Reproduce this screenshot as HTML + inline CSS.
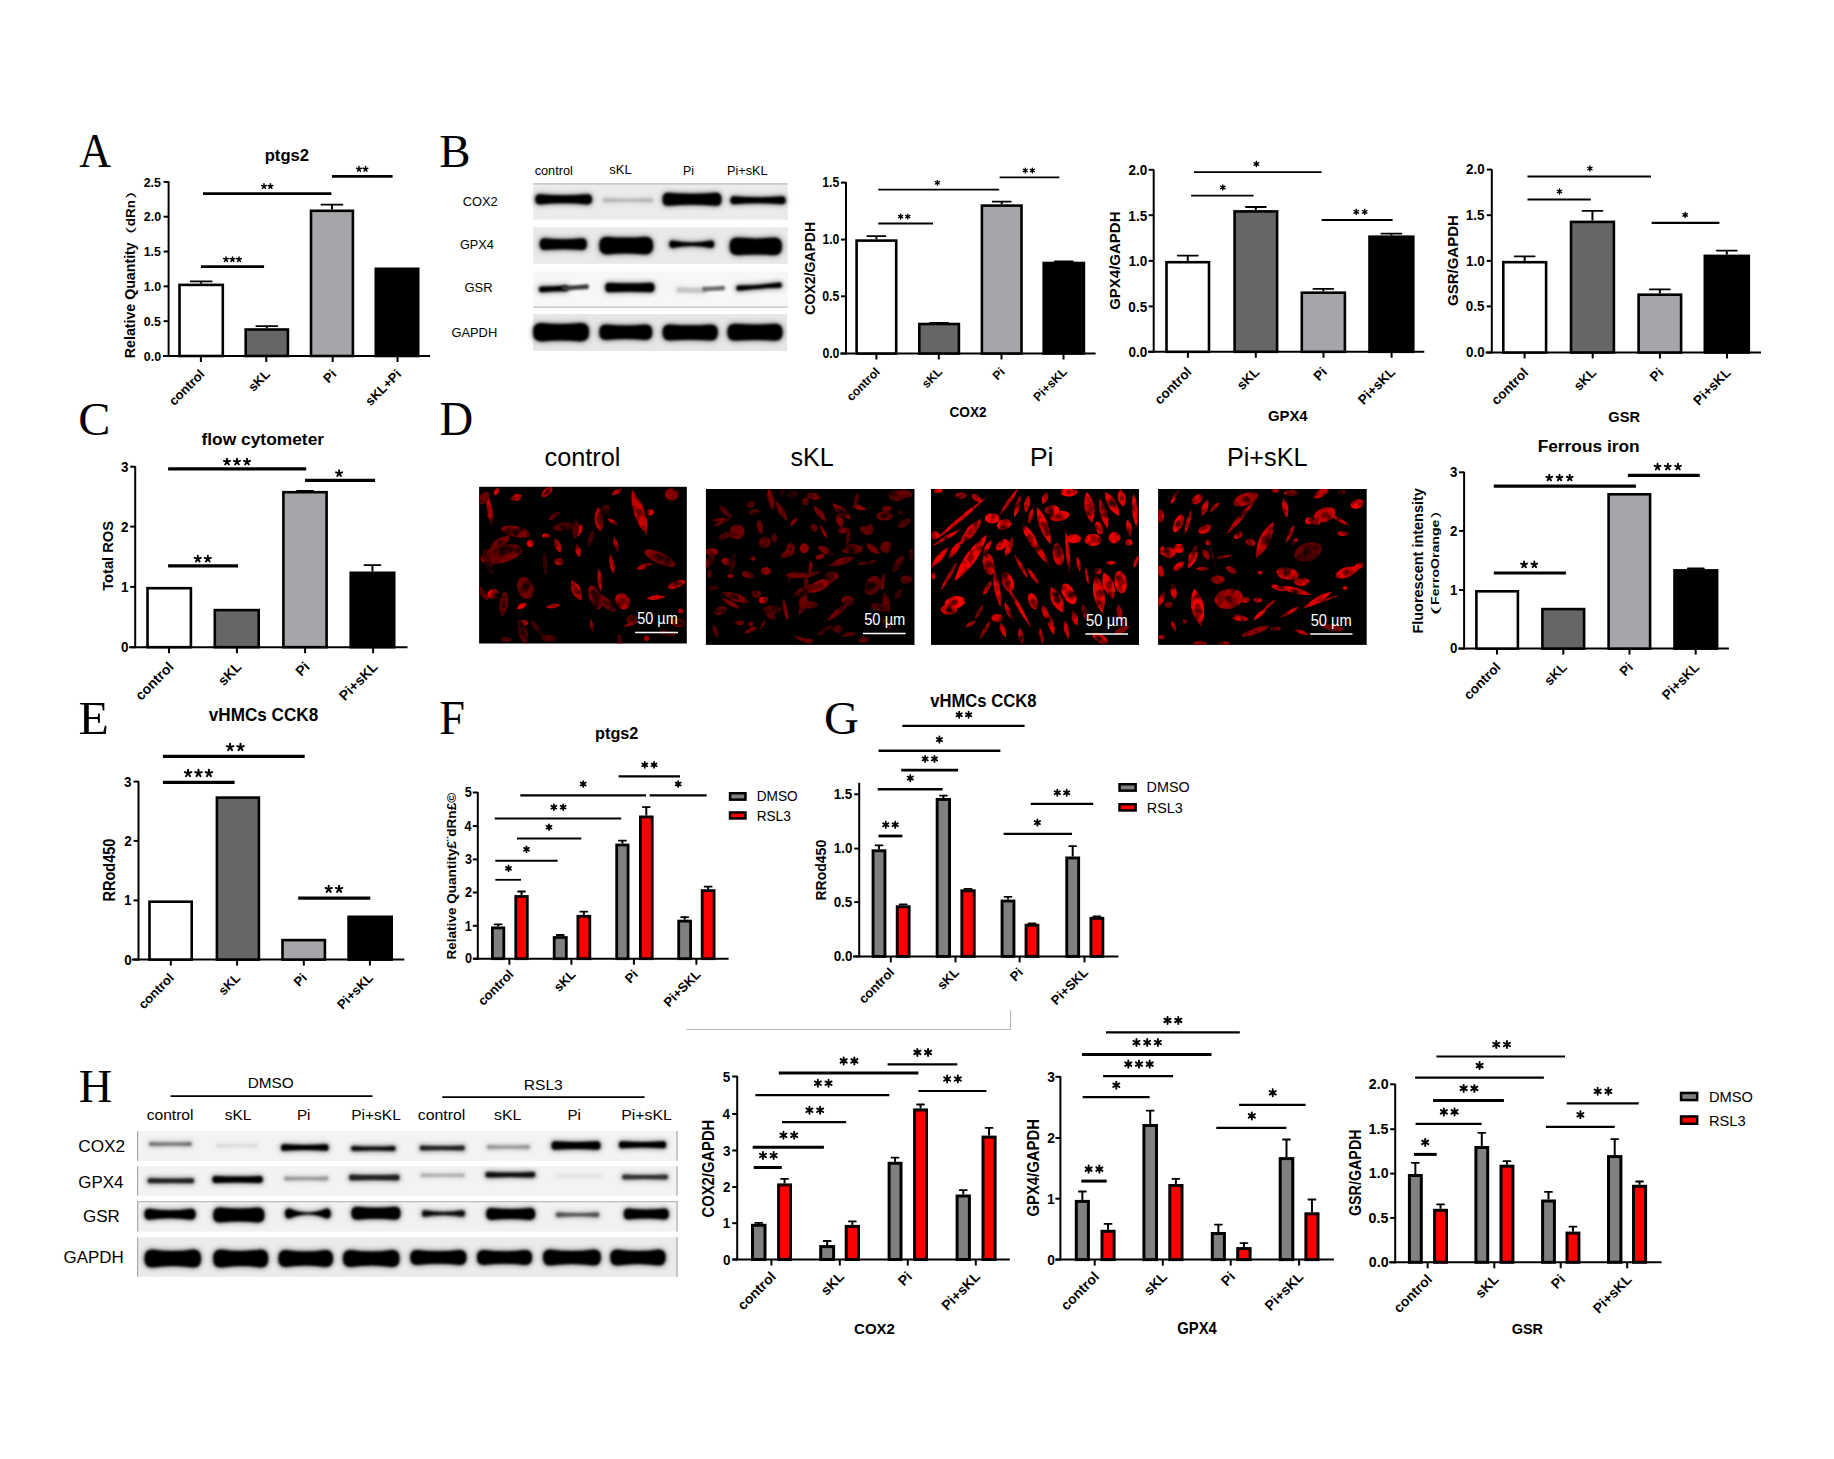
<!DOCTYPE html>
<html><head><meta charset="utf-8"><title>Figure</title>
<style>html,body{margin:0;padding:0;background:#fff;width:1834px;height:1459px;overflow:hidden}svg{display:block}</style>
</head><body>
<svg width="1834" height="1459" viewBox="0 0 1834 1459" font-family="'Liberation Sans', sans-serif">
<defs>
<filter id="b1" x="-20%" y="-100%" width="140%" height="300%"><feGaussianBlur stdDeviation="1.3"/></filter>
<filter id="b2" x="-20%" y="-100%" width="140%" height="300%"><feGaussianBlur stdDeviation="0.8"/></filter>
<filter id="bh" x="-30%" y="-150%" width="160%" height="400%"><feGaussianBlur stdDeviation="2.5"/></filter>
<filter id="cb" x="0" y="0" width="100%" height="100%" color-interpolation-filters="sRGB"><feTurbulence type="fractalNoise" baseFrequency="0.11" numOctaves="2" seed="7" result="n"/><feColorMatrix in="n" type="matrix" values="0 0 0 0 0  0 0 0 0 0  0 0 0 0 0  0 0 0 2.0 -0.2" result="na"/><feComposite in="SourceGraphic" in2="na" operator="in" result="t"/><feGaussianBlur in="t" stdDeviation="0.7"/></filter>
</defs>
<rect width="1834" height="1459" fill="#fff"/>
<text x="79.26" y="167.20" font-size="48.03" fill="#000" font-family="'Liberation Serif', serif" textLength="31.86" lengthAdjust="spacingAndGlyphs">A</text>
<text x="439.21" y="166.79" font-size="45.48" fill="#000" font-family="'Liberation Serif', serif" textLength="31.31" lengthAdjust="spacingAndGlyphs">B</text>
<text x="78.27" y="434.74" font-size="45.65" fill="#000" font-family="'Liberation Serif', serif" textLength="32.16" lengthAdjust="spacingAndGlyphs">C</text>
<text x="439.62" y="434.88" font-size="47.76" fill="#000" font-family="'Liberation Serif', serif" textLength="33.63" lengthAdjust="spacingAndGlyphs">D</text>
<text x="78.53" y="734.10" font-size="47.33" fill="#000" font-family="'Liberation Serif', serif" textLength="30.40" lengthAdjust="spacingAndGlyphs">E</text>
<text x="439.23" y="734.00" font-size="47.94" fill="#000" font-family="'Liberation Serif', serif" textLength="25.75" lengthAdjust="spacingAndGlyphs">F</text>
<text x="823.97" y="733.54" font-size="46.10" fill="#000" font-family="'Liberation Serif', serif" textLength="34.89" lengthAdjust="spacingAndGlyphs">G</text>
<text x="78.82" y="1102.40" font-size="46.41" fill="#000" font-family="'Liberation Serif', serif" textLength="33.56" lengthAdjust="spacingAndGlyphs">H</text>
<line x1="168.60" y1="181.20" x2="168.60" y2="357.00" stroke="#000" stroke-width="2" stroke-linecap="butt"/>
<line x1="163.00" y1="356.00" x2="430.00" y2="356.00" stroke="#000" stroke-width="2" stroke-linecap="butt"/>
<line x1="163.60" y1="356.00" x2="168.60" y2="356.00" stroke="#000" stroke-width="2" stroke-linecap="butt"/>
<text x="143.82" y="360.70" font-size="13.48" fill="#000" font-weight="bold" textLength="17.28" lengthAdjust="spacingAndGlyphs">0.0</text>
<line x1="163.60" y1="321.18" x2="168.60" y2="321.18" stroke="#000" stroke-width="2" stroke-linecap="butt"/>
<text x="143.66" y="325.88" font-size="13.48" fill="#000" font-weight="bold" textLength="17.28" lengthAdjust="spacingAndGlyphs">0.5</text>
<line x1="163.60" y1="286.36" x2="168.60" y2="286.36" stroke="#000" stroke-width="2" stroke-linecap="butt"/>
<text x="143.82" y="291.06" font-size="13.48" fill="#000" font-weight="bold" textLength="17.28" lengthAdjust="spacingAndGlyphs">1.0</text>
<line x1="163.60" y1="251.54" x2="168.60" y2="251.54" stroke="#000" stroke-width="2" stroke-linecap="butt"/>
<text x="143.66" y="256.24" font-size="13.48" fill="#000" font-weight="bold" textLength="17.28" lengthAdjust="spacingAndGlyphs">1.5</text>
<line x1="163.60" y1="216.72" x2="168.60" y2="216.72" stroke="#000" stroke-width="2" stroke-linecap="butt"/>
<text x="143.82" y="221.42" font-size="13.48" fill="#000" font-weight="bold" textLength="17.28" lengthAdjust="spacingAndGlyphs">2.0</text>
<line x1="163.60" y1="181.90" x2="168.60" y2="181.90" stroke="#000" stroke-width="2" stroke-linecap="butt"/>
<text x="143.66" y="186.60" font-size="13.48" fill="#000" font-weight="bold" textLength="17.28" lengthAdjust="spacingAndGlyphs">2.5</text>
<line x1="200.90" y1="356.00" x2="200.90" y2="362.00" stroke="#000" stroke-width="2" stroke-linecap="butt"/>
<line x1="266.30" y1="356.00" x2="266.30" y2="362.00" stroke="#000" stroke-width="2" stroke-linecap="butt"/>
<line x1="332.70" y1="356.00" x2="332.70" y2="362.00" stroke="#000" stroke-width="2" stroke-linecap="butt"/>
<line x1="397.50" y1="356.00" x2="397.50" y2="362.00" stroke="#000" stroke-width="2" stroke-linecap="butt"/>
<line x1="201.15" y1="283.60" x2="201.15" y2="281.10" stroke="#000" stroke-width="2" stroke-linecap="butt"/>
<line x1="190.65" y1="281.40" x2="211.65" y2="281.40" stroke="#000" stroke-width="1.8" stroke-linecap="round"/>
<rect x="179.50" y="284.90" width="43.30" height="71.10" fill="#ffffff" stroke="#000" stroke-width="2.6"/>
<line x1="266.80" y1="328.20" x2="266.80" y2="325.80" stroke="#000" stroke-width="2" stroke-linecap="butt"/>
<line x1="256.30" y1="326.10" x2="277.30" y2="326.10" stroke="#000" stroke-width="1.8" stroke-linecap="round"/>
<rect x="245.70" y="329.50" width="42.20" height="26.50" fill="#666666" stroke="#000" stroke-width="2.6"/>
<line x1="331.95" y1="209.50" x2="331.95" y2="204.40" stroke="#000" stroke-width="2" stroke-linecap="butt"/>
<line x1="321.45" y1="204.70" x2="342.45" y2="204.70" stroke="#000" stroke-width="1.8" stroke-linecap="round"/>
<rect x="311.00" y="210.80" width="41.90" height="145.20" fill="#a6a6aa" stroke="#000" stroke-width="2.6"/>
<rect x="375.80" y="268.80" width="42.40" height="87.20" fill="#000000" stroke="#000" stroke-width="2.6"/>
<line x1="200.90" y1="266.70" x2="264.10" y2="266.70" stroke="#000" stroke-width="2.8" stroke-linecap="butt"/>
<path d="M226.00 259.40L226.00 256.90M226.00 259.40L228.35 258.54M226.00 259.40L223.65 258.54M226.00 259.40L227.43 261.45M226.00 259.40L224.57 261.45" stroke="#000" stroke-width="1.50" stroke-linecap="round" fill="none"/>
<path d="M232.50 259.40L232.50 256.90M232.50 259.40L234.85 258.54M232.50 259.40L230.15 258.54M232.50 259.40L233.93 261.45M232.50 259.40L231.07 261.45" stroke="#000" stroke-width="1.50" stroke-linecap="round" fill="none"/>
<path d="M239.00 259.40L239.00 256.90M239.00 259.40L241.35 258.54M239.00 259.40L236.65 258.54M239.00 259.40L240.43 261.45M239.00 259.40L237.57 261.45" stroke="#000" stroke-width="1.50" stroke-linecap="round" fill="none"/>
<line x1="203.00" y1="193.60" x2="331.40" y2="193.60" stroke="#000" stroke-width="2.8" stroke-linecap="butt"/>
<path d="M263.95 186.30L263.95 183.80M263.95 186.30L266.30 185.44M263.95 186.30L261.60 185.44M263.95 186.30L265.38 188.35M263.95 186.30L262.52 188.35" stroke="#000" stroke-width="1.50" stroke-linecap="round" fill="none"/>
<path d="M270.45 186.30L270.45 183.80M270.45 186.30L272.80 185.44M270.45 186.30L268.10 185.44M270.45 186.30L271.88 188.35M270.45 186.30L269.02 188.35" stroke="#000" stroke-width="1.50" stroke-linecap="round" fill="none"/>
<line x1="331.90" y1="176.40" x2="392.60" y2="176.40" stroke="#000" stroke-width="2.8" stroke-linecap="butt"/>
<path d="M359.00 169.10L359.00 166.60M359.00 169.10L361.35 168.24M359.00 169.10L356.65 168.24M359.00 169.10L360.43 171.15M359.00 169.10L357.57 171.15" stroke="#000" stroke-width="1.50" stroke-linecap="round" fill="none"/>
<path d="M365.50 169.10L365.50 166.60M365.50 169.10L367.85 168.24M365.50 169.10L363.15 168.24M365.50 169.10L366.93 171.15M365.50 169.10L364.07 171.15" stroke="#000" stroke-width="1.50" stroke-linecap="round" fill="none"/>
<text x="205.40" y="375.00" font-size="13" fill="#000" font-weight="bold" text-anchor="end" transform="rotate(-45 205.40 375.00)">control</text>
<text x="270.80" y="375.00" font-size="13" fill="#000" font-weight="bold" text-anchor="end" transform="rotate(-45 270.80 375.00)">sKL</text>
<text x="337.20" y="375.00" font-size="13" fill="#000" font-weight="bold" text-anchor="end" transform="rotate(-45 337.20 375.00)">Pi</text>
<text x="402.00" y="375.00" font-size="13" fill="#000" font-weight="bold" text-anchor="end" transform="rotate(-45 402.00 375.00)">sKL+Pi</text>
<text x="264.72" y="160.88" font-size="17.03" fill="#000" font-weight="bold" textLength="44.34" lengthAdjust="spacingAndGlyphs">ptgs2</text>
<text x="134.93" y="358.16" font-size="13.83" fill="#000" font-weight="bold" textLength="115.85" lengthAdjust="spacingAndGlyphs" transform="rotate(-90 134.93 358.16)">Relative Quantity</text>
<text x="133.66" y="233.80" font-size="11.26" fill="#000" textLength="6.91" lengthAdjust="spacingAndGlyphs" transform="rotate(-90 133.66 233.80)">(</text>
<text x="134.80" y="226.24" font-size="13.66" fill="#000" font-weight="bold" textLength="26.06" lengthAdjust="spacingAndGlyphs" transform="rotate(-90 134.80 226.24)">dRn</text>
<text x="133.66" y="198.14" font-size="11.26" fill="#000" textLength="6.28" lengthAdjust="spacingAndGlyphs" transform="rotate(-90 133.66 198.14)">)</text>
<line x1="846.00" y1="182.20" x2="846.00" y2="354.50" stroke="#000" stroke-width="2" stroke-linecap="butt"/>
<line x1="840.30" y1="353.50" x2="1095.60" y2="353.50" stroke="#000" stroke-width="2" stroke-linecap="butt"/>
<line x1="841.00" y1="353.50" x2="846.00" y2="353.50" stroke="#000" stroke-width="2" stroke-linecap="butt"/>
<text x="822.39" y="358.35" font-size="14.11" fill="#000" font-weight="bold" textLength="17.00" lengthAdjust="spacingAndGlyphs">0.0</text>
<line x1="841.00" y1="296.30" x2="846.00" y2="296.30" stroke="#000" stroke-width="2" stroke-linecap="butt"/>
<text x="822.24" y="301.15" font-size="14.11" fill="#000" font-weight="bold" textLength="17.00" lengthAdjust="spacingAndGlyphs">0.5</text>
<line x1="841.00" y1="239.60" x2="846.00" y2="239.60" stroke="#000" stroke-width="2" stroke-linecap="butt"/>
<text x="822.39" y="244.45" font-size="14.11" fill="#000" font-weight="bold" textLength="17.00" lengthAdjust="spacingAndGlyphs">1.0</text>
<line x1="841.00" y1="182.60" x2="846.00" y2="182.60" stroke="#000" stroke-width="2" stroke-linecap="butt"/>
<text x="822.24" y="187.45" font-size="14.11" fill="#000" font-weight="bold" textLength="17.00" lengthAdjust="spacingAndGlyphs">1.5</text>
<line x1="876.40" y1="353.50" x2="876.40" y2="359.50" stroke="#000" stroke-width="2" stroke-linecap="butt"/>
<line x1="938.80" y1="353.50" x2="938.80" y2="359.50" stroke="#000" stroke-width="2" stroke-linecap="butt"/>
<line x1="1001.50" y1="353.50" x2="1001.50" y2="359.50" stroke="#000" stroke-width="2" stroke-linecap="butt"/>
<line x1="1063.50" y1="353.50" x2="1063.50" y2="359.50" stroke="#000" stroke-width="2" stroke-linecap="butt"/>
<line x1="876.40" y1="239.30" x2="876.40" y2="235.90" stroke="#000" stroke-width="2" stroke-linecap="butt"/>
<line x1="867.40" y1="236.20" x2="885.40" y2="236.20" stroke="#000" stroke-width="1.8" stroke-linecap="round"/>
<rect x="856.60" y="240.60" width="39.60" height="112.90" fill="#ffffff" stroke="#000" stroke-width="2.6"/>
<line x1="939.10" y1="322.70" x2="939.10" y2="322.50" stroke="#000" stroke-width="2" stroke-linecap="butt"/>
<line x1="930.10" y1="322.80" x2="948.10" y2="322.80" stroke="#000" stroke-width="1.8" stroke-linecap="round"/>
<rect x="919.30" y="324.00" width="39.60" height="29.50" fill="#666666" stroke="#000" stroke-width="2.6"/>
<line x1="1001.70" y1="204.30" x2="1001.70" y2="201.40" stroke="#000" stroke-width="2" stroke-linecap="butt"/>
<line x1="992.70" y1="201.70" x2="1010.70" y2="201.70" stroke="#000" stroke-width="1.8" stroke-linecap="round"/>
<rect x="981.90" y="205.60" width="39.60" height="147.90" fill="#a6a6aa" stroke="#000" stroke-width="2.6"/>
<line x1="1063.80" y1="261.70" x2="1063.80" y2="261.00" stroke="#000" stroke-width="2" stroke-linecap="butt"/>
<line x1="1054.80" y1="261.30" x2="1072.80" y2="261.30" stroke="#000" stroke-width="1.8" stroke-linecap="round"/>
<rect x="1043.70" y="263.00" width="40.20" height="90.50" fill="#000000" stroke="#000" stroke-width="2.6"/>
<line x1="878.30" y1="223.50" x2="933.00" y2="223.50" stroke="#000" stroke-width="1.8" stroke-linecap="butt"/>
<path d="M900.65 216.60L900.65 214.20M900.65 216.60L900.65 219.00M900.65 216.60L902.73 215.40M900.65 216.60L902.73 217.80M900.65 216.60L898.57 217.80M900.65 216.60L898.57 215.40" stroke="#000" stroke-width="1.30" stroke-linecap="round" fill="none"/>
<path d="M907.75 216.60L907.75 214.20M907.75 216.60L907.75 219.00M907.75 216.60L909.83 215.40M907.75 216.60L909.83 217.80M907.75 216.60L905.67 217.80M907.75 216.60L905.67 215.40" stroke="#000" stroke-width="1.30" stroke-linecap="round" fill="none"/>
<line x1="878.30" y1="189.70" x2="999.20" y2="189.70" stroke="#000" stroke-width="1.8" stroke-linecap="butt"/>
<path d="M937.40 182.80L937.40 180.40M937.40 182.80L937.40 185.20M937.40 182.80L939.48 181.60M937.40 182.80L939.48 184.00M937.40 182.80L935.32 184.00M937.40 182.80L935.32 181.60" stroke="#000" stroke-width="1.30" stroke-linecap="round" fill="none"/>
<line x1="999.60" y1="177.40" x2="1059.30" y2="177.40" stroke="#000" stroke-width="1.8" stroke-linecap="butt"/>
<path d="M1025.25 170.50L1025.25 168.10M1025.25 170.50L1025.25 172.90M1025.25 170.50L1027.33 169.30M1025.25 170.50L1027.33 171.70M1025.25 170.50L1023.17 171.70M1025.25 170.50L1023.17 169.30" stroke="#000" stroke-width="1.30" stroke-linecap="round" fill="none"/>
<path d="M1032.35 170.50L1032.35 168.10M1032.35 170.50L1032.35 172.90M1032.35 170.50L1034.43 169.30M1032.35 170.50L1034.43 171.70M1032.35 170.50L1030.27 171.70M1032.35 170.50L1030.27 169.30" stroke="#000" stroke-width="1.30" stroke-linecap="round" fill="none"/>
<text x="880.60" y="372.50" font-size="12.2" fill="#000" font-weight="bold" text-anchor="end" transform="rotate(-45 880.60 372.50)">control</text>
<text x="943.00" y="372.50" font-size="12.2" fill="#000" font-weight="bold" text-anchor="end" transform="rotate(-45 943.00 372.50)">sKL</text>
<text x="1005.70" y="372.50" font-size="12.2" fill="#000" font-weight="bold" text-anchor="end" transform="rotate(-45 1005.70 372.50)">Pi</text>
<text x="1067.70" y="372.50" font-size="12.2" fill="#000" font-weight="bold" text-anchor="end" transform="rotate(-45 1067.70 372.50)">Pi+sKL</text>
<text x="949.56" y="417.00" font-size="15.05" fill="#000" font-weight="bold" textLength="37.06" lengthAdjust="spacingAndGlyphs">COX2</text>
<text x="814.90" y="314.66" font-size="14.90" fill="#000" font-weight="bold" textLength="92.71" lengthAdjust="spacingAndGlyphs" transform="rotate(-90 814.90 314.66)">COX2/GAPDH</text>
<line x1="1153.70" y1="169.40" x2="1153.70" y2="352.80" stroke="#000" stroke-width="2" stroke-linecap="butt"/>
<line x1="1148.00" y1="351.80" x2="1424.30" y2="351.80" stroke="#000" stroke-width="2" stroke-linecap="butt"/>
<line x1="1148.70" y1="351.80" x2="1153.70" y2="351.80" stroke="#000" stroke-width="2" stroke-linecap="butt"/>
<text x="1128.53" y="357.10" font-size="15.20" fill="#000" font-weight="bold" textLength="18.82" lengthAdjust="spacingAndGlyphs">0.0</text>
<line x1="1148.70" y1="306.40" x2="1153.70" y2="306.40" stroke="#000" stroke-width="2" stroke-linecap="butt"/>
<text x="1128.36" y="311.70" font-size="15.20" fill="#000" font-weight="bold" textLength="18.82" lengthAdjust="spacingAndGlyphs">0.5</text>
<line x1="1148.70" y1="260.90" x2="1153.70" y2="260.90" stroke="#000" stroke-width="2" stroke-linecap="butt"/>
<text x="1128.53" y="266.20" font-size="15.20" fill="#000" font-weight="bold" textLength="18.82" lengthAdjust="spacingAndGlyphs">1.0</text>
<line x1="1148.70" y1="215.20" x2="1153.70" y2="215.20" stroke="#000" stroke-width="2" stroke-linecap="butt"/>
<text x="1128.36" y="220.50" font-size="15.20" fill="#000" font-weight="bold" textLength="18.82" lengthAdjust="spacingAndGlyphs">1.5</text>
<line x1="1148.70" y1="169.80" x2="1153.70" y2="169.80" stroke="#000" stroke-width="2" stroke-linecap="butt"/>
<text x="1128.53" y="175.10" font-size="15.20" fill="#000" font-weight="bold" textLength="18.82" lengthAdjust="spacingAndGlyphs">2.0</text>
<line x1="1187.90" y1="351.80" x2="1187.90" y2="357.80" stroke="#000" stroke-width="2" stroke-linecap="butt"/>
<line x1="1255.80" y1="351.80" x2="1255.80" y2="357.80" stroke="#000" stroke-width="2" stroke-linecap="butt"/>
<line x1="1323.50" y1="351.80" x2="1323.50" y2="357.80" stroke="#000" stroke-width="2" stroke-linecap="butt"/>
<line x1="1391.60" y1="351.80" x2="1391.60" y2="357.80" stroke="#000" stroke-width="2" stroke-linecap="butt"/>
<line x1="1187.75" y1="260.90" x2="1187.75" y2="255.30" stroke="#000" stroke-width="2" stroke-linecap="butt"/>
<line x1="1177.75" y1="255.60" x2="1197.75" y2="255.60" stroke="#000" stroke-width="1.8" stroke-linecap="round"/>
<rect x="1166.50" y="262.20" width="42.50" height="89.60" fill="#ffffff" stroke="#000" stroke-width="2.6"/>
<line x1="1255.85" y1="210.10" x2="1255.85" y2="206.70" stroke="#000" stroke-width="2" stroke-linecap="butt"/>
<line x1="1245.85" y1="207.00" x2="1265.85" y2="207.00" stroke="#000" stroke-width="1.8" stroke-linecap="round"/>
<rect x="1234.60" y="211.40" width="42.50" height="140.40" fill="#666666" stroke="#000" stroke-width="2.6"/>
<line x1="1323.35" y1="291.40" x2="1323.35" y2="288.50" stroke="#000" stroke-width="2" stroke-linecap="butt"/>
<line x1="1313.35" y1="288.80" x2="1333.35" y2="288.80" stroke="#000" stroke-width="1.8" stroke-linecap="round"/>
<rect x="1301.80" y="292.70" width="43.10" height="59.10" fill="#a6a6aa" stroke="#000" stroke-width="2.6"/>
<line x1="1391.40" y1="235.40" x2="1391.40" y2="233.40" stroke="#000" stroke-width="2" stroke-linecap="butt"/>
<line x1="1381.40" y1="233.70" x2="1401.40" y2="233.70" stroke="#000" stroke-width="1.8" stroke-linecap="round"/>
<rect x="1369.50" y="236.70" width="43.80" height="115.10" fill="#000000" stroke="#000" stroke-width="2.6"/>
<line x1="1194.00" y1="172.10" x2="1321.60" y2="172.10" stroke="#000" stroke-width="1.8" stroke-linecap="butt"/>
<path d="M1256.40 163.90L1256.40 161.30M1256.40 163.90L1256.40 166.50M1256.40 163.90L1258.65 162.60M1256.40 163.90L1258.65 165.20M1256.40 163.90L1254.15 165.20M1256.40 163.90L1254.15 162.60" stroke="#000" stroke-width="1.40" stroke-linecap="round" fill="none"/>
<line x1="1191.10" y1="195.70" x2="1253.50" y2="195.70" stroke="#000" stroke-width="1.8" stroke-linecap="butt"/>
<path d="M1222.80 187.50L1222.80 184.90M1222.80 187.50L1222.80 190.10M1222.80 187.50L1225.05 186.20M1222.80 187.50L1225.05 188.80M1222.80 187.50L1220.55 188.80M1222.80 187.50L1220.55 186.20" stroke="#000" stroke-width="1.40" stroke-linecap="round" fill="none"/>
<line x1="1321.60" y1="220.00" x2="1392.60" y2="220.00" stroke="#000" stroke-width="1.8" stroke-linecap="butt"/>
<path d="M1356.30 211.80L1356.30 209.20M1356.30 211.80L1356.30 214.40M1356.30 211.80L1358.55 210.50M1356.30 211.80L1358.55 213.10M1356.30 211.80L1354.05 213.10M1356.30 211.80L1354.05 210.50" stroke="#000" stroke-width="1.40" stroke-linecap="round" fill="none"/>
<path d="M1364.70 211.80L1364.70 209.20M1364.70 211.80L1364.70 214.40M1364.70 211.80L1366.95 210.50M1364.70 211.80L1366.95 213.10M1364.70 211.80L1362.45 213.10M1364.70 211.80L1362.45 210.50" stroke="#000" stroke-width="1.40" stroke-linecap="round" fill="none"/>
<text x="1192.40" y="372.80" font-size="13.5" fill="#000" font-weight="bold" text-anchor="end" transform="rotate(-45 1192.40 372.80)">control</text>
<text x="1260.30" y="372.80" font-size="13.5" fill="#000" font-weight="bold" text-anchor="end" transform="rotate(-45 1260.30 372.80)">sKL</text>
<text x="1328.00" y="372.80" font-size="13.5" fill="#000" font-weight="bold" text-anchor="end" transform="rotate(-45 1328.00 372.80)">Pi</text>
<text x="1396.10" y="372.80" font-size="13.5" fill="#000" font-weight="bold" text-anchor="end" transform="rotate(-45 1396.10 372.80)">Pi+sKL</text>
<text x="1267.91" y="420.80" font-size="15.05" fill="#000" font-weight="bold" textLength="39.68" lengthAdjust="spacingAndGlyphs">GPX4</text>
<text x="1120.00" y="309.80" font-size="15.31" fill="#000" font-weight="bold" textLength="98.31" lengthAdjust="spacingAndGlyphs" transform="rotate(-90 1120.00 309.80)">GPX4/GAPDH</text>
<line x1="1491.80" y1="169.20" x2="1491.80" y2="353.50" stroke="#000" stroke-width="2" stroke-linecap="butt"/>
<line x1="1485.60" y1="352.50" x2="1761.00" y2="352.50" stroke="#000" stroke-width="2" stroke-linecap="butt"/>
<line x1="1486.80" y1="352.50" x2="1491.80" y2="352.50" stroke="#000" stroke-width="2" stroke-linecap="butt"/>
<text x="1466.03" y="357.30" font-size="13.76" fill="#000" font-weight="bold" textLength="18.61" lengthAdjust="spacingAndGlyphs">0.0</text>
<line x1="1486.80" y1="306.40" x2="1491.80" y2="306.40" stroke="#000" stroke-width="2" stroke-linecap="butt"/>
<text x="1465.86" y="311.20" font-size="13.76" fill="#000" font-weight="bold" textLength="18.61" lengthAdjust="spacingAndGlyphs">0.5</text>
<line x1="1486.80" y1="260.90" x2="1491.80" y2="260.90" stroke="#000" stroke-width="2" stroke-linecap="butt"/>
<text x="1466.03" y="265.70" font-size="13.76" fill="#000" font-weight="bold" textLength="18.61" lengthAdjust="spacingAndGlyphs">1.0</text>
<line x1="1486.80" y1="215.20" x2="1491.80" y2="215.20" stroke="#000" stroke-width="2" stroke-linecap="butt"/>
<text x="1465.86" y="220.00" font-size="13.76" fill="#000" font-weight="bold" textLength="18.61" lengthAdjust="spacingAndGlyphs">1.5</text>
<line x1="1486.80" y1="169.60" x2="1491.80" y2="169.60" stroke="#000" stroke-width="2" stroke-linecap="butt"/>
<text x="1466.03" y="174.40" font-size="13.76" fill="#000" font-weight="bold" textLength="18.61" lengthAdjust="spacingAndGlyphs">2.0</text>
<line x1="1524.60" y1="352.50" x2="1524.60" y2="358.50" stroke="#000" stroke-width="2" stroke-linecap="butt"/>
<line x1="1592.70" y1="352.50" x2="1592.70" y2="358.50" stroke="#000" stroke-width="2" stroke-linecap="butt"/>
<line x1="1659.90" y1="352.50" x2="1659.90" y2="358.50" stroke="#000" stroke-width="2" stroke-linecap="butt"/>
<line x1="1727.00" y1="352.50" x2="1727.00" y2="358.50" stroke="#000" stroke-width="2" stroke-linecap="butt"/>
<line x1="1524.70" y1="260.90" x2="1524.70" y2="256.00" stroke="#000" stroke-width="2" stroke-linecap="butt"/>
<line x1="1514.70" y1="256.30" x2="1534.70" y2="256.30" stroke="#000" stroke-width="1.8" stroke-linecap="round"/>
<rect x="1503.30" y="262.20" width="42.80" height="90.30" fill="#ffffff" stroke="#000" stroke-width="2.6"/>
<line x1="1592.45" y1="220.60" x2="1592.45" y2="210.50" stroke="#000" stroke-width="2" stroke-linecap="butt"/>
<line x1="1582.45" y1="210.80" x2="1602.45" y2="210.80" stroke="#000" stroke-width="1.8" stroke-linecap="round"/>
<rect x="1571.00" y="221.90" width="42.90" height="130.60" fill="#666666" stroke="#000" stroke-width="2.6"/>
<line x1="1659.85" y1="293.40" x2="1659.85" y2="289.10" stroke="#000" stroke-width="2" stroke-linecap="butt"/>
<line x1="1649.85" y1="289.40" x2="1669.85" y2="289.40" stroke="#000" stroke-width="1.8" stroke-linecap="round"/>
<rect x="1638.60" y="294.70" width="42.50" height="57.80" fill="#a6a6aa" stroke="#000" stroke-width="2.6"/>
<line x1="1726.80" y1="254.60" x2="1726.80" y2="250.30" stroke="#000" stroke-width="2" stroke-linecap="butt"/>
<line x1="1716.80" y1="250.60" x2="1736.80" y2="250.60" stroke="#000" stroke-width="1.8" stroke-linecap="round"/>
<rect x="1704.80" y="255.90" width="44.00" height="96.60" fill="#000000" stroke="#000" stroke-width="2.6"/>
<line x1="1527.50" y1="176.50" x2="1651.00" y2="176.50" stroke="#000" stroke-width="2.2" stroke-linecap="butt"/>
<path d="M1589.90 168.50L1589.90 166.00M1589.90 168.50L1589.90 171.00M1589.90 168.50L1592.07 167.25M1589.90 168.50L1592.07 169.75M1589.90 168.50L1587.73 169.75M1589.90 168.50L1587.73 167.25" stroke="#000" stroke-width="1.40" stroke-linecap="round" fill="none"/>
<line x1="1527.50" y1="199.50" x2="1590.80" y2="199.50" stroke="#000" stroke-width="2.2" stroke-linecap="butt"/>
<path d="M1559.50 191.50L1559.50 189.00M1559.50 191.50L1559.50 194.00M1559.50 191.50L1561.67 190.25M1559.50 191.50L1561.67 192.75M1559.50 191.50L1557.33 192.75M1559.50 191.50L1557.33 190.25" stroke="#000" stroke-width="1.40" stroke-linecap="round" fill="none"/>
<line x1="1651.60" y1="222.90" x2="1719.40" y2="222.90" stroke="#000" stroke-width="2.2" stroke-linecap="butt"/>
<path d="M1685.20 214.90L1685.20 212.40M1685.20 214.90L1685.20 217.40M1685.20 214.90L1687.37 213.65M1685.20 214.90L1687.37 216.15M1685.20 214.90L1683.03 216.15M1685.20 214.90L1683.03 213.65" stroke="#000" stroke-width="1.40" stroke-linecap="round" fill="none"/>
<text x="1529.10" y="373.50" font-size="13.5" fill="#000" font-weight="bold" text-anchor="end" transform="rotate(-45 1529.10 373.50)">control</text>
<text x="1597.20" y="373.50" font-size="13.5" fill="#000" font-weight="bold" text-anchor="end" transform="rotate(-45 1597.20 373.50)">sKL</text>
<text x="1664.40" y="373.50" font-size="13.5" fill="#000" font-weight="bold" text-anchor="end" transform="rotate(-45 1664.40 373.50)">Pi</text>
<text x="1731.50" y="373.50" font-size="13.5" fill="#000" font-weight="bold" text-anchor="end" transform="rotate(-45 1731.50 373.50)">Pi+sKL</text>
<text x="1608.31" y="421.50" font-size="15.05" fill="#000" font-weight="bold" textLength="31.71" lengthAdjust="spacingAndGlyphs">GSR</text>
<text x="1458.40" y="306.00" font-size="15.31" fill="#000" font-weight="bold" textLength="90.79" lengthAdjust="spacingAndGlyphs" transform="rotate(-90 1458.40 306.00)">GSR/GAPDH</text>
<line x1="135.20" y1="466.20" x2="135.20" y2="648.20" stroke="#000" stroke-width="2" stroke-linecap="butt"/>
<line x1="129.10" y1="647.20" x2="407.50" y2="647.20" stroke="#000" stroke-width="2" stroke-linecap="butt"/>
<line x1="130.20" y1="647.20" x2="135.20" y2="647.20" stroke="#000" stroke-width="2" stroke-linecap="butt"/>
<text x="121.06" y="652.10" font-size="14.05" fill="#000" font-weight="bold" textLength="7.49" lengthAdjust="spacingAndGlyphs">0</text>
<line x1="130.20" y1="586.90" x2="135.20" y2="586.90" stroke="#000" stroke-width="2" stroke-linecap="butt"/>
<text x="120.90" y="591.80" font-size="14.05" fill="#000" font-weight="bold" textLength="7.49" lengthAdjust="spacingAndGlyphs">1</text>
<line x1="130.20" y1="526.60" x2="135.20" y2="526.60" stroke="#000" stroke-width="2" stroke-linecap="butt"/>
<text x="121.03" y="531.50" font-size="14.05" fill="#000" font-weight="bold" textLength="7.49" lengthAdjust="spacingAndGlyphs">2</text>
<line x1="130.20" y1="466.70" x2="135.20" y2="466.70" stroke="#000" stroke-width="2" stroke-linecap="butt"/>
<text x="121.00" y="471.60" font-size="14.05" fill="#000" font-weight="bold" textLength="7.49" lengthAdjust="spacingAndGlyphs">3</text>
<line x1="169.00" y1="647.20" x2="169.00" y2="653.20" stroke="#000" stroke-width="2" stroke-linecap="butt"/>
<line x1="236.90" y1="647.20" x2="236.90" y2="653.20" stroke="#000" stroke-width="2" stroke-linecap="butt"/>
<line x1="305.10" y1="647.20" x2="305.10" y2="653.20" stroke="#000" stroke-width="2" stroke-linecap="butt"/>
<line x1="373.10" y1="647.20" x2="373.10" y2="653.20" stroke="#000" stroke-width="2" stroke-linecap="butt"/>
<rect x="147.50" y="588.20" width="43.40" height="59.00" fill="#ffffff" stroke="#000" stroke-width="2.6"/>
<rect x="214.80" y="610.10" width="43.90" height="37.10" fill="#666666" stroke="#000" stroke-width="2.6"/>
<line x1="305.00" y1="490.90" x2="305.00" y2="490.50" stroke="#000" stroke-width="2" stroke-linecap="butt"/>
<line x1="297.00" y1="490.80" x2="313.00" y2="490.80" stroke="#000" stroke-width="1.8" stroke-linecap="round"/>
<rect x="283.40" y="492.20" width="43.20" height="155.00" fill="#a6a6aa" stroke="#000" stroke-width="2.6"/>
<line x1="372.45" y1="571.50" x2="372.45" y2="564.80" stroke="#000" stroke-width="2" stroke-linecap="butt"/>
<line x1="364.45" y1="565.10" x2="380.45" y2="565.10" stroke="#000" stroke-width="1.8" stroke-linecap="round"/>
<rect x="350.70" y="572.80" width="43.50" height="74.40" fill="#000000" stroke="#000" stroke-width="2.6"/>
<line x1="168.10" y1="468.80" x2="306.20" y2="468.80" stroke="#000" stroke-width="3.2" stroke-linecap="butt"/>
<path d="M227.00 461.90L227.00 458.65M227.00 461.90L230.05 460.79M227.00 461.90L223.95 460.79M227.00 461.90L228.86 464.56M227.00 461.90L225.14 464.56" stroke="#000" stroke-width="1.90" stroke-linecap="round" fill="none"/>
<path d="M237.00 461.90L237.00 458.65M237.00 461.90L240.05 460.79M237.00 461.90L233.95 460.79M237.00 461.90L238.86 464.56M237.00 461.90L235.14 464.56" stroke="#000" stroke-width="1.90" stroke-linecap="round" fill="none"/>
<path d="M247.00 461.90L247.00 458.65M247.00 461.90L250.05 460.79M247.00 461.90L243.95 460.79M247.00 461.90L248.86 464.56M247.00 461.90L245.14 464.56" stroke="#000" stroke-width="1.90" stroke-linecap="round" fill="none"/>
<line x1="305.10" y1="480.30" x2="375.10" y2="480.30" stroke="#000" stroke-width="3.2" stroke-linecap="butt"/>
<path d="M339.10 473.40L339.10 470.15M339.10 473.40L342.15 472.29M339.10 473.40L336.05 472.29M339.10 473.40L340.96 476.06M339.10 473.40L337.24 476.06" stroke="#000" stroke-width="1.90" stroke-linecap="round" fill="none"/>
<line x1="168.10" y1="565.80" x2="238.00" y2="565.80" stroke="#000" stroke-width="3.2" stroke-linecap="butt"/>
<path d="M197.80 558.90L197.80 555.65M197.80 558.90L200.85 557.79M197.80 558.90L194.75 557.79M197.80 558.90L199.66 561.56M197.80 558.90L195.94 561.56" stroke="#000" stroke-width="1.90" stroke-linecap="round" fill="none"/>
<path d="M207.80 558.90L207.80 555.65M207.80 558.90L210.85 557.79M207.80 558.90L204.75 557.79M207.80 558.90L209.66 561.56M207.80 558.90L205.94 561.56" stroke="#000" stroke-width="1.90" stroke-linecap="round" fill="none"/>
<text x="174.50" y="667.70" font-size="14" fill="#000" font-weight="bold" text-anchor="end" transform="rotate(-45 174.50 667.70)">control</text>
<text x="242.40" y="667.70" font-size="14" fill="#000" font-weight="bold" text-anchor="end" transform="rotate(-45 242.40 667.70)">sKL</text>
<text x="310.60" y="667.70" font-size="14" fill="#000" font-weight="bold" text-anchor="end" transform="rotate(-45 310.60 667.70)">Pi</text>
<text x="378.60" y="667.70" font-size="14" fill="#000" font-weight="bold" text-anchor="end" transform="rotate(-45 378.60 667.70)">Pi+sKL</text>
<text x="201.50" y="445.00" font-size="17.37" fill="#000" font-weight="bold" textLength="122.56" lengthAdjust="spacingAndGlyphs">flow cytometer</text>
<text x="112.60" y="590.75" font-size="15.03" fill="#000" font-weight="bold" textLength="69.82" lengthAdjust="spacingAndGlyphs" transform="rotate(-90 112.60 590.75)">Total ROS</text>
<line x1="1464.10" y1="471.80" x2="1464.10" y2="649.60" stroke="#000" stroke-width="2" stroke-linecap="butt"/>
<line x1="1458.20" y1="648.60" x2="1728.90" y2="648.60" stroke="#000" stroke-width="2" stroke-linecap="butt"/>
<line x1="1459.10" y1="648.60" x2="1464.10" y2="648.60" stroke="#000" stroke-width="2" stroke-linecap="butt"/>
<text x="1450.07" y="653.45" font-size="13.91" fill="#000" font-weight="bold" textLength="7.38" lengthAdjust="spacingAndGlyphs">0</text>
<line x1="1459.10" y1="590.00" x2="1464.10" y2="590.00" stroke="#000" stroke-width="2" stroke-linecap="butt"/>
<text x="1449.90" y="594.85" font-size="13.91" fill="#000" font-weight="bold" textLength="7.38" lengthAdjust="spacingAndGlyphs">1</text>
<line x1="1459.10" y1="530.90" x2="1464.10" y2="530.90" stroke="#000" stroke-width="2" stroke-linecap="butt"/>
<text x="1450.03" y="535.75" font-size="13.91" fill="#000" font-weight="bold" textLength="7.38" lengthAdjust="spacingAndGlyphs">2</text>
<line x1="1459.10" y1="472.30" x2="1464.10" y2="472.30" stroke="#000" stroke-width="2" stroke-linecap="butt"/>
<text x="1450.00" y="477.15" font-size="13.91" fill="#000" font-weight="bold" textLength="7.38" lengthAdjust="spacingAndGlyphs">3</text>
<line x1="1497.00" y1="648.60" x2="1497.00" y2="654.60" stroke="#000" stroke-width="2" stroke-linecap="butt"/>
<line x1="1563.30" y1="648.60" x2="1563.30" y2="654.60" stroke="#000" stroke-width="2" stroke-linecap="butt"/>
<line x1="1629.50" y1="648.60" x2="1629.50" y2="654.60" stroke="#000" stroke-width="2" stroke-linecap="butt"/>
<line x1="1695.70" y1="648.60" x2="1695.70" y2="654.60" stroke="#000" stroke-width="2" stroke-linecap="butt"/>
<rect x="1476.40" y="591.30" width="41.50" height="57.30" fill="#ffffff" stroke="#000" stroke-width="2.6"/>
<rect x="1542.40" y="609.10" width="41.70" height="39.50" fill="#666666" stroke="#000" stroke-width="2.6"/>
<rect x="1608.60" y="494.30" width="41.50" height="154.30" fill="#a6a6aa" stroke="#000" stroke-width="2.6"/>
<line x1="1695.80" y1="569.10" x2="1695.80" y2="568.20" stroke="#000" stroke-width="2" stroke-linecap="butt"/>
<line x1="1687.80" y1="568.50" x2="1703.80" y2="568.50" stroke="#000" stroke-width="1.8" stroke-linecap="round"/>
<rect x="1674.50" y="570.40" width="42.60" height="78.20" fill="#000000" stroke="#000" stroke-width="2.6"/>
<line x1="1493.80" y1="486.20" x2="1635.90" y2="486.20" stroke="#000" stroke-width="3.2" stroke-linecap="butt"/>
<path d="M1549.25 477.80L1549.25 474.70M1549.25 477.80L1552.16 476.74M1549.25 477.80L1546.34 476.74M1549.25 477.80L1551.03 480.34M1549.25 477.80L1547.47 480.34" stroke="#000" stroke-width="1.90" stroke-linecap="round" fill="none"/>
<path d="M1559.50 477.80L1559.50 474.70M1559.50 477.80L1562.41 476.74M1559.50 477.80L1556.59 476.74M1559.50 477.80L1561.28 480.34M1559.50 477.80L1557.72 480.34" stroke="#000" stroke-width="1.90" stroke-linecap="round" fill="none"/>
<path d="M1569.75 477.80L1569.75 474.70M1569.75 477.80L1572.66 476.74M1569.75 477.80L1566.84 476.74M1569.75 477.80L1571.53 480.34M1569.75 477.80L1567.97 480.34" stroke="#000" stroke-width="1.90" stroke-linecap="round" fill="none"/>
<line x1="1627.90" y1="475.30" x2="1699.70" y2="475.30" stroke="#000" stroke-width="3.2" stroke-linecap="butt"/>
<path d="M1657.55 466.90L1657.55 463.80M1657.55 466.90L1660.46 465.84M1657.55 466.90L1654.64 465.84M1657.55 466.90L1659.33 469.44M1657.55 466.90L1655.77 469.44" stroke="#000" stroke-width="1.90" stroke-linecap="round" fill="none"/>
<path d="M1667.80 466.90L1667.80 463.80M1667.80 466.90L1670.71 465.84M1667.80 466.90L1664.89 465.84M1667.80 466.90L1669.58 469.44M1667.80 466.90L1666.02 469.44" stroke="#000" stroke-width="1.90" stroke-linecap="round" fill="none"/>
<path d="M1678.05 466.90L1678.05 463.80M1678.05 466.90L1680.96 465.84M1678.05 466.90L1675.14 465.84M1678.05 466.90L1679.83 469.44M1678.05 466.90L1676.27 469.44" stroke="#000" stroke-width="1.90" stroke-linecap="round" fill="none"/>
<line x1="1493.80" y1="573.00" x2="1565.90" y2="573.00" stroke="#000" stroke-width="3.2" stroke-linecap="butt"/>
<path d="M1524.08 564.60L1524.08 561.50M1524.08 564.60L1526.99 563.54M1524.08 564.60L1521.16 563.54M1524.08 564.60L1525.85 567.14M1524.08 564.60L1522.30 567.14" stroke="#000" stroke-width="1.90" stroke-linecap="round" fill="none"/>
<path d="M1534.33 564.60L1534.33 561.50M1534.33 564.60L1537.24 563.54M1534.33 564.60L1531.41 563.54M1534.33 564.60L1536.10 567.14M1534.33 564.60L1532.55 567.14" stroke="#000" stroke-width="1.90" stroke-linecap="round" fill="none"/>
<text x="1501.50" y="668.10" font-size="13.5" fill="#000" font-weight="bold" text-anchor="end" transform="rotate(-45 1501.50 668.10)">control</text>
<text x="1567.80" y="668.10" font-size="13.5" fill="#000" font-weight="bold" text-anchor="end" transform="rotate(-45 1567.80 668.10)">sKL</text>
<text x="1634.00" y="668.10" font-size="13.5" fill="#000" font-weight="bold" text-anchor="end" transform="rotate(-45 1634.00 668.10)">Pi</text>
<text x="1700.20" y="668.10" font-size="13.5" fill="#000" font-weight="bold" text-anchor="end" transform="rotate(-45 1700.20 668.10)">Pi+sKL</text>
<text x="1537.63" y="451.80" font-size="17.38" fill="#000" font-weight="bold" textLength="102.01" lengthAdjust="spacingAndGlyphs">Ferrous iron</text>
<text x="1423.46" y="633.58" font-size="14.16" fill="#000" font-weight="bold" textLength="145.46" lengthAdjust="spacingAndGlyphs" transform="rotate(-90 1423.46 633.58)">Fluorescent intensity</text>
<text x="1438.89" y="604.95" font-size="10.88" fill="#000" font-weight="bold" textLength="85.34" lengthAdjust="spacingAndGlyphs" transform="rotate(-90 1438.89 604.95)">FerroOrange</text>
<text x="1438.89" y="615.10" font-size="11.15" fill="#000" textLength="9.05" lengthAdjust="spacingAndGlyphs" transform="rotate(-90 1438.89 615.10)">(</text>
<text x="1438.89" y="518.04" font-size="11.15" fill="#000" textLength="6.28" lengthAdjust="spacingAndGlyphs" transform="rotate(-90 1438.89 518.04)">)</text>
<line x1="138.50" y1="781.10" x2="138.50" y2="960.60" stroke="#000" stroke-width="2" stroke-linecap="butt"/>
<line x1="131.90" y1="959.60" x2="404.30" y2="959.60" stroke="#000" stroke-width="2" stroke-linecap="butt"/>
<line x1="133.50" y1="959.60" x2="138.50" y2="959.60" stroke="#000" stroke-width="2" stroke-linecap="butt"/>
<text x="124.16" y="964.55" font-size="14.19" fill="#000" font-weight="bold" textLength="7.49" lengthAdjust="spacingAndGlyphs">0</text>
<line x1="133.50" y1="900.40" x2="138.50" y2="900.40" stroke="#000" stroke-width="2" stroke-linecap="butt"/>
<text x="124.00" y="905.35" font-size="14.19" fill="#000" font-weight="bold" textLength="7.49" lengthAdjust="spacingAndGlyphs">1</text>
<line x1="133.50" y1="840.90" x2="138.50" y2="840.90" stroke="#000" stroke-width="2" stroke-linecap="butt"/>
<text x="124.13" y="845.85" font-size="14.19" fill="#000" font-weight="bold" textLength="7.49" lengthAdjust="spacingAndGlyphs">2</text>
<line x1="133.50" y1="781.60" x2="138.50" y2="781.60" stroke="#000" stroke-width="2" stroke-linecap="butt"/>
<text x="124.10" y="786.55" font-size="14.19" fill="#000" font-weight="bold" textLength="7.49" lengthAdjust="spacingAndGlyphs">3</text>
<line x1="170.80" y1="959.60" x2="170.80" y2="965.60" stroke="#000" stroke-width="2" stroke-linecap="butt"/>
<line x1="237.10" y1="959.60" x2="237.10" y2="965.60" stroke="#000" stroke-width="2" stroke-linecap="butt"/>
<line x1="303.80" y1="959.60" x2="303.80" y2="965.60" stroke="#000" stroke-width="2" stroke-linecap="butt"/>
<line x1="369.90" y1="959.60" x2="369.90" y2="965.60" stroke="#000" stroke-width="2" stroke-linecap="butt"/>
<rect x="149.50" y="901.70" width="42.20" height="57.90" fill="#ffffff" stroke="#000" stroke-width="2.6"/>
<rect x="216.90" y="797.60" width="42.00" height="162.00" fill="#666666" stroke="#000" stroke-width="2.6"/>
<rect x="282.50" y="940.10" width="42.40" height="19.50" fill="#a6a6aa" stroke="#000" stroke-width="2.6"/>
<rect x="348.60" y="916.80" width="43.10" height="42.80" fill="#000000" stroke="#000" stroke-width="2.6"/>
<line x1="162.90" y1="756.30" x2="304.70" y2="756.30" stroke="#000" stroke-width="3.2" stroke-linecap="butt"/>
<path d="M230.10 747.30L230.10 743.83M230.10 747.30L233.36 746.11M230.10 747.30L226.84 746.11M230.10 747.30L232.09 750.14M230.10 747.30L228.11 750.14" stroke="#000" stroke-width="2.00" stroke-linecap="round" fill="none"/>
<path d="M240.50 747.30L240.50 743.83M240.50 747.30L243.76 746.11M240.50 747.30L237.24 746.11M240.50 747.30L242.49 750.14M240.50 747.30L238.51 750.14" stroke="#000" stroke-width="2.00" stroke-linecap="round" fill="none"/>
<line x1="162.90" y1="782.30" x2="234.60" y2="782.30" stroke="#000" stroke-width="3.2" stroke-linecap="butt"/>
<path d="M188.10 773.30L188.10 769.83M188.10 773.30L191.36 772.11M188.10 773.30L184.84 772.11M188.10 773.30L190.09 776.14M188.10 773.30L186.11 776.14" stroke="#000" stroke-width="2.00" stroke-linecap="round" fill="none"/>
<path d="M198.50 773.30L198.50 769.83M198.50 773.30L201.76 772.11M198.50 773.30L195.24 772.11M198.50 773.30L200.49 776.14M198.50 773.30L196.51 776.14" stroke="#000" stroke-width="2.00" stroke-linecap="round" fill="none"/>
<path d="M208.90 773.30L208.90 769.83M208.90 773.30L212.16 772.11M208.90 773.30L205.64 772.11M208.90 773.30L210.89 776.14M208.90 773.30L206.91 776.14" stroke="#000" stroke-width="2.00" stroke-linecap="round" fill="none"/>
<line x1="298.20" y1="898.10" x2="370.30" y2="898.10" stroke="#000" stroke-width="3.2" stroke-linecap="butt"/>
<path d="M328.70 889.10L328.70 885.63M328.70 889.10L331.96 887.91M328.70 889.10L325.44 887.91M328.70 889.10L330.69 891.94M328.70 889.10L326.71 891.94" stroke="#000" stroke-width="2.00" stroke-linecap="round" fill="none"/>
<path d="M339.10 889.10L339.10 885.63M339.10 889.10L342.36 887.91M339.10 889.10L335.84 887.91M339.10 889.10L341.09 891.94M339.10 889.10L337.11 891.94" stroke="#000" stroke-width="2.00" stroke-linecap="round" fill="none"/>
<text x="174.80" y="978.60" font-size="13" fill="#000" font-weight="bold" text-anchor="end" transform="rotate(-45 174.80 978.60)">control</text>
<text x="241.10" y="978.60" font-size="13" fill="#000" font-weight="bold" text-anchor="end" transform="rotate(-45 241.10 978.60)">sKL</text>
<text x="307.80" y="978.60" font-size="13" fill="#000" font-weight="bold" text-anchor="end" transform="rotate(-45 307.80 978.60)">Pi</text>
<text x="373.90" y="978.60" font-size="13" fill="#000" font-weight="bold" text-anchor="end" transform="rotate(-45 373.90 978.60)">Pi+sKL</text>
<text x="208.81" y="721.05" font-size="18.42" fill="#000" font-weight="bold" textLength="109.40" lengthAdjust="spacingAndGlyphs">vHMCs CCK8</text>
<text x="115.40" y="901.38" font-size="15.59" fill="#000" font-weight="bold" textLength="62.69" lengthAdjust="spacingAndGlyphs" transform="rotate(-90 115.40 901.38)">RRod450</text>
<line x1="477.80" y1="792.00" x2="477.80" y2="959.70" stroke="#000" stroke-width="2" stroke-linecap="butt"/>
<line x1="473.40" y1="958.70" x2="728.60" y2="958.70" stroke="#000" stroke-width="2" stroke-linecap="butt"/>
<line x1="472.80" y1="958.70" x2="477.80" y2="958.70" stroke="#000" stroke-width="2" stroke-linecap="butt"/>
<text x="464.98" y="963.45" font-size="13.82" fill="#000" font-weight="bold" textLength="7.04" lengthAdjust="spacingAndGlyphs">0</text>
<line x1="472.80" y1="925.80" x2="477.80" y2="925.80" stroke="#000" stroke-width="2" stroke-linecap="butt"/>
<text x="464.82" y="930.55" font-size="13.82" fill="#000" font-weight="bold" textLength="7.04" lengthAdjust="spacingAndGlyphs">1</text>
<line x1="472.80" y1="892.50" x2="477.80" y2="892.50" stroke="#000" stroke-width="2" stroke-linecap="butt"/>
<text x="464.95" y="897.25" font-size="13.82" fill="#000" font-weight="bold" textLength="7.04" lengthAdjust="spacingAndGlyphs">2</text>
<line x1="472.80" y1="859.40" x2="477.80" y2="859.40" stroke="#000" stroke-width="2" stroke-linecap="butt"/>
<text x="464.92" y="864.15" font-size="13.82" fill="#000" font-weight="bold" textLength="7.04" lengthAdjust="spacingAndGlyphs">3</text>
<line x1="472.80" y1="826.10" x2="477.80" y2="826.10" stroke="#000" stroke-width="2" stroke-linecap="butt"/>
<text x="464.54" y="830.85" font-size="13.82" fill="#000" font-weight="bold" textLength="7.04" lengthAdjust="spacingAndGlyphs">4</text>
<line x1="472.80" y1="792.50" x2="477.80" y2="792.50" stroke="#000" stroke-width="2" stroke-linecap="butt"/>
<text x="464.82" y="797.25" font-size="13.82" fill="#000" font-weight="bold" textLength="7.04" lengthAdjust="spacingAndGlyphs">5</text>
<line x1="509.40" y1="958.70" x2="509.40" y2="964.70" stroke="#000" stroke-width="2" stroke-linecap="butt"/>
<line x1="571.40" y1="958.70" x2="571.40" y2="964.70" stroke="#000" stroke-width="2" stroke-linecap="butt"/>
<line x1="633.90" y1="958.70" x2="633.90" y2="964.70" stroke="#000" stroke-width="2" stroke-linecap="butt"/>
<line x1="696.40" y1="958.70" x2="696.40" y2="964.70" stroke="#000" stroke-width="2" stroke-linecap="butt"/>
<line x1="498.10" y1="926.50" x2="498.10" y2="924.10" stroke="#000" stroke-width="2" stroke-linecap="butt"/>
<line x1="494.60" y1="924.40" x2="501.60" y2="924.40" stroke="#000" stroke-width="1.8" stroke-linecap="round"/>
<rect x="492.40" y="927.90" width="11.40" height="30.80" fill="#808080" stroke="#000" stroke-width="2.8"/>
<line x1="521.55" y1="895.10" x2="521.55" y2="891.20" stroke="#000" stroke-width="2" stroke-linecap="butt"/>
<line x1="518.05" y1="891.50" x2="525.05" y2="891.50" stroke="#000" stroke-width="1.8" stroke-linecap="round"/>
<rect x="515.80" y="896.50" width="11.50" height="62.20" fill="#ff0000" stroke="#000" stroke-width="2.8"/>
<line x1="560.25" y1="936.10" x2="560.25" y2="934.70" stroke="#000" stroke-width="2" stroke-linecap="butt"/>
<line x1="556.75" y1="935.00" x2="563.75" y2="935.00" stroke="#000" stroke-width="1.8" stroke-linecap="round"/>
<rect x="554.20" y="937.50" width="12.10" height="21.20" fill="#808080" stroke="#000" stroke-width="2.8"/>
<line x1="583.85" y1="914.90" x2="583.85" y2="911.40" stroke="#000" stroke-width="2" stroke-linecap="butt"/>
<line x1="580.35" y1="911.70" x2="587.35" y2="911.70" stroke="#000" stroke-width="1.8" stroke-linecap="round"/>
<rect x="577.90" y="916.30" width="11.90" height="42.40" fill="#ff0000" stroke="#000" stroke-width="2.8"/>
<line x1="622.40" y1="843.60" x2="622.40" y2="840.40" stroke="#000" stroke-width="2" stroke-linecap="butt"/>
<line x1="618.90" y1="840.70" x2="625.90" y2="840.70" stroke="#000" stroke-width="1.8" stroke-linecap="round"/>
<rect x="616.70" y="845.00" width="11.40" height="113.70" fill="#808080" stroke="#000" stroke-width="2.8"/>
<line x1="646.30" y1="815.50" x2="646.30" y2="806.80" stroke="#000" stroke-width="2" stroke-linecap="butt"/>
<line x1="642.80" y1="807.10" x2="649.80" y2="807.10" stroke="#000" stroke-width="1.8" stroke-linecap="round"/>
<rect x="640.40" y="816.90" width="11.80" height="141.80" fill="#ff0000" stroke="#000" stroke-width="2.8"/>
<line x1="684.65" y1="919.70" x2="684.65" y2="916.90" stroke="#000" stroke-width="2" stroke-linecap="butt"/>
<line x1="681.15" y1="917.20" x2="688.15" y2="917.20" stroke="#000" stroke-width="1.8" stroke-linecap="round"/>
<rect x="678.70" y="921.10" width="11.90" height="37.60" fill="#808080" stroke="#000" stroke-width="2.8"/>
<line x1="708.15" y1="889.20" x2="708.15" y2="886.40" stroke="#000" stroke-width="2" stroke-linecap="butt"/>
<line x1="704.65" y1="886.70" x2="711.65" y2="886.70" stroke="#000" stroke-width="1.8" stroke-linecap="round"/>
<rect x="702.20" y="890.60" width="11.90" height="68.10" fill="#ff0000" stroke="#000" stroke-width="2.8"/>
<line x1="495.30" y1="879.80" x2="521.00" y2="879.80" stroke="#000" stroke-width="1.8" stroke-linecap="butt"/>
<path d="M508.50 868.40L508.50 865.48M508.50 868.40L508.50 871.32M508.50 868.40L511.03 866.94M508.50 868.40L511.03 869.86M508.50 868.40L505.97 869.86M508.50 868.40L505.97 866.94" stroke="#000" stroke-width="1.75" stroke-linecap="round" fill="none"/>
<line x1="495.30" y1="860.70" x2="557.60" y2="860.70" stroke="#000" stroke-width="2" stroke-linecap="butt"/>
<path d="M526.50 849.30L526.50 846.38M526.50 849.30L526.50 852.23M526.50 849.30L529.03 847.84M526.50 849.30L529.03 850.76M526.50 849.30L523.97 850.76M526.50 849.30L523.97 847.84" stroke="#000" stroke-width="1.75" stroke-linecap="round" fill="none"/>
<line x1="517.00" y1="838.60" x2="581.30" y2="838.60" stroke="#000" stroke-width="2" stroke-linecap="butt"/>
<path d="M549.00 827.20L549.00 824.28M549.00 827.20L549.00 830.12M549.00 827.20L551.53 825.74M549.00 827.20L551.53 828.66M549.00 827.20L546.47 828.66M549.00 827.20L546.47 825.74" stroke="#000" stroke-width="1.75" stroke-linecap="round" fill="none"/>
<line x1="494.70" y1="818.60" x2="621.20" y2="818.60" stroke="#000" stroke-width="2" stroke-linecap="butt"/>
<path d="M553.85 807.20L553.85 804.28M553.85 807.20L553.85 810.12M553.85 807.20L556.38 805.74M553.85 807.20L556.38 808.66M553.85 807.20L551.32 808.66M553.85 807.20L551.32 805.74" stroke="#000" stroke-width="1.75" stroke-linecap="round" fill="none"/>
<path d="M563.15 807.20L563.15 804.28M563.15 807.20L563.15 810.12M563.15 807.20L565.68 805.74M563.15 807.20L565.68 808.66M563.15 807.20L560.62 808.66M563.15 807.20L560.62 805.74" stroke="#000" stroke-width="1.75" stroke-linecap="round" fill="none"/>
<line x1="520.30" y1="795.40" x2="646.00" y2="795.40" stroke="#000" stroke-width="2.2" stroke-linecap="butt"/>
<path d="M583.20 784.00L583.20 781.08M583.20 784.00L583.20 786.92M583.20 784.00L585.73 782.54M583.20 784.00L585.73 785.46M583.20 784.00L580.67 785.46M583.20 784.00L580.67 782.54" stroke="#000" stroke-width="1.75" stroke-linecap="round" fill="none"/>
<line x1="649.70" y1="795.40" x2="706.70" y2="795.40" stroke="#000" stroke-width="2.2" stroke-linecap="butt"/>
<path d="M678.20 784.00L678.20 781.08M678.20 784.00L678.20 786.92M678.20 784.00L680.73 782.54M678.20 784.00L680.73 785.46M678.20 784.00L675.67 785.46M678.20 784.00L675.67 782.54" stroke="#000" stroke-width="1.75" stroke-linecap="round" fill="none"/>
<line x1="618.60" y1="776.30" x2="680.00" y2="776.30" stroke="#000" stroke-width="2.2" stroke-linecap="butt"/>
<path d="M644.75 764.90L644.75 761.98M644.75 764.90L644.75 767.82M644.75 764.90L647.28 763.44M644.75 764.90L647.28 766.36M644.75 764.90L642.22 766.36M644.75 764.90L642.22 763.44" stroke="#000" stroke-width="1.75" stroke-linecap="round" fill="none"/>
<path d="M654.05 764.90L654.05 761.98M654.05 764.90L654.05 767.82M654.05 764.90L656.58 763.44M654.05 764.90L656.58 766.36M654.05 764.90L651.52 766.36M654.05 764.90L651.52 763.44" stroke="#000" stroke-width="1.75" stroke-linecap="round" fill="none"/>
<text x="514.40" y="975.20" font-size="13" fill="#000" font-weight="bold" text-anchor="end" transform="rotate(-45 514.40 975.20)">control</text>
<text x="576.40" y="975.20" font-size="13" fill="#000" font-weight="bold" text-anchor="end" transform="rotate(-45 576.40 975.20)">sKL</text>
<text x="638.90" y="975.20" font-size="13" fill="#000" font-weight="bold" text-anchor="end" transform="rotate(-45 638.90 975.20)">Pi</text>
<text x="701.40" y="975.20" font-size="13" fill="#000" font-weight="bold" text-anchor="end" transform="rotate(-45 701.40 975.20)">Pi+SKL</text>
<text x="595.04" y="739.10" font-size="16.48" fill="#000" font-weight="bold" textLength="43.40" lengthAdjust="spacingAndGlyphs">ptgs2</text>
<text x="456.03" y="959.52" font-size="11.90" fill="#000" font-weight="bold" textLength="166.72" lengthAdjust="spacingAndGlyphs" transform="rotate(-90 456.03 959.52)">Relative Quantity£¨dRn£©</text>
<line x1="859.20" y1="782.80" x2="859.20" y2="957.40" stroke="#000" stroke-width="2" stroke-linecap="butt"/>
<line x1="853.00" y1="956.40" x2="1118.40" y2="956.40" stroke="#000" stroke-width="2" stroke-linecap="butt"/>
<line x1="854.20" y1="956.40" x2="859.20" y2="956.40" stroke="#000" stroke-width="2" stroke-linecap="butt"/>
<text x="833.83" y="961.20" font-size="13.96" fill="#000" font-weight="bold" textLength="18.61" lengthAdjust="spacingAndGlyphs">0.0</text>
<line x1="854.20" y1="902.10" x2="859.20" y2="902.10" stroke="#000" stroke-width="2" stroke-linecap="butt"/>
<text x="833.66" y="906.90" font-size="13.96" fill="#000" font-weight="bold" textLength="18.61" lengthAdjust="spacingAndGlyphs">0.5</text>
<line x1="854.20" y1="848.60" x2="859.20" y2="848.60" stroke="#000" stroke-width="2" stroke-linecap="butt"/>
<text x="833.83" y="853.40" font-size="13.96" fill="#000" font-weight="bold" textLength="18.61" lengthAdjust="spacingAndGlyphs">1.0</text>
<line x1="854.20" y1="794.30" x2="859.20" y2="794.30" stroke="#000" stroke-width="2" stroke-linecap="butt"/>
<text x="833.66" y="799.10" font-size="13.96" fill="#000" font-weight="bold" textLength="18.61" lengthAdjust="spacingAndGlyphs">1.5</text>
<line x1="890.80" y1="956.40" x2="890.80" y2="962.40" stroke="#000" stroke-width="2" stroke-linecap="butt"/>
<line x1="955.50" y1="956.40" x2="955.50" y2="962.40" stroke="#000" stroke-width="2" stroke-linecap="butt"/>
<line x1="1019.60" y1="956.40" x2="1019.60" y2="962.40" stroke="#000" stroke-width="2" stroke-linecap="butt"/>
<line x1="1084.50" y1="956.40" x2="1084.50" y2="962.40" stroke="#000" stroke-width="2" stroke-linecap="butt"/>
<line x1="879.00" y1="849.30" x2="879.00" y2="845.10" stroke="#000" stroke-width="2" stroke-linecap="butt"/>
<line x1="875.50" y1="845.40" x2="882.50" y2="845.40" stroke="#000" stroke-width="1.8" stroke-linecap="round"/>
<rect x="873.05" y="850.75" width="11.90" height="105.65" fill="#808080" stroke="#000" stroke-width="2.9"/>
<line x1="903.20" y1="905.30" x2="903.20" y2="904.10" stroke="#000" stroke-width="2" stroke-linecap="butt"/>
<line x1="899.70" y1="904.40" x2="906.70" y2="904.40" stroke="#000" stroke-width="1.8" stroke-linecap="round"/>
<rect x="897.25" y="906.75" width="11.90" height="49.65" fill="#ff0000" stroke="#000" stroke-width="2.9"/>
<line x1="943.35" y1="798.00" x2="943.35" y2="795.30" stroke="#000" stroke-width="2" stroke-linecap="butt"/>
<line x1="939.85" y1="795.60" x2="946.85" y2="795.60" stroke="#000" stroke-width="1.8" stroke-linecap="round"/>
<rect x="937.15" y="799.45" width="12.40" height="156.95" fill="#808080" stroke="#000" stroke-width="2.9"/>
<line x1="968.05" y1="889.30" x2="968.05" y2="888.50" stroke="#000" stroke-width="2" stroke-linecap="butt"/>
<line x1="964.55" y1="888.80" x2="971.55" y2="888.80" stroke="#000" stroke-width="1.8" stroke-linecap="round"/>
<rect x="961.85" y="890.75" width="12.40" height="65.65" fill="#ff0000" stroke="#000" stroke-width="2.9"/>
<line x1="1008.00" y1="899.60" x2="1008.00" y2="896.50" stroke="#000" stroke-width="2" stroke-linecap="butt"/>
<line x1="1004.50" y1="896.80" x2="1011.50" y2="896.80" stroke="#000" stroke-width="1.8" stroke-linecap="round"/>
<rect x="1002.05" y="901.05" width="11.90" height="55.35" fill="#808080" stroke="#000" stroke-width="2.9"/>
<line x1="1032.00" y1="923.80" x2="1032.00" y2="923.10" stroke="#000" stroke-width="2" stroke-linecap="butt"/>
<line x1="1028.50" y1="923.40" x2="1035.50" y2="923.40" stroke="#000" stroke-width="1.8" stroke-linecap="round"/>
<rect x="1026.05" y="925.25" width="11.90" height="31.15" fill="#ff0000" stroke="#000" stroke-width="2.9"/>
<line x1="1072.70" y1="856.50" x2="1072.70" y2="845.90" stroke="#000" stroke-width="2" stroke-linecap="butt"/>
<line x1="1069.20" y1="846.20" x2="1076.20" y2="846.20" stroke="#000" stroke-width="1.8" stroke-linecap="round"/>
<rect x="1066.75" y="857.95" width="11.90" height="98.45" fill="#808080" stroke="#000" stroke-width="2.9"/>
<line x1="1096.90" y1="916.90" x2="1096.90" y2="916.20" stroke="#000" stroke-width="2" stroke-linecap="butt"/>
<line x1="1093.40" y1="916.50" x2="1100.40" y2="916.50" stroke="#000" stroke-width="1.8" stroke-linecap="round"/>
<rect x="1090.95" y="918.35" width="11.90" height="38.05" fill="#ff0000" stroke="#000" stroke-width="2.9"/>
<line x1="902.40" y1="725.90" x2="1024.60" y2="725.90" stroke="#000" stroke-width="2.2" stroke-linecap="butt"/>
<path d="M959.20 714.70L959.20 711.57M959.20 714.70L959.20 717.82M959.20 714.70L961.91 713.14M959.20 714.70L961.91 716.26M959.20 714.70L956.49 716.26M959.20 714.70L956.49 713.14" stroke="#000" stroke-width="1.75" stroke-linecap="round" fill="none"/>
<path d="M968.60 714.70L968.60 711.57M968.60 714.70L968.60 717.82M968.60 714.70L971.31 713.14M968.60 714.70L971.31 716.26M968.60 714.70L965.89 716.26M968.60 714.70L965.89 713.14" stroke="#000" stroke-width="1.75" stroke-linecap="round" fill="none"/>
<line x1="878.50" y1="750.80" x2="1000.40" y2="750.80" stroke="#000" stroke-width="2.6" stroke-linecap="butt"/>
<path d="M939.40 739.60L939.40 736.47M939.40 739.60L939.40 742.72M939.40 739.60L942.11 738.04M939.40 739.60L942.11 741.16M939.40 739.60L936.69 741.16M939.40 739.60L936.69 738.04" stroke="#000" stroke-width="1.75" stroke-linecap="round" fill="none"/>
<line x1="901.20" y1="770.10" x2="958.00" y2="770.10" stroke="#000" stroke-width="2.6" stroke-linecap="butt"/>
<path d="M925.10 758.90L925.10 755.77M925.10 758.90L925.10 762.02M925.10 758.90L927.81 757.34M925.10 758.90L927.81 760.46M925.10 758.90L922.39 760.46M925.10 758.90L922.39 757.34" stroke="#000" stroke-width="1.75" stroke-linecap="round" fill="none"/>
<path d="M934.50 758.90L934.50 755.77M934.50 758.90L934.50 762.02M934.50 758.90L937.21 757.34M934.50 758.90L937.21 760.46M934.50 758.90L931.79 760.46M934.50 758.90L931.79 757.34" stroke="#000" stroke-width="1.75" stroke-linecap="round" fill="none"/>
<line x1="877.70" y1="789.30" x2="942.60" y2="789.30" stroke="#000" stroke-width="2.6" stroke-linecap="butt"/>
<path d="M910.30 778.10L910.30 774.97M910.30 778.10L910.30 781.22M910.30 778.10L913.01 776.54M910.30 778.10L913.01 779.66M910.30 778.10L907.59 779.66M910.30 778.10L907.59 776.54" stroke="#000" stroke-width="1.75" stroke-linecap="round" fill="none"/>
<line x1="878.50" y1="836.00" x2="902.40" y2="836.00" stroke="#000" stroke-width="2.8" stroke-linecap="butt"/>
<path d="M885.80 824.80L885.80 821.67M885.80 824.80L885.80 827.92M885.80 824.80L888.51 823.24M885.80 824.80L888.51 826.36M885.80 824.80L883.09 826.36M885.80 824.80L883.09 823.24" stroke="#000" stroke-width="1.75" stroke-linecap="round" fill="none"/>
<path d="M895.20 824.80L895.20 821.67M895.20 824.80L895.20 827.92M895.20 824.80L897.91 823.24M895.20 824.80L897.91 826.36M895.20 824.80L892.49 826.36M895.20 824.80L892.49 823.24" stroke="#000" stroke-width="1.75" stroke-linecap="round" fill="none"/>
<line x1="1030.70" y1="803.90" x2="1093.20" y2="803.90" stroke="#000" stroke-width="2.2" stroke-linecap="butt"/>
<path d="M1057.30 792.70L1057.30 789.57M1057.30 792.70L1057.30 795.82M1057.30 792.70L1060.01 791.14M1057.30 792.70L1060.01 794.26M1057.30 792.70L1054.59 794.26M1057.30 792.70L1054.59 791.14" stroke="#000" stroke-width="1.75" stroke-linecap="round" fill="none"/>
<path d="M1066.70 792.70L1066.70 789.57M1066.70 792.70L1066.70 795.82M1066.70 792.70L1069.41 791.14M1066.70 792.70L1069.41 794.26M1066.70 792.70L1063.99 794.26M1066.70 792.70L1063.99 791.14" stroke="#000" stroke-width="1.75" stroke-linecap="round" fill="none"/>
<line x1="1003.60" y1="833.80" x2="1072.00" y2="833.80" stroke="#000" stroke-width="2.2" stroke-linecap="butt"/>
<path d="M1037.40 822.60L1037.40 819.47M1037.40 822.60L1037.40 825.72M1037.40 822.60L1040.11 821.04M1037.40 822.60L1040.11 824.16M1037.40 822.60L1034.69 824.16M1037.40 822.60L1034.69 821.04" stroke="#000" stroke-width="1.75" stroke-linecap="round" fill="none"/>
<text x="895.10" y="973.20" font-size="13" fill="#000" font-weight="bold" text-anchor="end" transform="rotate(-45 895.10 973.20)">control</text>
<text x="959.80" y="973.20" font-size="13" fill="#000" font-weight="bold" text-anchor="end" transform="rotate(-45 959.80 973.20)">sKL</text>
<text x="1023.90" y="973.20" font-size="13" fill="#000" font-weight="bold" text-anchor="end" transform="rotate(-45 1023.90 973.20)">Pi</text>
<text x="1088.80" y="973.20" font-size="13" fill="#000" font-weight="bold" text-anchor="end" transform="rotate(-45 1088.80 973.20)">Pi+SKL</text>
<text x="930.22" y="707.00" font-size="18.35" fill="#000" font-weight="bold" textLength="106.19" lengthAdjust="spacingAndGlyphs">vHMCs CCK8</text>
<text x="825.90" y="900.55" font-size="15.31" fill="#000" font-weight="bold" textLength="60.74" lengthAdjust="spacingAndGlyphs" transform="rotate(-90 825.90 900.55)">RRod450</text>
<line x1="737.20" y1="1076.00" x2="737.20" y2="1260.50" stroke="#000" stroke-width="2" stroke-linecap="butt"/>
<line x1="732.50" y1="1259.50" x2="1009.80" y2="1259.50" stroke="#000" stroke-width="2" stroke-linecap="butt"/>
<line x1="732.20" y1="1259.50" x2="737.20" y2="1259.50" stroke="#000" stroke-width="2" stroke-linecap="butt"/>
<text x="722.96" y="1264.65" font-size="14.98" fill="#000" font-weight="bold" textLength="7.49" lengthAdjust="spacingAndGlyphs">0</text>
<line x1="732.20" y1="1223.20" x2="737.20" y2="1223.20" stroke="#000" stroke-width="2" stroke-linecap="butt"/>
<text x="722.80" y="1228.35" font-size="14.98" fill="#000" font-weight="bold" textLength="7.49" lengthAdjust="spacingAndGlyphs">1</text>
<line x1="732.20" y1="1187.00" x2="737.20" y2="1187.00" stroke="#000" stroke-width="2" stroke-linecap="butt"/>
<text x="722.93" y="1192.15" font-size="14.98" fill="#000" font-weight="bold" textLength="7.49" lengthAdjust="spacingAndGlyphs">2</text>
<line x1="732.20" y1="1150.50" x2="737.20" y2="1150.50" stroke="#000" stroke-width="2" stroke-linecap="butt"/>
<text x="722.90" y="1155.65" font-size="14.98" fill="#000" font-weight="bold" textLength="7.49" lengthAdjust="spacingAndGlyphs">3</text>
<line x1="732.20" y1="1114.00" x2="737.20" y2="1114.00" stroke="#000" stroke-width="2" stroke-linecap="butt"/>
<text x="722.49" y="1119.15" font-size="14.98" fill="#000" font-weight="bold" textLength="7.49" lengthAdjust="spacingAndGlyphs">4</text>
<line x1="732.20" y1="1076.50" x2="737.20" y2="1076.50" stroke="#000" stroke-width="2" stroke-linecap="butt"/>
<text x="722.80" y="1081.65" font-size="14.98" fill="#000" font-weight="bold" textLength="7.49" lengthAdjust="spacingAndGlyphs">5</text>
<line x1="771.40" y1="1259.50" x2="771.40" y2="1265.50" stroke="#000" stroke-width="2" stroke-linecap="butt"/>
<line x1="839.80" y1="1259.50" x2="839.80" y2="1265.50" stroke="#000" stroke-width="2" stroke-linecap="butt"/>
<line x1="907.80" y1="1259.50" x2="907.80" y2="1265.50" stroke="#000" stroke-width="2" stroke-linecap="butt"/>
<line x1="975.80" y1="1259.50" x2="975.80" y2="1265.50" stroke="#000" stroke-width="2" stroke-linecap="butt"/>
<line x1="758.75" y1="1223.80" x2="758.75" y2="1222.60" stroke="#000" stroke-width="2" stroke-linecap="butt"/>
<line x1="755.25" y1="1222.90" x2="762.25" y2="1222.90" stroke="#000" stroke-width="1.8" stroke-linecap="round"/>
<rect x="752.50" y="1225.30" width="12.50" height="34.20" fill="#808080" stroke="#000" stroke-width="3.0"/>
<line x1="784.55" y1="1183.40" x2="784.55" y2="1178.60" stroke="#000" stroke-width="2" stroke-linecap="butt"/>
<line x1="781.05" y1="1178.90" x2="788.05" y2="1178.90" stroke="#000" stroke-width="1.8" stroke-linecap="round"/>
<rect x="778.60" y="1184.90" width="11.90" height="74.60" fill="#ff0000" stroke="#000" stroke-width="3.0"/>
<line x1="827.15" y1="1245.10" x2="827.15" y2="1240.70" stroke="#000" stroke-width="2" stroke-linecap="butt"/>
<line x1="823.65" y1="1241.00" x2="830.65" y2="1241.00" stroke="#000" stroke-width="1.8" stroke-linecap="round"/>
<rect x="820.70" y="1246.60" width="12.90" height="12.90" fill="#808080" stroke="#000" stroke-width="3.0"/>
<line x1="852.35" y1="1224.90" x2="852.35" y2="1221.10" stroke="#000" stroke-width="2" stroke-linecap="butt"/>
<line x1="848.85" y1="1221.40" x2="855.85" y2="1221.40" stroke="#000" stroke-width="1.8" stroke-linecap="round"/>
<rect x="846.20" y="1226.40" width="12.30" height="33.10" fill="#ff0000" stroke="#000" stroke-width="3.0"/>
<line x1="895.05" y1="1161.80" x2="895.05" y2="1157.40" stroke="#000" stroke-width="2" stroke-linecap="butt"/>
<line x1="891.55" y1="1157.70" x2="898.55" y2="1157.70" stroke="#000" stroke-width="1.8" stroke-linecap="round"/>
<rect x="889.10" y="1163.30" width="11.90" height="96.20" fill="#808080" stroke="#000" stroke-width="3.0"/>
<line x1="920.55" y1="1108.40" x2="920.55" y2="1104.20" stroke="#000" stroke-width="2" stroke-linecap="butt"/>
<line x1="917.05" y1="1104.50" x2="924.05" y2="1104.50" stroke="#000" stroke-width="1.8" stroke-linecap="round"/>
<rect x="914.60" y="1109.90" width="11.90" height="149.60" fill="#ff0000" stroke="#000" stroke-width="3.0"/>
<line x1="963.25" y1="1194.50" x2="963.25" y2="1189.90" stroke="#000" stroke-width="2" stroke-linecap="butt"/>
<line x1="959.75" y1="1190.20" x2="966.75" y2="1190.20" stroke="#000" stroke-width="1.8" stroke-linecap="round"/>
<rect x="957.10" y="1196.00" width="12.30" height="63.50" fill="#808080" stroke="#000" stroke-width="3.0"/>
<line x1="989.05" y1="1135.60" x2="989.05" y2="1127.60" stroke="#000" stroke-width="2" stroke-linecap="butt"/>
<line x1="985.55" y1="1127.90" x2="992.55" y2="1127.90" stroke="#000" stroke-width="1.8" stroke-linecap="round"/>
<rect x="983.00" y="1137.10" width="12.10" height="122.40" fill="#ff0000" stroke="#000" stroke-width="3.0"/>
<line x1="753.70" y1="1167.50" x2="781.80" y2="1167.50" stroke="#000" stroke-width="3" stroke-linecap="butt"/>
<path d="M762.95 1155.50L762.95 1151.95M762.95 1155.50L762.95 1159.05M762.95 1155.50L766.02 1153.72M762.95 1155.50L766.02 1157.28M762.95 1155.50L759.88 1157.28M762.95 1155.50L759.88 1153.72" stroke="#000" stroke-width="1.90" stroke-linecap="round" fill="none"/>
<path d="M773.65 1155.50L773.65 1151.95M773.65 1155.50L773.65 1159.05M773.65 1155.50L776.72 1153.72M773.65 1155.50L776.72 1157.28M773.65 1155.50L770.58 1157.28M773.65 1155.50L770.58 1153.72" stroke="#000" stroke-width="1.90" stroke-linecap="round" fill="none"/>
<line x1="752.70" y1="1147.30" x2="823.90" y2="1147.30" stroke="#000" stroke-width="3" stroke-linecap="butt"/>
<path d="M783.45 1135.30L783.45 1131.75M783.45 1135.30L783.45 1138.85M783.45 1135.30L786.52 1133.52M783.45 1135.30L786.52 1137.08M783.45 1135.30L780.38 1137.08M783.45 1135.30L780.38 1133.52" stroke="#000" stroke-width="1.90" stroke-linecap="round" fill="none"/>
<path d="M794.15 1135.30L794.15 1131.75M794.15 1135.30L794.15 1138.85M794.15 1135.30L797.22 1133.52M794.15 1135.30L797.22 1137.08M794.15 1135.30L791.08 1137.08M794.15 1135.30L791.08 1133.52" stroke="#000" stroke-width="1.90" stroke-linecap="round" fill="none"/>
<line x1="782.00" y1="1122.20" x2="846.20" y2="1122.20" stroke="#000" stroke-width="2.2" stroke-linecap="butt"/>
<path d="M809.45 1110.20L809.45 1106.65M809.45 1110.20L809.45 1113.75M809.45 1110.20L812.52 1108.42M809.45 1110.20L812.52 1111.98M809.45 1110.20L806.38 1111.98M809.45 1110.20L806.38 1108.42" stroke="#000" stroke-width="1.90" stroke-linecap="round" fill="none"/>
<path d="M820.15 1110.20L820.15 1106.65M820.15 1110.20L820.15 1113.75M820.15 1110.20L823.22 1108.42M820.15 1110.20L823.22 1111.98M820.15 1110.20L817.08 1111.98M820.15 1110.20L817.08 1108.42" stroke="#000" stroke-width="1.90" stroke-linecap="round" fill="none"/>
<line x1="755.40" y1="1095.20" x2="889.30" y2="1095.20" stroke="#000" stroke-width="2.2" stroke-linecap="butt"/>
<path d="M817.85 1083.20L817.85 1079.65M817.85 1083.20L817.85 1086.75M817.85 1083.20L820.92 1081.42M817.85 1083.20L820.92 1084.98M817.85 1083.20L814.78 1084.98M817.85 1083.20L814.78 1081.42" stroke="#000" stroke-width="1.90" stroke-linecap="round" fill="none"/>
<path d="M828.55 1083.20L828.55 1079.65M828.55 1083.20L828.55 1086.75M828.55 1083.20L831.62 1081.42M828.55 1083.20L831.62 1084.98M828.55 1083.20L825.48 1084.98M828.55 1083.20L825.48 1081.42" stroke="#000" stroke-width="1.90" stroke-linecap="round" fill="none"/>
<line x1="778.80" y1="1072.90" x2="918.40" y2="1072.90" stroke="#000" stroke-width="3" stroke-linecap="butt"/>
<path d="M843.65 1060.90L843.65 1057.35M843.65 1060.90L843.65 1064.45M843.65 1060.90L846.72 1059.12M843.65 1060.90L846.72 1062.68M843.65 1060.90L840.58 1062.68M843.65 1060.90L840.58 1059.12" stroke="#000" stroke-width="1.90" stroke-linecap="round" fill="none"/>
<path d="M854.35 1060.90L854.35 1057.35M854.35 1060.90L854.35 1064.45M854.35 1060.90L857.42 1059.12M854.35 1060.90L857.42 1062.68M854.35 1060.90L851.28 1062.68M854.35 1060.90L851.28 1059.12" stroke="#000" stroke-width="1.90" stroke-linecap="round" fill="none"/>
<line x1="887.60" y1="1064.40" x2="957.30" y2="1064.40" stroke="#000" stroke-width="2.2" stroke-linecap="butt"/>
<path d="M917.35 1052.40L917.35 1048.85M917.35 1052.40L917.35 1055.95M917.35 1052.40L920.42 1050.62M917.35 1052.40L920.42 1054.18M917.35 1052.40L914.28 1054.18M917.35 1052.40L914.28 1050.62" stroke="#000" stroke-width="1.90" stroke-linecap="round" fill="none"/>
<path d="M928.05 1052.40L928.05 1048.85M928.05 1052.40L928.05 1055.95M928.05 1052.40L931.12 1050.62M928.05 1052.40L931.12 1054.18M928.05 1052.40L924.98 1054.18M928.05 1052.40L924.98 1050.62" stroke="#000" stroke-width="1.90" stroke-linecap="round" fill="none"/>
<line x1="918.40" y1="1091.00" x2="986.40" y2="1091.00" stroke="#000" stroke-width="2.2" stroke-linecap="butt"/>
<path d="M947.15 1079.00L947.15 1075.45M947.15 1079.00L947.15 1082.55M947.15 1079.00L950.22 1077.22M947.15 1079.00L950.22 1080.78M947.15 1079.00L944.08 1080.78M947.15 1079.00L944.08 1077.22" stroke="#000" stroke-width="1.90" stroke-linecap="round" fill="none"/>
<path d="M957.85 1079.00L957.85 1075.45M957.85 1079.00L957.85 1082.55M957.85 1079.00L960.92 1077.22M957.85 1079.00L960.92 1080.78M957.85 1079.00L954.78 1080.78M957.85 1079.00L954.78 1077.22" stroke="#000" stroke-width="1.90" stroke-linecap="round" fill="none"/>
<text x="776.70" y="1277.50" font-size="14" fill="#000" font-weight="bold" text-anchor="end" transform="rotate(-45 776.70 1277.50)">control</text>
<text x="845.10" y="1277.50" font-size="14" fill="#000" font-weight="bold" text-anchor="end" transform="rotate(-45 845.10 1277.50)">sKL</text>
<text x="913.10" y="1277.50" font-size="14" fill="#000" font-weight="bold" text-anchor="end" transform="rotate(-45 913.10 1277.50)">Pi</text>
<text x="981.10" y="1277.50" font-size="14" fill="#000" font-weight="bold" text-anchor="end" transform="rotate(-45 981.10 1277.50)">Pi+sKL</text>
<text x="854.10" y="1333.70" font-size="14.34" fill="#000" font-weight="bold" textLength="40.87" lengthAdjust="spacingAndGlyphs">COX2</text>
<text x="714.40" y="1217.39" font-size="16.14" fill="#000" font-weight="bold" textLength="97.69" lengthAdjust="spacingAndGlyphs" transform="rotate(-90 714.40 1217.39)">COX2/GAPDH</text>
<line x1="1060.40" y1="1076.30" x2="1060.40" y2="1260.60" stroke="#000" stroke-width="2" stroke-linecap="butt"/>
<line x1="1055.60" y1="1259.60" x2="1333.90" y2="1259.60" stroke="#000" stroke-width="2" stroke-linecap="butt"/>
<line x1="1055.40" y1="1259.60" x2="1060.40" y2="1259.60" stroke="#000" stroke-width="2" stroke-linecap="butt"/>
<text x="1047.26" y="1264.75" font-size="14.77" fill="#000" font-weight="bold" textLength="7.71" lengthAdjust="spacingAndGlyphs">0</text>
<line x1="1055.40" y1="1198.70" x2="1060.40" y2="1198.70" stroke="#000" stroke-width="2" stroke-linecap="butt"/>
<text x="1047.08" y="1203.85" font-size="14.77" fill="#000" font-weight="bold" textLength="7.71" lengthAdjust="spacingAndGlyphs">1</text>
<line x1="1055.40" y1="1138.00" x2="1060.40" y2="1138.00" stroke="#000" stroke-width="2" stroke-linecap="butt"/>
<text x="1047.22" y="1143.15" font-size="14.77" fill="#000" font-weight="bold" textLength="7.71" lengthAdjust="spacingAndGlyphs">2</text>
<line x1="1055.40" y1="1076.80" x2="1060.40" y2="1076.80" stroke="#000" stroke-width="2" stroke-linecap="butt"/>
<text x="1047.19" y="1081.95" font-size="14.77" fill="#000" font-weight="bold" textLength="7.71" lengthAdjust="spacingAndGlyphs">3</text>
<line x1="1094.70" y1="1259.60" x2="1094.70" y2="1265.60" stroke="#000" stroke-width="2" stroke-linecap="butt"/>
<line x1="1162.80" y1="1259.60" x2="1162.80" y2="1265.60" stroke="#000" stroke-width="2" stroke-linecap="butt"/>
<line x1="1230.70" y1="1259.60" x2="1230.70" y2="1265.60" stroke="#000" stroke-width="2" stroke-linecap="butt"/>
<line x1="1299.10" y1="1259.60" x2="1299.10" y2="1265.60" stroke="#000" stroke-width="2" stroke-linecap="butt"/>
<line x1="1082.35" y1="1199.90" x2="1082.35" y2="1191.20" stroke="#000" stroke-width="2" stroke-linecap="butt"/>
<line x1="1078.85" y1="1191.50" x2="1085.85" y2="1191.50" stroke="#000" stroke-width="1.8" stroke-linecap="round"/>
<rect x="1076.30" y="1201.40" width="12.10" height="58.20" fill="#808080" stroke="#000" stroke-width="3.0"/>
<line x1="1108.05" y1="1229.80" x2="1108.05" y2="1223.60" stroke="#000" stroke-width="2" stroke-linecap="butt"/>
<line x1="1104.55" y1="1223.90" x2="1111.55" y2="1223.90" stroke="#000" stroke-width="1.8" stroke-linecap="round"/>
<rect x="1102.00" y="1231.30" width="12.10" height="28.30" fill="#ff0000" stroke="#000" stroke-width="3.0"/>
<line x1="1150.20" y1="1124.00" x2="1150.20" y2="1110.40" stroke="#000" stroke-width="2" stroke-linecap="butt"/>
<line x1="1146.70" y1="1110.70" x2="1153.70" y2="1110.70" stroke="#000" stroke-width="1.8" stroke-linecap="round"/>
<rect x="1143.90" y="1125.50" width="12.60" height="134.10" fill="#808080" stroke="#000" stroke-width="3.0"/>
<line x1="1175.90" y1="1184.00" x2="1175.90" y2="1178.50" stroke="#000" stroke-width="2" stroke-linecap="butt"/>
<line x1="1172.40" y1="1178.80" x2="1179.40" y2="1178.80" stroke="#000" stroke-width="1.8" stroke-linecap="round"/>
<rect x="1169.80" y="1185.50" width="12.20" height="74.10" fill="#ff0000" stroke="#000" stroke-width="3.0"/>
<line x1="1218.35" y1="1232.00" x2="1218.35" y2="1224.30" stroke="#000" stroke-width="2" stroke-linecap="butt"/>
<line x1="1214.85" y1="1224.60" x2="1221.85" y2="1224.60" stroke="#000" stroke-width="1.8" stroke-linecap="round"/>
<rect x="1212.30" y="1233.50" width="12.10" height="26.10" fill="#808080" stroke="#000" stroke-width="3.0"/>
<line x1="1243.90" y1="1247.10" x2="1243.90" y2="1242.80" stroke="#000" stroke-width="2" stroke-linecap="butt"/>
<line x1="1240.40" y1="1243.10" x2="1247.40" y2="1243.10" stroke="#000" stroke-width="1.8" stroke-linecap="round"/>
<rect x="1237.70" y="1248.60" width="12.40" height="11.00" fill="#ff0000" stroke="#000" stroke-width="3.0"/>
<line x1="1286.50" y1="1157.10" x2="1286.50" y2="1139.20" stroke="#000" stroke-width="2" stroke-linecap="butt"/>
<line x1="1283.00" y1="1139.50" x2="1290.00" y2="1139.50" stroke="#000" stroke-width="1.8" stroke-linecap="round"/>
<rect x="1280.20" y="1158.60" width="12.60" height="101.00" fill="#808080" stroke="#000" stroke-width="3.0"/>
<line x1="1311.95" y1="1212.30" x2="1311.95" y2="1199.20" stroke="#000" stroke-width="2" stroke-linecap="butt"/>
<line x1="1308.45" y1="1199.50" x2="1315.45" y2="1199.50" stroke="#000" stroke-width="1.8" stroke-linecap="round"/>
<rect x="1305.90" y="1213.80" width="12.10" height="45.80" fill="#ff0000" stroke="#000" stroke-width="3.0"/>
<line x1="1106.00" y1="1032.40" x2="1239.80" y2="1032.40" stroke="#000" stroke-width="2.2" stroke-linecap="butt"/>
<path d="M1167.55 1020.40L1167.55 1016.85M1167.55 1020.40L1167.55 1023.95M1167.55 1020.40L1170.62 1018.63M1167.55 1020.40L1170.62 1022.18M1167.55 1020.40L1164.48 1022.18M1167.55 1020.40L1164.48 1018.63" stroke="#000" stroke-width="1.90" stroke-linecap="round" fill="none"/>
<path d="M1178.25 1020.40L1178.25 1016.85M1178.25 1020.40L1178.25 1023.95M1178.25 1020.40L1181.32 1018.63M1178.25 1020.40L1181.32 1022.18M1178.25 1020.40L1175.18 1022.18M1178.25 1020.40L1175.18 1018.63" stroke="#000" stroke-width="1.90" stroke-linecap="round" fill="none"/>
<line x1="1082.00" y1="1054.50" x2="1211.50" y2="1054.50" stroke="#000" stroke-width="3" stroke-linecap="butt"/>
<path d="M1136.50 1042.50L1136.50 1038.95M1136.50 1042.50L1136.50 1046.05M1136.50 1042.50L1139.57 1040.72M1136.50 1042.50L1139.57 1044.28M1136.50 1042.50L1133.43 1044.28M1136.50 1042.50L1133.43 1040.72" stroke="#000" stroke-width="1.90" stroke-linecap="round" fill="none"/>
<path d="M1147.20 1042.50L1147.20 1038.95M1147.20 1042.50L1147.20 1046.05M1147.20 1042.50L1150.27 1040.72M1147.20 1042.50L1150.27 1044.28M1147.20 1042.50L1144.13 1044.28M1147.20 1042.50L1144.13 1040.72" stroke="#000" stroke-width="1.90" stroke-linecap="round" fill="none"/>
<path d="M1157.90 1042.50L1157.90 1038.95M1157.90 1042.50L1157.90 1046.05M1157.90 1042.50L1160.97 1040.72M1157.90 1042.50L1160.97 1044.28M1157.90 1042.50L1154.83 1044.28M1157.90 1042.50L1154.83 1040.72" stroke="#000" stroke-width="1.90" stroke-linecap="round" fill="none"/>
<line x1="1103.10" y1="1076.10" x2="1173.10" y2="1076.10" stroke="#000" stroke-width="2.2" stroke-linecap="butt"/>
<path d="M1128.30 1064.10L1128.30 1060.55M1128.30 1064.10L1128.30 1067.65M1128.30 1064.10L1131.37 1062.32M1128.30 1064.10L1131.37 1065.88M1128.30 1064.10L1125.23 1065.88M1128.30 1064.10L1125.23 1062.32" stroke="#000" stroke-width="1.90" stroke-linecap="round" fill="none"/>
<path d="M1139.00 1064.10L1139.00 1060.55M1139.00 1064.10L1139.00 1067.65M1139.00 1064.10L1142.07 1062.32M1139.00 1064.10L1142.07 1065.88M1139.00 1064.10L1135.93 1065.88M1139.00 1064.10L1135.93 1062.32" stroke="#000" stroke-width="1.90" stroke-linecap="round" fill="none"/>
<path d="M1149.70 1064.10L1149.70 1060.55M1149.70 1064.10L1149.70 1067.65M1149.70 1064.10L1152.77 1062.32M1149.70 1064.10L1152.77 1065.88M1149.70 1064.10L1146.63 1065.88M1149.70 1064.10L1146.63 1062.32" stroke="#000" stroke-width="1.90" stroke-linecap="round" fill="none"/>
<line x1="1082.70" y1="1097.20" x2="1149.60" y2="1097.20" stroke="#000" stroke-width="2.2" stroke-linecap="butt"/>
<path d="M1116.30 1085.20L1116.30 1081.65M1116.30 1085.20L1116.30 1088.75M1116.30 1085.20L1119.37 1083.42M1116.30 1085.20L1119.37 1086.98M1116.30 1085.20L1113.23 1086.98M1116.30 1085.20L1113.23 1083.42" stroke="#000" stroke-width="1.90" stroke-linecap="round" fill="none"/>
<line x1="1081.30" y1="1181.10" x2="1106.70" y2="1181.10" stroke="#000" stroke-width="3" stroke-linecap="butt"/>
<path d="M1088.65 1169.10L1088.65 1165.55M1088.65 1169.10L1088.65 1172.65M1088.65 1169.10L1091.72 1167.32M1088.65 1169.10L1091.72 1170.88M1088.65 1169.10L1085.58 1170.88M1088.65 1169.10L1085.58 1167.32" stroke="#000" stroke-width="1.90" stroke-linecap="round" fill="none"/>
<path d="M1099.35 1169.10L1099.35 1165.55M1099.35 1169.10L1099.35 1172.65M1099.35 1169.10L1102.42 1167.32M1099.35 1169.10L1102.42 1170.88M1099.35 1169.10L1096.28 1170.88M1099.35 1169.10L1096.28 1167.32" stroke="#000" stroke-width="1.90" stroke-linecap="round" fill="none"/>
<line x1="1239.10" y1="1104.80" x2="1305.60" y2="1104.80" stroke="#000" stroke-width="2.2" stroke-linecap="butt"/>
<path d="M1272.70 1092.80L1272.70 1089.25M1272.70 1092.80L1272.70 1096.35M1272.70 1092.80L1275.77 1091.02M1272.70 1092.80L1275.77 1094.58M1272.70 1092.80L1269.63 1094.58M1272.70 1092.80L1269.63 1091.02" stroke="#000" stroke-width="1.90" stroke-linecap="round" fill="none"/>
<line x1="1216.30" y1="1127.90" x2="1286.40" y2="1127.90" stroke="#000" stroke-width="2.2" stroke-linecap="butt"/>
<path d="M1251.80 1115.90L1251.80 1112.35M1251.80 1115.90L1251.80 1119.45M1251.80 1115.90L1254.87 1114.12M1251.80 1115.90L1254.87 1117.68M1251.80 1115.90L1248.73 1117.68M1251.80 1115.90L1248.73 1114.12" stroke="#000" stroke-width="1.90" stroke-linecap="round" fill="none"/>
<text x="1100.00" y="1277.60" font-size="14" fill="#000" font-weight="bold" text-anchor="end" transform="rotate(-45 1100.00 1277.60)">control</text>
<text x="1168.10" y="1277.60" font-size="14" fill="#000" font-weight="bold" text-anchor="end" transform="rotate(-45 1168.10 1277.60)">sKL</text>
<text x="1236.00" y="1277.60" font-size="14" fill="#000" font-weight="bold" text-anchor="end" transform="rotate(-45 1236.00 1277.60)">Pi</text>
<text x="1304.40" y="1277.60" font-size="14" fill="#000" font-weight="bold" text-anchor="end" transform="rotate(-45 1304.40 1277.60)">Pi+sKL</text>
<text x="1177.31" y="1334.00" font-size="16.20" fill="#000" font-weight="bold" textLength="39.58" lengthAdjust="spacingAndGlyphs">GPX4</text>
<text x="1038.80" y="1216.60" font-size="17.24" fill="#000" font-weight="bold" textLength="97.60" lengthAdjust="spacingAndGlyphs" transform="rotate(-90 1038.80 1216.60)">GPX4/GAPDH</text>
<line x1="1395.20" y1="1083.80" x2="1395.20" y2="1263.30" stroke="#000" stroke-width="2" stroke-linecap="butt"/>
<line x1="1389.20" y1="1262.30" x2="1661.50" y2="1262.30" stroke="#000" stroke-width="2" stroke-linecap="butt"/>
<line x1="1390.20" y1="1262.30" x2="1395.20" y2="1262.30" stroke="#000" stroke-width="2" stroke-linecap="butt"/>
<text x="1368.80" y="1267.10" font-size="13.76" fill="#000" font-weight="bold" textLength="19.77" lengthAdjust="spacingAndGlyphs">0.0</text>
<line x1="1390.20" y1="1217.90" x2="1395.20" y2="1217.90" stroke="#000" stroke-width="2" stroke-linecap="butt"/>
<text x="1368.62" y="1222.70" font-size="13.76" fill="#000" font-weight="bold" textLength="19.77" lengthAdjust="spacingAndGlyphs">0.5</text>
<line x1="1390.20" y1="1173.60" x2="1395.20" y2="1173.60" stroke="#000" stroke-width="2" stroke-linecap="butt"/>
<text x="1368.80" y="1178.40" font-size="13.76" fill="#000" font-weight="bold" textLength="19.77" lengthAdjust="spacingAndGlyphs">1.0</text>
<line x1="1390.20" y1="1129.20" x2="1395.20" y2="1129.20" stroke="#000" stroke-width="2" stroke-linecap="butt"/>
<text x="1368.62" y="1134.00" font-size="13.76" fill="#000" font-weight="bold" textLength="19.77" lengthAdjust="spacingAndGlyphs">1.5</text>
<line x1="1390.20" y1="1084.30" x2="1395.20" y2="1084.30" stroke="#000" stroke-width="2" stroke-linecap="butt"/>
<text x="1368.80" y="1089.10" font-size="13.76" fill="#000" font-weight="bold" textLength="19.77" lengthAdjust="spacingAndGlyphs">2.0</text>
<line x1="1427.60" y1="1262.30" x2="1427.60" y2="1268.30" stroke="#000" stroke-width="2" stroke-linecap="butt"/>
<line x1="1494.30" y1="1262.30" x2="1494.30" y2="1268.30" stroke="#000" stroke-width="2" stroke-linecap="butt"/>
<line x1="1560.70" y1="1262.30" x2="1560.70" y2="1268.30" stroke="#000" stroke-width="2" stroke-linecap="butt"/>
<line x1="1627.20" y1="1262.30" x2="1627.20" y2="1268.30" stroke="#000" stroke-width="2" stroke-linecap="butt"/>
<line x1="1415.35" y1="1174.00" x2="1415.35" y2="1162.50" stroke="#000" stroke-width="2" stroke-linecap="butt"/>
<line x1="1411.85" y1="1162.80" x2="1418.85" y2="1162.80" stroke="#000" stroke-width="1.8" stroke-linecap="round"/>
<rect x="1409.40" y="1175.50" width="11.90" height="86.80" fill="#808080" stroke="#000" stroke-width="3.0"/>
<line x1="1440.55" y1="1208.80" x2="1440.55" y2="1204.00" stroke="#000" stroke-width="2" stroke-linecap="butt"/>
<line x1="1437.05" y1="1204.30" x2="1444.05" y2="1204.30" stroke="#000" stroke-width="1.8" stroke-linecap="round"/>
<rect x="1434.60" y="1210.30" width="11.90" height="52.00" fill="#ff0000" stroke="#000" stroke-width="3.0"/>
<line x1="1481.80" y1="1146.00" x2="1481.80" y2="1132.50" stroke="#000" stroke-width="2" stroke-linecap="butt"/>
<line x1="1478.30" y1="1132.80" x2="1485.30" y2="1132.80" stroke="#000" stroke-width="1.8" stroke-linecap="round"/>
<rect x="1475.90" y="1147.50" width="11.80" height="114.80" fill="#808080" stroke="#000" stroke-width="3.0"/>
<line x1="1506.95" y1="1164.70" x2="1506.95" y2="1160.90" stroke="#000" stroke-width="2" stroke-linecap="butt"/>
<line x1="1503.45" y1="1161.20" x2="1510.45" y2="1161.20" stroke="#000" stroke-width="1.8" stroke-linecap="round"/>
<rect x="1501.00" y="1166.20" width="11.90" height="96.10" fill="#ff0000" stroke="#000" stroke-width="3.0"/>
<line x1="1548.50" y1="1199.50" x2="1548.50" y2="1191.60" stroke="#000" stroke-width="2" stroke-linecap="butt"/>
<line x1="1545.00" y1="1191.90" x2="1552.00" y2="1191.90" stroke="#000" stroke-width="1.8" stroke-linecap="round"/>
<rect x="1542.60" y="1201.00" width="11.80" height="61.30" fill="#808080" stroke="#000" stroke-width="3.0"/>
<line x1="1572.95" y1="1231.60" x2="1572.95" y2="1226.40" stroke="#000" stroke-width="2" stroke-linecap="butt"/>
<line x1="1569.45" y1="1226.70" x2="1576.45" y2="1226.70" stroke="#000" stroke-width="1.8" stroke-linecap="round"/>
<rect x="1567.00" y="1233.10" width="11.90" height="29.20" fill="#ff0000" stroke="#000" stroke-width="3.0"/>
<line x1="1614.70" y1="1155.10" x2="1614.70" y2="1138.80" stroke="#000" stroke-width="2" stroke-linecap="butt"/>
<line x1="1611.20" y1="1139.10" x2="1618.20" y2="1139.10" stroke="#000" stroke-width="1.8" stroke-linecap="round"/>
<rect x="1608.50" y="1156.60" width="12.40" height="105.70" fill="#808080" stroke="#000" stroke-width="3.0"/>
<line x1="1639.55" y1="1184.80" x2="1639.55" y2="1181.20" stroke="#000" stroke-width="2" stroke-linecap="butt"/>
<line x1="1636.05" y1="1181.50" x2="1643.05" y2="1181.50" stroke="#000" stroke-width="1.8" stroke-linecap="round"/>
<rect x="1633.50" y="1186.30" width="12.10" height="76.00" fill="#ff0000" stroke="#000" stroke-width="3.0"/>
<line x1="1436.40" y1="1056.50" x2="1565.00" y2="1056.50" stroke="#000" stroke-width="2.2" stroke-linecap="butt"/>
<path d="M1496.25 1044.50L1496.25 1040.95M1496.25 1044.50L1496.25 1048.05M1496.25 1044.50L1499.32 1042.72M1496.25 1044.50L1499.32 1046.28M1496.25 1044.50L1493.18 1046.28M1496.25 1044.50L1493.18 1042.72" stroke="#000" stroke-width="1.90" stroke-linecap="round" fill="none"/>
<path d="M1506.95 1044.50L1506.95 1040.95M1506.95 1044.50L1506.95 1048.05M1506.95 1044.50L1510.02 1042.72M1506.95 1044.50L1510.02 1046.28M1506.95 1044.50L1503.88 1046.28M1506.95 1044.50L1503.88 1042.72" stroke="#000" stroke-width="1.90" stroke-linecap="round" fill="none"/>
<line x1="1415.10" y1="1077.60" x2="1543.90" y2="1077.60" stroke="#000" stroke-width="2.2" stroke-linecap="butt"/>
<path d="M1479.60 1065.60L1479.60 1062.05M1479.60 1065.60L1479.60 1069.15M1479.60 1065.60L1482.67 1063.82M1479.60 1065.60L1482.67 1067.38M1479.60 1065.60L1476.53 1067.38M1479.60 1065.60L1476.53 1063.82" stroke="#000" stroke-width="1.90" stroke-linecap="round" fill="none"/>
<line x1="1433.10" y1="1100.40" x2="1503.90" y2="1100.40" stroke="#000" stroke-width="3" stroke-linecap="butt"/>
<path d="M1463.65 1088.40L1463.65 1084.85M1463.65 1088.40L1463.65 1091.95M1463.65 1088.40L1466.72 1086.62M1463.65 1088.40L1466.72 1090.18M1463.65 1088.40L1460.58 1090.18M1463.65 1088.40L1460.58 1086.62" stroke="#000" stroke-width="1.90" stroke-linecap="round" fill="none"/>
<path d="M1474.35 1088.40L1474.35 1084.85M1474.35 1088.40L1474.35 1091.95M1474.35 1088.40L1477.42 1086.62M1474.35 1088.40L1477.42 1090.18M1474.35 1088.40L1471.28 1090.18M1474.35 1088.40L1471.28 1086.62" stroke="#000" stroke-width="1.90" stroke-linecap="round" fill="none"/>
<line x1="1415.60" y1="1123.90" x2="1481.60" y2="1123.90" stroke="#000" stroke-width="2.2" stroke-linecap="butt"/>
<path d="M1443.85 1111.90L1443.85 1108.35M1443.85 1111.90L1443.85 1115.45M1443.85 1111.90L1446.92 1110.12M1443.85 1111.90L1446.92 1113.68M1443.85 1111.90L1440.78 1113.68M1443.85 1111.90L1440.78 1110.12" stroke="#000" stroke-width="1.90" stroke-linecap="round" fill="none"/>
<path d="M1454.55 1111.90L1454.55 1108.35M1454.55 1111.90L1454.55 1115.45M1454.55 1111.90L1457.62 1110.12M1454.55 1111.90L1457.62 1113.68M1454.55 1111.90L1451.48 1113.68M1454.55 1111.90L1451.48 1110.12" stroke="#000" stroke-width="1.90" stroke-linecap="round" fill="none"/>
<line x1="1413.90" y1="1154.40" x2="1436.70" y2="1154.40" stroke="#000" stroke-width="3" stroke-linecap="butt"/>
<path d="M1425.20 1142.40L1425.20 1138.85M1425.20 1142.40L1425.20 1145.95M1425.20 1142.40L1428.27 1140.62M1425.20 1142.40L1428.27 1144.18M1425.20 1142.40L1422.13 1144.18M1425.20 1142.40L1422.13 1140.62" stroke="#000" stroke-width="1.90" stroke-linecap="round" fill="none"/>
<line x1="1566.70" y1="1103.30" x2="1638.70" y2="1103.30" stroke="#000" stroke-width="2.2" stroke-linecap="butt"/>
<path d="M1597.65 1091.30L1597.65 1087.75M1597.65 1091.30L1597.65 1094.85M1597.65 1091.30L1600.72 1089.52M1597.65 1091.30L1600.72 1093.08M1597.65 1091.30L1594.58 1093.08M1597.65 1091.30L1594.58 1089.52" stroke="#000" stroke-width="1.90" stroke-linecap="round" fill="none"/>
<path d="M1608.35 1091.30L1608.35 1087.75M1608.35 1091.30L1608.35 1094.85M1608.35 1091.30L1611.42 1089.52M1608.35 1091.30L1611.42 1093.08M1608.35 1091.30L1605.28 1093.08M1608.35 1091.30L1605.28 1089.52" stroke="#000" stroke-width="1.90" stroke-linecap="round" fill="none"/>
<line x1="1545.90" y1="1126.80" x2="1614.70" y2="1126.80" stroke="#000" stroke-width="2.2" stroke-linecap="butt"/>
<path d="M1580.40 1114.80L1580.40 1111.25M1580.40 1114.80L1580.40 1118.35M1580.40 1114.80L1583.47 1113.02M1580.40 1114.80L1583.47 1116.58M1580.40 1114.80L1577.33 1116.58M1580.40 1114.80L1577.33 1113.02" stroke="#000" stroke-width="1.90" stroke-linecap="round" fill="none"/>
<text x="1432.90" y="1280.30" font-size="14" fill="#000" font-weight="bold" text-anchor="end" transform="rotate(-45 1432.90 1280.30)">control</text>
<text x="1499.60" y="1280.30" font-size="14" fill="#000" font-weight="bold" text-anchor="end" transform="rotate(-45 1499.60 1280.30)">sKL</text>
<text x="1566.00" y="1280.30" font-size="14" fill="#000" font-weight="bold" text-anchor="end" transform="rotate(-45 1566.00 1280.30)">Pi</text>
<text x="1632.50" y="1280.30" font-size="14" fill="#000" font-weight="bold" text-anchor="end" transform="rotate(-45 1632.50 1280.30)">Pi+sKL</text>
<text x="1511.72" y="1334.30" font-size="15.48" fill="#000" font-weight="bold" textLength="31.30" lengthAdjust="spacingAndGlyphs">GSR</text>
<text x="1361.10" y="1216.07" font-size="16.55" fill="#000" font-weight="bold" textLength="86.62" lengthAdjust="spacingAndGlyphs" transform="rotate(-90 1361.10 1216.07)">GSR/GAPDH</text>
<rect x="730.05" y="793.25" width="15.40" height="6.40" fill="#808080" stroke="#000" stroke-width="2.5"/>
<rect x="730.05" y="812.45" width="15.40" height="6.00" fill="#ff0000" stroke="#000" stroke-width="2.5"/>
<text x="756.67" y="801.20" font-size="14.34" fill="#000" textLength="40.98" lengthAdjust="spacingAndGlyphs">DMSO</text>
<text x="756.67" y="820.50" font-size="15.05" fill="#000" textLength="34.13" lengthAdjust="spacingAndGlyphs">RSL3</text>
<rect x="1119.55" y="784.25" width="16.10" height="6.40" fill="#808080" stroke="#000" stroke-width="2.5"/>
<rect x="1119.55" y="804.25" width="16.10" height="6.20" fill="#ff0000" stroke="#000" stroke-width="2.5"/>
<text x="1146.62" y="792.40" font-size="14.77" fill="#000" textLength="43.07" lengthAdjust="spacingAndGlyphs">DMSO</text>
<text x="1146.82" y="812.50" font-size="15.20" fill="#000" textLength="35.92" lengthAdjust="spacingAndGlyphs">RSL3</text>
<rect x="1681.05" y="1092.95" width="16.10" height="7.10" fill="#808080" stroke="#000" stroke-width="2.5"/>
<rect x="1681.05" y="1116.45" width="16.10" height="7.30" fill="#ff0000" stroke="#000" stroke-width="2.5"/>
<text x="1708.89" y="1101.80" font-size="15.20" fill="#000" textLength="43.90" lengthAdjust="spacingAndGlyphs">DMSO</text>
<text x="1708.89" y="1125.50" font-size="15.20" fill="#000" textLength="36.76" lengthAdjust="spacingAndGlyphs">RSL3</text>
<path d="M686.5 1029.5 H1010.5 V1010" stroke="#b4b4b4" stroke-width="1" fill="none"/>
<rect x="533.10" y="183.50" width="254.70" height="36.10" fill="#ebebeb"/>
<line x1="533.10" y1="183.90" x2="787.80" y2="183.90" stroke="#a0a0a0" stroke-width="0.8" stroke-linecap="butt"/>
<rect x="533.10" y="227.30" width="254.70" height="36.50" fill="#e9e9e9"/>
<rect x="533.10" y="271.40" width="254.70" height="36.10" fill="#f7f7f7"/>
<line x1="533.10" y1="307.10" x2="787.80" y2="307.10" stroke="#a0a0a0" stroke-width="0.8" stroke-linecap="butt"/>
<rect x="533.10" y="314.10" width="253.90" height="36.80" fill="#e6e6e6"/>
<path d="M539.93 194.15 Q563.65 196.45 587.37 194.15 Q592.00 194.15 592.00 198.78 L592.00 199.82 Q592.00 204.45 587.37 204.45 Q563.65 202.15 539.93 204.45 Q535.30 204.45 535.30 199.82 L535.30 198.78 Q535.30 194.15 539.93 194.15 Z" fill="#000" fill-opacity="0.35" stroke="#000" stroke-opacity="0.30" stroke-width="3" filter="url(#bh)"/>
<path d="M539.93 194.15 Q563.65 196.45 587.37 194.15 Q592.00 194.15 592.00 198.78 L592.00 199.82 Q592.00 204.45 587.37 204.45 Q563.65 202.15 539.93 204.45 Q535.30 204.45 535.30 199.82 L535.30 198.78 Q535.30 194.15 539.93 194.15 Z" fill="#000" fill-opacity="1.0" filter="url(#b1)"/>
<path d="M604.53 198.50 Q628.00 199.30 651.47 198.50 Q653.00 198.50 653.00 200.03 L653.00 200.37 Q653.00 201.90 651.47 201.90 Q628.00 201.10 604.53 201.90 Q603.00 201.90 603.00 200.37 L603.00 200.03 Q603.00 198.50 604.53 198.50 Z" fill="#b4b4b4" fill-opacity="0.35" stroke="#b4b4b4" stroke-opacity="0.30" stroke-width="3" filter="url(#bh)"/>
<path d="M604.53 198.50 Q628.00 199.30 651.47 198.50 Q653.00 198.50 653.00 200.03 L653.00 200.37 Q653.00 201.90 651.47 201.90 Q628.00 201.10 604.53 201.90 Q603.00 201.90 603.00 200.37 L603.00 200.03 Q603.00 198.50 604.53 198.50 Z" fill="#b4b4b4" fill-opacity="1.0" filter="url(#b2)"/>
<path d="M668.45 192.80 Q692.05 194.80 715.65 192.80 Q721.50 192.80 721.50 198.65 L721.50 199.95 Q721.50 205.80 715.65 205.80 Q692.05 203.80 668.45 205.80 Q662.60 205.80 662.60 199.95 L662.60 198.65 Q662.60 192.80 668.45 192.80 Z" fill="#000" fill-opacity="0.35" stroke="#000" stroke-opacity="0.30" stroke-width="3" filter="url(#bh)"/>
<path d="M668.45 192.80 Q692.05 194.80 715.65 192.80 Q721.50 192.80 721.50 198.65 L721.50 199.95 Q721.50 205.80 715.65 205.80 Q692.05 203.80 668.45 205.80 Q662.60 205.80 662.60 199.95 L662.60 198.65 Q662.60 192.80 668.45 192.80 Z" fill="#000" fill-opacity="1.0" filter="url(#b1)"/>
<path d="M734.00 196.30 Q758.00 198.30 782.00 196.30 Q785.60 196.30 785.60 199.90 L785.60 200.70 Q785.60 204.30 782.00 204.30 Q758.00 202.30 734.00 204.30 Q730.40 204.30 730.40 200.70 L730.40 199.90 Q730.40 196.30 734.00 196.30 Z" fill="#000" fill-opacity="0.35" stroke="#000" stroke-opacity="0.30" stroke-width="3" filter="url(#bh)"/>
<path d="M734.00 196.30 Q758.00 198.30 782.00 196.30 Q785.60 196.30 785.60 199.90 L785.60 200.70 Q785.60 204.30 782.00 204.30 Q758.00 202.30 734.00 204.30 Q730.40 204.30 730.40 200.70 L730.40 199.90 Q730.40 196.30 734.00 196.30 Z" fill="#000" fill-opacity="1.0" filter="url(#b1)"/>
<path d="M545.01 238.30 Q563.25 240.10 581.49 238.30 Q586.80 238.30 586.80 243.61 L586.80 244.79 Q586.80 250.10 581.49 250.10 Q563.25 248.30 545.01 250.10 Q539.70 250.10 539.70 244.79 L539.70 243.61 Q539.70 238.30 545.01 238.30 Z" fill="#000" fill-opacity="0.35" stroke="#000" stroke-opacity="0.30" stroke-width="3" filter="url(#bh)"/>
<path d="M545.01 238.30 Q563.25 240.10 581.49 238.30 Q586.80 238.30 586.80 243.61 L586.80 244.79 Q586.80 250.10 581.49 250.10 Q563.25 248.30 545.01 250.10 Q539.70 250.10 539.70 244.79 L539.70 243.61 Q539.70 238.30 545.01 238.30 Z" fill="#000" fill-opacity="1.0" filter="url(#b1)"/>
<path d="M607.26 236.75 Q626.20 238.45 645.13 236.75 Q653.10 236.75 653.10 244.72 L653.10 246.48 Q653.10 254.45 645.13 254.45 Q626.20 252.75 607.26 254.45 Q599.30 254.45 599.30 246.48 L599.30 244.72 Q599.30 236.75 607.26 236.75 Z" fill="#000" fill-opacity="0.35" stroke="#000" stroke-opacity="0.30" stroke-width="3" filter="url(#bh)"/>
<path d="M607.26 236.75 Q626.20 238.45 645.13 236.75 Q653.10 236.75 653.10 244.72 L653.10 246.48 Q653.10 254.45 645.13 254.45 Q626.20 252.75 607.26 254.45 Q599.30 254.45 599.30 246.48 L599.30 244.72 Q599.30 236.75 607.26 236.75 Z" fill="#000" fill-opacity="1.0" filter="url(#b1)"/>
<path d="M672.72 240.40 Q691.75 244.50 710.78 240.40 Q714.20 240.40 714.20 243.82 L714.20 244.58 Q714.20 248.00 710.78 248.00 Q691.75 243.90 672.72 248.00 Q669.30 248.00 669.30 244.58 L669.30 243.82 Q669.30 240.40 672.72 240.40 Z" fill="#000" fill-opacity="0.35" stroke="#000" stroke-opacity="0.30" stroke-width="3" filter="url(#bh)"/>
<path d="M672.72 240.40 Q691.75 244.50 710.78 240.40 Q714.20 240.40 714.20 243.82 L714.20 244.58 Q714.20 248.00 710.78 248.00 Q691.75 243.90 672.72 248.00 Q669.30 248.00 669.30 244.58 L669.30 243.82 Q669.30 240.40 672.72 240.40 Z" fill="#000" fill-opacity="1.0" filter="url(#b1)"/>
<path d="M737.52 237.60 Q755.75 239.20 773.98 237.60 Q781.90 237.60 781.90 245.52 L781.90 247.28 Q781.90 255.20 773.98 255.20 Q755.75 253.60 737.52 255.20 Q729.60 255.20 729.60 247.28 L729.60 245.52 Q729.60 237.60 737.52 237.60 Z" fill="#000" fill-opacity="0.35" stroke="#000" stroke-opacity="0.30" stroke-width="3" filter="url(#bh)"/>
<path d="M737.52 237.60 Q755.75 239.20 773.98 237.60 Q781.90 237.60 781.90 245.52 L781.90 247.28 Q781.90 255.20 773.98 255.20 Q755.75 253.60 737.52 255.20 Q729.60 255.20 729.60 247.28 L729.60 245.52 Q729.60 237.60 737.52 237.60 Z" fill="#000" fill-opacity="1.0" filter="url(#b1)"/>
<path d="M541.61 286.40 Q553.50 286.20 565.39 285.40 Q568.00 285.40 568.00 288.01 L568.00 288.59 Q568.00 291.20 565.39 291.20 Q553.50 291.40 541.61 292.20 Q539.00 292.20 539.00 289.59 L539.00 289.01 Q539.00 286.40 541.61 286.40 Z" fill="#000" fill-opacity="0.35" stroke="#000" stroke-opacity="0.30" stroke-width="3" filter="url(#bh)"/>
<path d="M541.61 286.40 Q553.50 286.20 565.39 285.40 Q568.00 285.40 568.00 288.01 L568.00 288.59 Q568.00 291.20 565.39 291.20 Q553.50 291.40 541.61 292.20 Q539.00 292.20 539.00 289.59 L539.00 289.01 Q539.00 286.40 541.61 286.40 Z" fill="#000" fill-opacity="1.0" filter="url(#b1)"/>
<path d="M564.34 285.65 Q575.50 285.60 586.66 284.15 Q589.00 284.15 589.00 286.49 L589.00 287.01 Q589.00 289.35 586.66 289.35 Q575.50 289.40 564.34 290.85 Q562.00 290.85 562.00 288.51 L562.00 287.99 Q562.00 285.65 564.34 285.65 Z" fill="#3a3a3a" fill-opacity="1.0" filter="url(#b1)"/>
<path d="M609.48 282.85 Q629.85 283.85 650.23 282.85 Q654.50 282.85 654.50 287.12 L654.50 288.08 Q654.50 292.35 650.23 292.35 Q629.85 291.35 609.48 292.35 Q605.20 292.35 605.20 288.08 L605.20 287.12 Q605.20 282.85 609.48 282.85 Z" fill="#000" fill-opacity="0.35" stroke="#000" stroke-opacity="0.30" stroke-width="3" filter="url(#bh)"/>
<path d="M609.48 282.85 Q629.85 283.85 650.23 282.85 Q654.50 282.85 654.50 287.12 L654.50 288.08 Q654.50 292.35 650.23 292.35 Q629.85 291.35 609.48 292.35 Q605.20 292.35 605.20 288.08 L605.20 287.12 Q605.20 282.85 609.48 282.85 Z" fill="#000" fill-opacity="1.0" filter="url(#b1)"/>
<path d="M678.85 287.30 Q691.30 288.30 703.75 288.30 Q706.00 288.30 706.00 290.55 L706.00 291.05 Q706.00 293.30 703.75 293.30 Q691.30 292.30 678.85 292.30 Q676.60 292.30 676.60 290.05 L676.60 289.55 Q676.60 287.30 678.85 287.30 Z" fill="#c4c4c4" fill-opacity="0.35" stroke="#c4c4c4" stroke-opacity="0.30" stroke-width="3" filter="url(#bh)"/>
<path d="M678.85 287.30 Q691.30 288.30 703.75 288.30 Q706.00 288.30 706.00 290.55 L706.00 291.05 Q706.00 293.30 703.75 293.30 Q691.30 292.30 678.85 292.30 Q676.60 292.30 676.60 290.05 L676.60 289.55 Q676.60 287.30 678.85 287.30 Z" fill="#c4c4c4" fill-opacity="1.0" filter="url(#b1)"/>
<path d="M704.07 286.80 Q713.60 286.90 723.13 285.80 Q725.20 285.80 725.20 287.87 L725.20 288.33 Q725.20 290.40 723.13 290.40 Q713.60 290.30 704.07 291.40 Q702.00 291.40 702.00 289.33 L702.00 288.87 Q702.00 286.80 704.07 286.80 Z" fill="#6a6a6a" fill-opacity="1.0" filter="url(#b1)"/>
<path d="M738.64 285.60 Q759.10 285.30 779.56 282.60 Q781.90 282.60 781.90 284.94 L781.90 285.46 Q781.90 287.80 779.56 287.80 Q759.10 288.10 738.64 290.80 Q736.30 290.80 736.30 288.46 L736.30 287.94 Q736.30 285.60 738.64 285.60 Z" fill="#000" fill-opacity="0.35" stroke="#000" stroke-opacity="0.30" stroke-width="3" filter="url(#bh)"/>
<path d="M738.64 285.60 Q759.10 285.30 779.56 282.60 Q781.90 282.60 781.90 284.94 L781.90 285.46 Q781.90 287.80 779.56 287.80 Q759.10 288.10 738.64 290.80 Q736.30 290.80 736.30 288.46 L736.30 287.94 Q736.30 285.60 738.64 285.60 Z" fill="#000" fill-opacity="1.0" filter="url(#b1)"/>
<path d="M541.38 323.00 Q561.05 324.90 580.72 323.00 Q589.00 323.00 589.00 331.28 L589.00 333.12 Q589.00 341.40 580.72 341.40 Q561.05 339.50 541.38 341.40 Q533.10 341.40 533.10 333.12 L533.10 331.28 Q533.10 323.00 541.38 323.00 Z" fill="#000" fill-opacity="0.35" stroke="#000" stroke-opacity="0.30" stroke-width="3" filter="url(#bh)"/>
<path d="M541.38 323.00 Q561.05 324.90 580.72 323.00 Q589.00 323.00 589.00 331.28 L589.00 333.12 Q589.00 341.40 580.72 341.40 Q561.05 339.50 541.38 341.40 Q533.10 341.40 533.10 333.12 L533.10 331.28 Q533.10 323.00 541.38 323.00 Z" fill="#000" fill-opacity="1.0" filter="url(#b1)"/>
<path d="M606.27 324.45 Q625.80 326.45 645.32 324.45 Q652.30 324.45 652.30 331.43 L652.30 332.97 Q652.30 339.95 645.32 339.95 Q625.80 337.95 606.27 339.95 Q599.30 339.95 599.30 332.97 L599.30 331.43 Q599.30 324.45 606.27 324.45 Z" fill="#000" fill-opacity="0.35" stroke="#000" stroke-opacity="0.30" stroke-width="3" filter="url(#bh)"/>
<path d="M606.27 324.45 Q625.80 326.45 645.32 324.45 Q652.30 324.45 652.30 331.43 L652.30 332.97 Q652.30 339.95 645.32 339.95 Q625.80 337.95 606.27 339.95 Q599.30 339.95 599.30 332.97 L599.30 331.43 Q599.30 324.45 606.27 324.45 Z" fill="#000" fill-opacity="1.0" filter="url(#b1)"/>
<path d="M669.89 324.40 Q690.20 326.10 710.51 324.40 Q717.80 324.40 717.80 331.69 L717.80 333.31 Q717.80 340.60 710.51 340.60 Q690.20 338.90 669.89 340.60 Q662.60 340.60 662.60 333.31 L662.60 331.69 Q662.60 324.40 669.89 324.40 Z" fill="#000" fill-opacity="0.35" stroke="#000" stroke-opacity="0.30" stroke-width="3" filter="url(#bh)"/>
<path d="M669.89 324.40 Q690.20 326.10 710.51 324.40 Q717.80 324.40 717.80 331.69 L717.80 333.31 Q717.80 340.60 710.51 340.60 Q690.20 338.90 669.89 340.60 Q662.60 340.60 662.60 333.31 L662.60 331.69 Q662.60 324.40 669.89 324.40 Z" fill="#000" fill-opacity="1.0" filter="url(#b1)"/>
<path d="M735.05 323.70 Q755.00 325.20 774.95 323.70 Q782.60 323.70 782.60 331.35 L782.60 333.05 Q782.60 340.70 774.95 340.70 Q755.00 339.20 735.05 340.70 Q727.40 340.70 727.40 333.05 L727.40 331.35 Q727.40 323.70 735.05 323.70 Z" fill="#000" fill-opacity="0.35" stroke="#000" stroke-opacity="0.30" stroke-width="3" filter="url(#bh)"/>
<path d="M735.05 323.70 Q755.00 325.20 774.95 323.70 Q782.60 323.70 782.60 331.35 L782.60 333.05 Q782.60 340.70 774.95 340.70 Q755.00 339.20 735.05 340.70 Q727.40 340.70 727.40 333.05 L727.40 331.35 Q727.40 323.70 735.05 323.70 Z" fill="#000" fill-opacity="1.0" filter="url(#b1)"/>
<text x="534.70" y="174.90" font-size="12.7" fill="#000" textLength="38.20" lengthAdjust="spacingAndGlyphs">control</text>
<text x="609.30" y="174.20" font-size="12.7" fill="#000" textLength="22.40" lengthAdjust="spacingAndGlyphs">sKL</text>
<text x="683.00" y="174.90" font-size="12.7" fill="#000" textLength="10.90" lengthAdjust="spacingAndGlyphs">Pi</text>
<text x="727.00" y="174.90" font-size="12.7" fill="#000" textLength="40.60" lengthAdjust="spacingAndGlyphs">Pi+sKL</text>
<text x="462.70" y="206.40" font-size="13.2" fill="#000" textLength="34.90" lengthAdjust="spacingAndGlyphs">COX2</text>
<text x="459.90" y="249.40" font-size="13.2" fill="#000" textLength="33.80" lengthAdjust="spacingAndGlyphs">GPX4</text>
<text x="464.50" y="292.00" font-size="13.2" fill="#000" textLength="28.10" lengthAdjust="spacingAndGlyphs">GSR</text>
<text x="451.40" y="337.10" font-size="13.2" fill="#000" textLength="45.80" lengthAdjust="spacingAndGlyphs">GAPDH</text>
<rect x="137.20" y="1131.10" width="540.30" height="29.80" fill="#f3f3f3"/>
<line x1="137.70" y1="1131.10" x2="137.70" y2="1160.90" stroke="#9a9a9a" stroke-width="1" stroke-linecap="butt"/>
<line x1="677.00" y1="1131.10" x2="677.00" y2="1160.90" stroke="#9a9a9a" stroke-width="1" stroke-linecap="butt"/>
<rect x="137.20" y="1166.20" width="540.30" height="29.50" fill="#f3f3f3"/>
<line x1="137.70" y1="1166.20" x2="137.70" y2="1195.70" stroke="#9a9a9a" stroke-width="1" stroke-linecap="butt"/>
<line x1="677.00" y1="1166.20" x2="677.00" y2="1195.70" stroke="#9a9a9a" stroke-width="1" stroke-linecap="butt"/>
<rect x="137.20" y="1201.30" width="540.30" height="30.30" fill="#f1f1f1"/>
<line x1="137.20" y1="1201.70" x2="677.50" y2="1201.70" stroke="#9a9a9a" stroke-width="0.8" stroke-linecap="butt"/>
<line x1="137.70" y1="1201.30" x2="137.70" y2="1231.60" stroke="#9a9a9a" stroke-width="1" stroke-linecap="butt"/>
<line x1="677.00" y1="1201.30" x2="677.00" y2="1231.60" stroke="#9a9a9a" stroke-width="1" stroke-linecap="butt"/>
<rect x="137.20" y="1237.20" width="540.30" height="39.70" fill="#ebebeb"/>
<line x1="137.70" y1="1237.20" x2="137.70" y2="1276.90" stroke="#9a9a9a" stroke-width="1" stroke-linecap="butt"/>
<line x1="677.00" y1="1237.20" x2="677.00" y2="1276.90" stroke="#9a9a9a" stroke-width="1" stroke-linecap="butt"/>
<path d="M150.90 1142.10 Q170.45 1143.10 190.00 1142.10 Q191.80 1142.10 191.80 1143.90 L191.80 1144.30 Q191.80 1146.10 190.00 1146.10 Q170.45 1145.10 150.90 1146.10 Q149.10 1146.10 149.10 1144.30 L149.10 1143.90 Q149.10 1142.10 150.90 1142.10 Z" fill="#777" fill-opacity="0.35" stroke="#777" stroke-opacity="0.30" stroke-width="3" filter="url(#bh)"/>
<path d="M150.90 1142.10 Q170.45 1143.10 190.00 1142.10 Q191.80 1142.10 191.80 1143.90 L191.80 1144.30 Q191.80 1146.10 190.00 1146.10 Q170.45 1145.10 150.90 1146.10 Q149.10 1146.10 149.10 1144.30 L149.10 1143.90 Q149.10 1142.10 150.90 1142.10 Z" fill="#777" fill-opacity="1.0" filter="url(#b2)"/>
<path d="M217.47 1144.30 Q236.90 1144.90 256.33 1144.30 Q257.50 1144.30 257.50 1145.47 L257.50 1145.73 Q257.50 1146.90 256.33 1146.90 Q236.90 1146.30 217.47 1146.90 Q216.30 1146.90 216.30 1145.73 L216.30 1145.47 Q216.30 1144.30 217.47 1144.30 Z" fill="#d8d8d8" fill-opacity="0.35" stroke="#d8d8d8" stroke-opacity="0.30" stroke-width="3" filter="url(#bh)"/>
<path d="M217.47 1144.30 Q236.90 1144.90 256.33 1144.30 Q257.50 1144.30 257.50 1145.47 L257.50 1145.73 Q257.50 1146.90 256.33 1146.90 Q236.90 1146.30 217.47 1146.90 Q216.30 1146.90 216.30 1145.73 L216.30 1145.47 Q216.30 1144.30 217.47 1144.30 Z" fill="#d8d8d8" fill-opacity="1.0" filter="url(#b2)"/>
<path d="M284.03 1144.35 Q304.80 1145.85 325.57 1144.35 Q328.50 1144.35 328.50 1147.27 L328.50 1147.92 Q328.50 1150.85 325.57 1150.85 Q304.80 1149.35 284.03 1150.85 Q281.10 1150.85 281.10 1147.92 L281.10 1147.27 Q281.10 1144.35 284.03 1144.35 Z" fill="#000" fill-opacity="0.35" stroke="#000" stroke-opacity="0.30" stroke-width="3" filter="url(#bh)"/>
<path d="M284.03 1144.35 Q304.80 1145.85 325.57 1144.35 Q328.50 1144.35 328.50 1147.27 L328.50 1147.92 Q328.50 1150.85 325.57 1150.85 Q304.80 1149.35 284.03 1150.85 Q281.10 1150.85 281.10 1147.92 L281.10 1147.27 Q281.10 1144.35 284.03 1144.35 Z" fill="#000" fill-opacity="1.0" filter="url(#b1)"/>
<path d="M353.35 1145.90 Q373.35 1146.90 393.35 1145.90 Q395.60 1145.90 395.60 1148.15 L395.60 1148.65 Q395.60 1150.90 393.35 1150.90 Q373.35 1149.90 353.35 1150.90 Q351.10 1150.90 351.10 1148.65 L351.10 1148.15 Q351.10 1145.90 353.35 1145.90 Z" fill="#111" fill-opacity="0.35" stroke="#111" stroke-opacity="0.30" stroke-width="3" filter="url(#bh)"/>
<path d="M353.35 1145.90 Q373.35 1146.90 393.35 1145.90 Q395.60 1145.90 395.60 1148.15 L395.60 1148.65 Q395.60 1150.90 393.35 1150.90 Q373.35 1149.90 353.35 1150.90 Q351.10 1150.90 351.10 1148.65 L351.10 1148.15 Q351.10 1145.90 353.35 1145.90 Z" fill="#111" fill-opacity="1.0" filter="url(#b2)"/>
<path d="M422.05 1145.40 Q442.30 1146.40 462.55 1145.40 Q464.80 1145.40 464.80 1147.65 L464.80 1148.15 Q464.80 1150.40 462.55 1150.40 Q442.30 1149.40 422.05 1150.40 Q419.80 1150.40 419.80 1148.15 L419.80 1147.65 Q419.80 1145.40 422.05 1145.40 Z" fill="#222" fill-opacity="0.35" stroke="#222" stroke-opacity="0.30" stroke-width="3" filter="url(#bh)"/>
<path d="M422.05 1145.40 Q442.30 1146.40 462.55 1145.40 Q464.80 1145.40 464.80 1147.65 L464.80 1148.15 Q464.80 1150.40 462.55 1150.40 Q442.30 1149.40 422.05 1150.40 Q419.80 1150.40 419.80 1148.15 L419.80 1147.65 Q419.80 1145.40 422.05 1145.40 Z" fill="#222" fill-opacity="1.0" filter="url(#b2)"/>
<path d="M488.50 1145.10 Q508.35 1146.10 528.20 1145.10 Q530.00 1145.10 530.00 1146.90 L530.00 1147.30 Q530.00 1149.10 528.20 1149.10 Q508.35 1148.10 488.50 1149.10 Q486.70 1149.10 486.70 1147.30 L486.70 1146.90 Q486.70 1145.10 488.50 1145.10 Z" fill="#999" fill-opacity="0.35" stroke="#999" stroke-opacity="0.30" stroke-width="3" filter="url(#bh)"/>
<path d="M488.50 1145.10 Q508.35 1146.10 528.20 1145.10 Q530.00 1145.10 530.00 1146.90 L530.00 1147.30 Q530.00 1149.10 528.20 1149.10 Q508.35 1148.10 488.50 1149.10 Q486.70 1149.10 486.70 1147.30 L486.70 1146.90 Q486.70 1145.10 488.50 1145.10 Z" fill="#999" fill-opacity="1.0" filter="url(#b2)"/>
<path d="M555.33 1141.35 Q576.00 1142.85 596.67 1141.35 Q600.50 1141.35 600.50 1145.17 L600.50 1146.02 Q600.50 1149.85 596.67 1149.85 Q576.00 1148.35 555.33 1149.85 Q551.50 1149.85 551.50 1146.02 L551.50 1145.17 Q551.50 1141.35 555.33 1141.35 Z" fill="#000" fill-opacity="0.35" stroke="#000" stroke-opacity="0.30" stroke-width="3" filter="url(#bh)"/>
<path d="M555.33 1141.35 Q576.00 1142.85 596.67 1141.35 Q600.50 1141.35 600.50 1145.17 L600.50 1146.02 Q600.50 1149.85 596.67 1149.85 Q576.00 1148.35 555.33 1149.85 Q551.50 1149.85 551.50 1146.02 L551.50 1145.17 Q551.50 1141.35 555.33 1141.35 Z" fill="#000" fill-opacity="1.0" filter="url(#b1)"/>
<path d="M622.15 1141.30 Q642.55 1142.80 662.95 1141.30 Q666.10 1141.30 666.10 1144.45 L666.10 1145.15 Q666.10 1148.30 662.95 1148.30 Q642.55 1146.80 622.15 1148.30 Q619.00 1148.30 619.00 1145.15 L619.00 1144.45 Q619.00 1141.30 622.15 1141.30 Z" fill="#000" fill-opacity="0.35" stroke="#000" stroke-opacity="0.30" stroke-width="3" filter="url(#bh)"/>
<path d="M622.15 1141.30 Q642.55 1142.80 662.95 1141.30 Q666.10 1141.30 666.10 1144.45 L666.10 1145.15 Q666.10 1148.30 662.95 1148.30 Q642.55 1146.80 622.15 1148.30 Q619.00 1148.30 619.00 1145.15 L619.00 1144.45 Q619.00 1141.30 622.15 1141.30 Z" fill="#000" fill-opacity="1.0" filter="url(#b1)"/>
<path d="M149.85 1178.20 Q170.85 1178.70 191.85 1178.20 Q194.10 1178.20 194.10 1180.45 L194.10 1180.95 Q194.10 1183.20 191.85 1183.20 Q170.85 1182.70 149.85 1183.20 Q147.60 1183.20 147.60 1180.95 L147.60 1180.45 Q147.60 1178.20 149.85 1178.20 Z" fill="#222" fill-opacity="0.35" stroke="#222" stroke-opacity="0.30" stroke-width="3" filter="url(#bh)"/>
<path d="M149.85 1178.20 Q170.85 1178.70 191.85 1178.20 Q194.10 1178.20 194.10 1180.45 L194.10 1180.95 Q194.10 1183.20 191.85 1183.20 Q170.85 1182.70 149.85 1183.20 Q147.60 1183.20 147.60 1180.95 L147.60 1180.45 Q147.60 1178.20 149.85 1178.20 Z" fill="#222" fill-opacity="1.0" filter="url(#b2)"/>
<path d="M215.55 1176.00 Q237.60 1177.00 259.65 1176.00 Q262.80 1176.00 262.80 1179.15 L262.80 1179.85 Q262.80 1183.00 259.65 1183.00 Q237.60 1182.00 215.55 1183.00 Q212.40 1183.00 212.40 1179.85 L212.40 1179.15 Q212.40 1176.00 215.55 1176.00 Z" fill="#000" fill-opacity="0.35" stroke="#000" stroke-opacity="0.30" stroke-width="3" filter="url(#bh)"/>
<path d="M215.55 1176.00 Q237.60 1177.00 259.65 1176.00 Q262.80 1176.00 262.80 1179.15 L262.80 1179.85 Q262.80 1183.00 259.65 1183.00 Q237.60 1182.00 215.55 1183.00 Q212.40 1183.00 212.40 1179.85 L212.40 1179.15 Q212.40 1176.00 215.55 1176.00 Z" fill="#000" fill-opacity="1.0" filter="url(#b1)"/>
<path d="M286.00 1176.40 Q306.35 1177.40 326.70 1176.40 Q328.50 1176.40 328.50 1178.20 L328.50 1178.60 Q328.50 1180.40 326.70 1180.40 Q306.35 1179.40 286.00 1180.40 Q284.20 1180.40 284.20 1178.60 L284.20 1178.20 Q284.20 1176.40 286.00 1176.40 Z" fill="#999" fill-opacity="0.35" stroke="#999" stroke-opacity="0.30" stroke-width="3" filter="url(#bh)"/>
<path d="M286.00 1176.40 Q306.35 1177.40 326.70 1176.40 Q328.50 1176.40 328.50 1178.20 L328.50 1178.60 Q328.50 1180.40 326.70 1180.40 Q306.35 1179.40 286.00 1180.40 Q284.20 1180.40 284.20 1178.60 L284.20 1178.20 Q284.20 1176.40 286.00 1176.40 Z" fill="#999" fill-opacity="1.0" filter="url(#b2)"/>
<path d="M351.80 1174.40 Q374.30 1175.40 396.80 1174.40 Q399.50 1174.40 399.50 1177.10 L399.50 1177.70 Q399.50 1180.40 396.80 1180.40 Q374.30 1179.40 351.80 1180.40 Q349.10 1180.40 349.10 1177.70 L349.10 1177.10 Q349.10 1174.40 351.80 1174.40 Z" fill="#222" fill-opacity="0.35" stroke="#222" stroke-opacity="0.30" stroke-width="3" filter="url(#bh)"/>
<path d="M351.80 1174.40 Q374.30 1175.40 396.80 1174.40 Q399.50 1174.40 399.50 1177.10 L399.50 1177.70 Q399.50 1180.40 396.80 1180.40 Q374.30 1179.40 351.80 1180.40 Q349.10 1180.40 349.10 1177.70 L349.10 1177.10 Q349.10 1174.40 351.80 1174.40 Z" fill="#222" fill-opacity="1.0" filter="url(#b1)"/>
<path d="M421.95 1173.80 Q442.55 1174.30 463.15 1173.80 Q464.50 1173.80 464.50 1175.15 L464.50 1175.45 Q464.50 1176.80 463.15 1176.80 Q442.55 1176.30 421.95 1176.80 Q420.60 1176.80 420.60 1175.45 L420.60 1175.15 Q420.60 1173.80 421.95 1173.80 Z" fill="#aaa" fill-opacity="0.35" stroke="#aaa" stroke-opacity="0.30" stroke-width="3" filter="url(#bh)"/>
<path d="M421.95 1173.80 Q442.55 1174.30 463.15 1173.80 Q464.50 1173.80 464.50 1175.15 L464.50 1175.45 Q464.50 1176.80 463.15 1176.80 Q442.55 1176.30 421.95 1176.80 Q420.60 1176.80 420.60 1175.45 L420.60 1175.15 Q420.60 1173.80 421.95 1173.80 Z" fill="#aaa" fill-opacity="1.0" filter="url(#b2)"/>
<path d="M487.88 1172.05 Q510.30 1173.05 532.73 1172.05 Q535.20 1172.05 535.20 1174.52 L535.20 1175.08 Q535.20 1177.55 532.73 1177.55 Q510.30 1176.55 487.88 1177.55 Q485.40 1177.55 485.40 1175.08 L485.40 1174.52 Q485.40 1172.05 487.88 1172.05 Z" fill="#111" fill-opacity="0.35" stroke="#111" stroke-opacity="0.30" stroke-width="3" filter="url(#bh)"/>
<path d="M487.88 1172.05 Q510.30 1173.05 532.73 1172.05 Q535.20 1172.05 535.20 1174.52 L535.20 1175.08 Q535.20 1177.55 532.73 1177.55 Q510.30 1176.55 487.88 1177.55 Q485.40 1177.55 485.40 1175.08 L485.40 1174.52 Q485.40 1172.05 487.88 1172.05 Z" fill="#111" fill-opacity="1.0" filter="url(#b2)"/>
<path d="M557.85 1174.40 Q578.50 1174.90 599.15 1174.40 Q600.50 1174.40 600.50 1175.75 L600.50 1176.05 Q600.50 1177.40 599.15 1177.40 Q578.50 1176.90 557.85 1177.40 Q556.50 1177.40 556.50 1176.05 L556.50 1175.75 Q556.50 1174.40 557.85 1174.40 Z" fill="#e0e0e0" fill-opacity="0.35" stroke="#e0e0e0" stroke-opacity="0.30" stroke-width="3" filter="url(#bh)"/>
<path d="M557.85 1174.40 Q578.50 1174.90 599.15 1174.40 Q600.50 1174.40 600.50 1175.75 L600.50 1176.05 Q600.50 1177.40 599.15 1177.40 Q578.50 1176.90 557.85 1177.40 Q556.50 1177.40 556.50 1176.05 L556.50 1175.75 Q556.50 1174.40 557.85 1174.40 Z" fill="#e0e0e0" fill-opacity="1.0" filter="url(#b2)"/>
<path d="M624.45 1174.40 Q645.10 1175.40 665.75 1174.40 Q668.00 1174.40 668.00 1176.65 L668.00 1177.15 Q668.00 1179.40 665.75 1179.40 Q645.10 1178.40 624.45 1179.40 Q622.20 1179.40 622.20 1177.15 L622.20 1176.65 Q622.20 1174.40 624.45 1174.40 Z" fill="#333" fill-opacity="0.35" stroke="#333" stroke-opacity="0.30" stroke-width="3" filter="url(#bh)"/>
<path d="M624.45 1174.40 Q645.10 1175.40 665.75 1174.40 Q668.00 1174.40 668.00 1176.65 L668.00 1177.15 Q668.00 1179.40 665.75 1179.40 Q645.10 1178.40 624.45 1179.40 Q622.20 1179.40 622.20 1177.15 L622.20 1176.65 Q622.20 1174.40 624.45 1174.40 Z" fill="#333" fill-opacity="1.0" filter="url(#b2)"/>
<path d="M149.45 1208.80 Q170.05 1211.80 190.65 1208.80 Q195.60 1208.80 195.60 1213.75 L195.60 1214.85 Q195.60 1219.80 190.65 1219.80 Q170.05 1216.80 149.45 1219.80 Q144.50 1219.80 144.50 1214.85 L144.50 1213.75 Q144.50 1208.80 149.45 1208.80 Z" fill="#000" fill-opacity="0.35" stroke="#000" stroke-opacity="0.30" stroke-width="3" filter="url(#bh)"/>
<path d="M149.45 1208.80 Q170.05 1211.80 190.65 1208.80 Q195.60 1208.80 195.60 1213.75 L195.60 1214.85 Q195.60 1219.80 190.65 1219.80 Q170.05 1216.80 149.45 1219.80 Q144.50 1219.80 144.50 1214.85 L144.50 1213.75 Q144.50 1208.80 149.45 1208.80 Z" fill="#000" fill-opacity="1.0" filter="url(#b1)"/>
<path d="M219.95 1207.60 Q238.80 1209.60 257.65 1207.60 Q264.40 1207.60 264.40 1214.35 L264.40 1215.85 Q264.40 1222.60 257.65 1222.60 Q238.80 1220.60 219.95 1222.60 Q213.20 1222.60 213.20 1215.85 L213.20 1214.35 Q213.20 1207.60 219.95 1207.60 Z" fill="#000" fill-opacity="0.35" stroke="#000" stroke-opacity="0.30" stroke-width="3" filter="url(#bh)"/>
<path d="M219.95 1207.60 Q238.80 1209.60 257.65 1207.60 Q264.40 1207.60 264.40 1214.35 L264.40 1215.85 Q264.40 1222.60 257.65 1222.60 Q238.80 1220.60 219.95 1222.60 Q213.20 1222.60 213.20 1215.85 L213.20 1214.35 Q213.20 1207.60 219.95 1207.60 Z" fill="#000" fill-opacity="1.0" filter="url(#b1)"/>
<path d="M289.50 1208.50 Q307.90 1216.50 326.30 1208.50 Q330.80 1208.50 330.80 1213.00 L330.80 1214.00 Q330.80 1218.50 326.30 1218.50 Q307.90 1210.50 289.50 1218.50 Q285.00 1218.50 285.00 1214.00 L285.00 1213.00 Q285.00 1208.50 289.50 1208.50 Z" fill="#000" fill-opacity="0.35" stroke="#000" stroke-opacity="0.30" stroke-width="3" filter="url(#bh)"/>
<path d="M289.50 1208.50 Q307.90 1216.50 326.30 1208.50 Q330.80 1208.50 330.80 1213.00 L330.80 1214.00 Q330.80 1218.50 326.30 1218.50 Q307.90 1210.50 289.50 1218.50 Q285.00 1218.50 285.00 1214.00 L285.00 1213.00 Q285.00 1208.50 289.50 1208.50 Z" fill="#000" fill-opacity="1.0" filter="url(#b1)"/>
<path d="M357.25 1206.70 Q375.95 1208.70 394.65 1206.70 Q400.50 1206.70 400.50 1212.55 L400.50 1213.85 Q400.50 1219.70 394.65 1219.70 Q375.95 1217.70 357.25 1219.70 Q351.40 1219.70 351.40 1213.85 L351.40 1212.55 Q351.40 1206.70 357.25 1206.70 Z" fill="#000" fill-opacity="0.35" stroke="#000" stroke-opacity="0.30" stroke-width="3" filter="url(#bh)"/>
<path d="M357.25 1206.70 Q375.95 1208.70 394.65 1206.70 Q400.50 1206.70 400.50 1212.55 L400.50 1213.85 Q400.50 1219.70 394.65 1219.70 Q375.95 1217.70 357.25 1219.70 Q351.40 1219.70 351.40 1213.85 L351.40 1212.55 Q351.40 1206.70 357.25 1206.70 Z" fill="#000" fill-opacity="1.0" filter="url(#b1)"/>
<path d="M425.03 1210.35 Q443.45 1213.85 461.88 1210.35 Q464.80 1210.35 464.80 1213.27 L464.80 1213.92 Q464.80 1216.85 461.88 1216.85 Q443.45 1213.35 425.03 1216.85 Q422.10 1216.85 422.10 1213.92 L422.10 1213.27 Q422.10 1210.35 425.03 1210.35 Z" fill="#111" fill-opacity="0.35" stroke="#111" stroke-opacity="0.30" stroke-width="3" filter="url(#bh)"/>
<path d="M425.03 1210.35 Q443.45 1213.85 461.88 1210.35 Q464.80 1210.35 464.80 1213.27 L464.80 1213.92 Q464.80 1216.85 461.88 1216.85 Q443.45 1213.35 425.03 1216.85 Q422.10 1216.85 422.10 1213.92 L422.10 1213.27 Q422.10 1210.35 425.03 1210.35 Z" fill="#111" fill-opacity="1.0" filter="url(#b1)"/>
<path d="M491.60 1208.00 Q510.70 1210.00 529.80 1208.00 Q535.20 1208.00 535.20 1213.40 L535.20 1214.60 Q535.20 1220.00 529.80 1220.00 Q510.70 1218.00 491.60 1220.00 Q486.20 1220.00 486.20 1214.60 L486.20 1213.40 Q486.20 1208.00 491.60 1208.00 Z" fill="#000" fill-opacity="0.35" stroke="#000" stroke-opacity="0.30" stroke-width="3" filter="url(#bh)"/>
<path d="M491.60 1208.00 Q510.70 1210.00 529.80 1208.00 Q535.20 1208.00 535.20 1213.40 L535.20 1214.60 Q535.20 1220.00 529.80 1220.00 Q510.70 1218.00 491.60 1220.00 Q486.20 1220.00 486.20 1214.60 L486.20 1213.40 Q486.20 1208.00 491.60 1208.00 Z" fill="#000" fill-opacity="1.0" filter="url(#b1)"/>
<path d="M558.05 1212.30 Q577.50 1214.30 596.95 1212.30 Q599.20 1212.30 599.20 1214.55 L599.20 1215.05 Q599.20 1217.30 596.95 1217.30 Q577.50 1215.30 558.05 1217.30 Q555.80 1217.30 555.80 1215.05 L555.80 1214.55 Q555.80 1212.30 558.05 1212.30 Z" fill="#555" fill-opacity="0.35" stroke="#555" stroke-opacity="0.30" stroke-width="3" filter="url(#bh)"/>
<path d="M558.05 1212.30 Q577.50 1214.30 596.95 1212.30 Q599.20 1212.30 599.20 1214.55 L599.20 1215.05 Q599.20 1217.30 596.95 1217.30 Q577.50 1215.30 558.05 1217.30 Q555.80 1217.30 555.80 1215.05 L555.80 1214.55 Q555.80 1212.30 558.05 1212.30 Z" fill="#555" fill-opacity="1.0" filter="url(#b2)"/>
<path d="M628.75 1208.50 Q646.30 1210.50 663.85 1208.50 Q668.80 1208.50 668.80 1213.45 L668.80 1214.55 Q668.80 1219.50 663.85 1219.50 Q646.30 1217.50 628.75 1219.50 Q623.80 1219.50 623.80 1214.55 L623.80 1213.45 Q623.80 1208.50 628.75 1208.50 Z" fill="#000" fill-opacity="0.35" stroke="#000" stroke-opacity="0.30" stroke-width="3" filter="url(#bh)"/>
<path d="M628.75 1208.50 Q646.30 1210.50 663.85 1208.50 Q668.80 1208.50 668.80 1213.45 L668.80 1214.55 Q668.80 1219.50 663.85 1219.50 Q646.30 1217.50 628.75 1219.50 Q623.80 1219.50 623.80 1214.55 L623.80 1213.45 Q623.80 1208.50 628.75 1208.50 Z" fill="#000" fill-opacity="1.0" filter="url(#b1)"/>
<path d="M152.60 1249.50 Q172.75 1252.50 192.90 1249.50 Q201.00 1249.50 201.00 1257.60 L201.00 1259.40 Q201.00 1267.50 192.90 1267.50 Q172.75 1264.50 152.60 1267.50 Q144.50 1267.50 144.50 1259.40 L144.50 1257.60 Q144.50 1249.50 152.60 1249.50 Z" fill="#000" fill-opacity="0.35" stroke="#000" stroke-opacity="0.30" stroke-width="3" filter="url(#bh)"/>
<path d="M152.60 1249.50 Q172.75 1252.50 192.90 1249.50 Q201.00 1249.50 201.00 1257.60 L201.00 1259.40 Q201.00 1267.50 192.90 1267.50 Q172.75 1264.50 152.60 1267.50 Q144.50 1267.50 144.50 1259.40 L144.50 1257.60 Q144.50 1249.50 152.60 1249.50 Z" fill="#000" fill-opacity="1.0" filter="url(#b1)"/>
<path d="M221.30 1249.50 Q240.70 1252.50 260.10 1249.50 Q268.20 1249.50 268.20 1257.60 L268.20 1259.40 Q268.20 1267.50 260.10 1267.50 Q240.70 1264.50 221.30 1267.50 Q213.20 1267.50 213.20 1259.40 L213.20 1257.60 Q213.20 1249.50 221.30 1249.50 Z" fill="#000" fill-opacity="0.35" stroke="#000" stroke-opacity="0.30" stroke-width="3" filter="url(#bh)"/>
<path d="M221.30 1249.50 Q240.70 1252.50 260.10 1249.50 Q268.20 1249.50 268.20 1257.60 L268.20 1259.40 Q268.20 1267.50 260.10 1267.50 Q240.70 1264.50 221.30 1267.50 Q213.20 1267.50 213.20 1259.40 L213.20 1257.60 Q213.20 1249.50 221.30 1249.50 Z" fill="#000" fill-opacity="1.0" filter="url(#b1)"/>
<path d="M286.05 1250.00 Q305.70 1253.00 325.35 1250.00 Q333.00 1250.00 333.00 1257.65 L333.00 1259.35 Q333.00 1267.00 325.35 1267.00 Q305.70 1264.00 286.05 1267.00 Q278.40 1267.00 278.40 1259.35 L278.40 1257.65 Q278.40 1250.00 286.05 1250.00 Z" fill="#000" fill-opacity="0.35" stroke="#000" stroke-opacity="0.30" stroke-width="3" filter="url(#bh)"/>
<path d="M286.05 1250.00 Q305.70 1253.00 325.35 1250.00 Q333.00 1250.00 333.00 1257.65 L333.00 1259.35 Q333.00 1267.00 325.35 1267.00 Q305.70 1264.00 286.05 1267.00 Q278.40 1267.00 278.40 1259.35 L278.40 1257.65 Q278.40 1250.00 286.05 1250.00 Z" fill="#000" fill-opacity="1.0" filter="url(#b1)"/>
<path d="M350.65 1250.00 Q371.25 1253.00 391.85 1250.00 Q399.50 1250.00 399.50 1257.65 L399.50 1259.35 Q399.50 1267.00 391.85 1267.00 Q371.25 1264.00 350.65 1267.00 Q343.00 1267.00 343.00 1259.35 L343.00 1257.65 Q343.00 1250.00 350.65 1250.00 Z" fill="#000" fill-opacity="0.35" stroke="#000" stroke-opacity="0.30" stroke-width="3" filter="url(#bh)"/>
<path d="M350.65 1250.00 Q371.25 1253.00 391.85 1250.00 Q399.50 1250.00 399.50 1257.65 L399.50 1259.35 Q399.50 1267.00 391.85 1267.00 Q371.25 1264.00 350.65 1267.00 Q343.00 1267.00 343.00 1259.35 L343.00 1257.65 Q343.00 1250.00 350.65 1250.00 Z" fill="#000" fill-opacity="1.0" filter="url(#b1)"/>
<path d="M417.05 1250.00 Q438.35 1252.50 459.65 1250.00 Q466.40 1250.00 466.40 1256.75 L466.40 1258.25 Q466.40 1265.00 459.65 1265.00 Q438.35 1262.50 417.05 1265.00 Q410.30 1265.00 410.30 1258.25 L410.30 1256.75 Q410.30 1250.00 417.05 1250.00 Z" fill="#000" fill-opacity="0.35" stroke="#000" stroke-opacity="0.30" stroke-width="3" filter="url(#bh)"/>
<path d="M417.05 1250.00 Q438.35 1252.50 459.65 1250.00 Q466.40 1250.00 466.40 1256.75 L466.40 1258.25 Q466.40 1265.00 459.65 1265.00 Q438.35 1262.50 417.05 1265.00 Q410.30 1265.00 410.30 1258.25 L410.30 1256.75 Q410.30 1250.00 417.05 1250.00 Z" fill="#000" fill-opacity="1.0" filter="url(#b1)"/>
<path d="M483.75 1250.00 Q504.50 1252.50 525.25 1250.00 Q532.00 1250.00 532.00 1256.75 L532.00 1258.25 Q532.00 1265.00 525.25 1265.00 Q504.50 1262.50 483.75 1265.00 Q477.00 1265.00 477.00 1258.25 L477.00 1256.75 Q477.00 1250.00 483.75 1250.00 Z" fill="#000" fill-opacity="0.35" stroke="#000" stroke-opacity="0.30" stroke-width="3" filter="url(#bh)"/>
<path d="M483.75 1250.00 Q504.50 1252.50 525.25 1250.00 Q532.00 1250.00 532.00 1256.75 L532.00 1258.25 Q532.00 1265.00 525.25 1265.00 Q504.50 1262.50 483.75 1265.00 Q477.00 1265.00 477.00 1258.25 L477.00 1256.75 Q477.00 1250.00 483.75 1250.00 Z" fill="#000" fill-opacity="1.0" filter="url(#b1)"/>
<path d="M550.30 1249.50 Q571.95 1252.50 593.60 1249.50 Q600.80 1249.50 600.80 1256.70 L600.80 1258.30 Q600.80 1265.50 593.60 1265.50 Q571.95 1262.50 550.30 1265.50 Q543.10 1265.50 543.10 1258.30 L543.10 1256.70 Q543.10 1249.50 550.30 1249.50 Z" fill="#000" fill-opacity="0.35" stroke="#000" stroke-opacity="0.30" stroke-width="3" filter="url(#bh)"/>
<path d="M550.30 1249.50 Q571.95 1252.50 593.60 1249.50 Q600.80 1249.50 600.80 1256.70 L600.80 1258.30 Q600.80 1265.50 593.60 1265.50 Q571.95 1262.50 550.30 1265.50 Q543.10 1265.50 543.10 1258.30 L543.10 1256.70 Q543.10 1249.50 550.30 1249.50 Z" fill="#000" fill-opacity="1.0" filter="url(#b1)"/>
<path d="M617.50 1249.50 Q637.95 1252.50 658.40 1249.50 Q665.60 1249.50 665.60 1256.70 L665.60 1258.30 Q665.60 1265.50 658.40 1265.50 Q637.95 1262.50 617.50 1265.50 Q610.30 1265.50 610.30 1258.30 L610.30 1256.70 Q610.30 1249.50 617.50 1249.50 Z" fill="#000" fill-opacity="0.35" stroke="#000" stroke-opacity="0.30" stroke-width="3" filter="url(#bh)"/>
<path d="M617.50 1249.50 Q637.95 1252.50 658.40 1249.50 Q665.60 1249.50 665.60 1256.70 L665.60 1258.30 Q665.60 1265.50 658.40 1265.50 Q637.95 1262.50 617.50 1265.50 Q610.30 1265.50 610.30 1258.30 L610.30 1256.70 Q610.30 1249.50 617.50 1249.50 Z" fill="#000" fill-opacity="1.0" filter="url(#b1)"/>
<text x="247.70" y="1087.90" font-size="15.5" fill="#000" textLength="46.10" lengthAdjust="spacingAndGlyphs">DMSO</text>
<line x1="170.50" y1="1096.10" x2="372.50" y2="1096.10" stroke="#000" stroke-width="1.9" stroke-linecap="butt"/>
<text x="523.80" y="1089.70" font-size="15.5" fill="#000" textLength="39.00" lengthAdjust="spacingAndGlyphs">RSL3</text>
<line x1="442.30" y1="1097.10" x2="644.60" y2="1097.10" stroke="#000" stroke-width="1.9" stroke-linecap="butt"/>
<text x="146.70" y="1119.80" font-size="15" fill="#000" textLength="46.80" lengthAdjust="spacingAndGlyphs">control</text>
<text x="224.70" y="1119.80" font-size="15" fill="#000" textLength="26.60" lengthAdjust="spacingAndGlyphs">sKL</text>
<text x="297.00" y="1119.80" font-size="15" fill="#000" textLength="13.50" lengthAdjust="spacingAndGlyphs">Pi</text>
<text x="351.20" y="1119.80" font-size="15" fill="#000" textLength="49.60" lengthAdjust="spacingAndGlyphs">Pi+sKL</text>
<text x="417.80" y="1119.80" font-size="15" fill="#000" textLength="47.50" lengthAdjust="spacingAndGlyphs">control</text>
<text x="494.00" y="1119.80" font-size="15" fill="#000" textLength="27.30" lengthAdjust="spacingAndGlyphs">sKL</text>
<text x="567.40" y="1119.80" font-size="15" fill="#000" textLength="13.40" lengthAdjust="spacingAndGlyphs">Pi</text>
<text x="621.20" y="1119.80" font-size="15" fill="#000" textLength="50.70" lengthAdjust="spacingAndGlyphs">Pi+sKL</text>
<text x="78.30" y="1151.60" font-size="17" fill="#000" textLength="46.80" lengthAdjust="spacingAndGlyphs">COX2</text>
<text x="78.30" y="1187.70" font-size="17" fill="#000" textLength="45.10" lengthAdjust="spacingAndGlyphs">GPX4</text>
<text x="83.00" y="1222.40" font-size="17" fill="#000" textLength="36.80" lengthAdjust="spacingAndGlyphs">GSR</text>
<text x="63.50" y="1262.50" font-size="17" fill="#000" textLength="60.20" lengthAdjust="spacingAndGlyphs">GAPDH</text>
<clipPath id="ci1"><rect x="479.1" y="486.8" width="207.70" height="156.70"/></clipPath>
<rect x="479.10" y="486.80" width="207.70" height="156.70" fill="#000"/>
<g clip-path="url(#ci1)" filter="url(#cb)">
<path d="M472.90 511.19 Q490.00 505.58 507.09 511.19 Q490.00 516.80 472.90 511.19Z" fill="rgb(195,0,0)" transform="rotate(80 490.00 511.19)"/>
<ellipse cx="496.59" cy="491.40" rx="3.99" ry="2.29" fill="rgb(207,0,0)" transform="rotate(-60 496.59 491.40)"/>
<path d="M510.12 497.39 Q516.39 490.26 522.65 497.39 Q516.39 504.53 510.12 497.39Z" fill="rgb(218,0,0)" transform="rotate(-20 516.39 497.39)"/>
<ellipse cx="546.98" cy="492.00" rx="6.84" ry="3.57" fill="rgb(230,0,0)" transform="rotate(-40 546.98 492.00)"/>
<ellipse cx="515.79" cy="531.58" rx="14.82" ry="5.61" fill="rgb(126,0,0)" transform="rotate(10 515.79 531.58)"/>
<ellipse cx="515.79" cy="531.58" rx="4.00" ry="3.00" fill="rgb(76,0,0)" transform="rotate(10 515.79 531.58)"/>
<ellipse cx="545.78" cy="535.78" rx="3.70" ry="2.29" fill="rgb(230,0,0)" transform="rotate(0 545.78 535.78)"/>
<ellipse cx="530.18" cy="543.58" rx="3.42" ry="3.57" fill="rgb(230,0,0)" transform="rotate(0 530.18 543.58)"/>
<ellipse cx="501.39" cy="554.38" rx="21.65" ry="8.67" fill="rgb(115,0,0)" transform="rotate(-15 501.39 554.38)"/>
<ellipse cx="501.39" cy="554.38" rx="4.00" ry="3.00" fill="rgb(69,0,0)" transform="rotate(-15 501.39 554.38)"/>
<path d="M549.80 545.38 Q557.77 539.26 565.75 545.38 Q557.77 551.50 549.80 545.38Z" fill="rgb(195,0,0)" transform="rotate(70 557.77 545.38)"/>
<path d="M570.19 530.98 Q578.17 523.85 586.14 530.98 Q578.17 538.12 570.19 530.98Z" fill="rgb(218,0,0)" transform="rotate(-60 578.17 530.98)"/>
<path d="M586.62 519.59 Q599.16 510.41 611.70 519.59 Q599.16 528.76 586.62 519.59Z" fill="rgb(184,0,0)" transform="rotate(85 599.16 519.59)"/>
<ellipse cx="599.16" cy="519.59" rx="4.00" ry="2.57" fill="rgb(110,0,0)" transform="rotate(85 599.16 519.59)"/>
<path d="M606.69 521.99 Q612.96 517.91 619.22 521.99 Q612.96 526.07 606.69 521.99Z" fill="rgb(207,0,0)" transform="rotate(35 612.96 521.99)"/>
<path d="M615.42 512.39 Q639.35 501.17 663.28 512.39 Q639.35 523.61 615.42 512.39Z" fill="rgb(195,0,0)" transform="rotate(72 639.35 512.39)"/>
<ellipse cx="639.35" cy="512.39" rx="4.00" ry="3.00" fill="rgb(117,0,0)" transform="rotate(72 639.35 512.39)"/>
<ellipse cx="650.14" cy="512.39" rx="3.42" ry="3.06" fill="rgb(230,0,0)" transform="rotate(0 650.14 512.39)"/>
<ellipse cx="671.74" cy="494.40" rx="6.84" ry="6.12" fill="rgb(138,0,0)" transform="rotate(0 671.74 494.40)"/>
<path d="M610.29 492.00 Q616.55 486.90 622.82 492.00 Q616.55 497.09 610.29 492.00Z" fill="rgb(172,0,0)" transform="rotate(-30 616.55 492.00)"/>
<path d="M607.41 544.78 Q615.95 540.19 624.50 544.78 Q615.95 549.37 607.41 544.78Z" fill="rgb(184,0,0)" transform="rotate(75 615.95 544.78)"/>
<path d="M571.33 550.78 Q578.17 545.17 585.00 550.78 Q578.17 556.39 571.33 550.78Z" fill="rgb(195,0,0)" transform="rotate(80 578.17 550.78)"/>
<ellipse cx="558.97" cy="561.57" rx="4.56" ry="3.57" fill="rgb(207,0,0)" transform="rotate(0 558.97 561.57)"/>
<ellipse cx="659.74" cy="557.98" rx="17.09" ry="5.61" fill="rgb(126,0,0)" transform="rotate(25 659.74 557.98)"/>
<ellipse cx="659.74" cy="557.98" rx="4.00" ry="3.00" fill="rgb(76,0,0)" transform="rotate(25 659.74 557.98)"/>
<path d="M635.60 566.37 Q644.15 561.27 652.69 566.37 Q644.15 571.47 635.60 566.37Z" fill="rgb(207,0,0)" transform="rotate(-20 644.15 566.37)"/>
<path d="M587.22 579.57 Q599.76 574.98 612.30 579.57 Q599.76 584.16 587.22 579.57Z" fill="rgb(184,0,0)" transform="rotate(85 599.76 579.57)"/>
<path d="M601.50 563.97 Q611.76 558.87 622.01 563.97 Q611.76 569.07 601.50 563.97Z" fill="rgb(184,0,0)" transform="rotate(80 611.76 563.97)"/>
<ellipse cx="525.38" cy="587.97" rx="11.40" ry="8.16" fill="rgb(103,0,0)" transform="rotate(70 525.38 587.97)"/>
<ellipse cx="525.38" cy="587.97" rx="3.65" ry="3.00" fill="rgb(62,0,0)" transform="rotate(70 525.38 587.97)"/>
<ellipse cx="492.99" cy="593.96" rx="5.13" ry="5.61" fill="rgb(230,0,0)" transform="rotate(60 492.99 593.96)"/>
<path d="M564.97 590.36 Q576.37 581.19 587.76 590.36 Q576.37 599.54 564.97 590.36Z" fill="rgb(195,0,0)" transform="rotate(65 576.37 590.36)"/>
<ellipse cx="576.37" cy="590.36" rx="3.65" ry="2.57" fill="rgb(117,0,0)" transform="rotate(65 576.37 590.36)"/>
<ellipse cx="594.96" cy="597.56" rx="12.54" ry="5.61" fill="rgb(138,0,0)" transform="rotate(70 594.96 597.56)"/>
<ellipse cx="594.96" cy="597.56" rx="4.00" ry="3.00" fill="rgb(83,0,0)" transform="rotate(70 594.96 597.56)"/>
<ellipse cx="622.55" cy="601.16" rx="8.55" ry="7.14" fill="rgb(184,0,0)" transform="rotate(60 622.55 601.16)"/>
<ellipse cx="622.55" cy="601.16" rx="2.74" ry="3.00" fill="rgb(110,0,0)" transform="rotate(60 622.55 601.16)"/>
<path d="M646.46 597.56 Q656.14 592.46 665.83 597.56 Q656.14 602.66 646.46 597.56Z" fill="rgb(218,0,0)" transform="rotate(-5 656.14 597.56)"/>
<ellipse cx="676.54" cy="584.37" rx="9.12" ry="3.57" fill="rgb(218,0,0)" transform="rotate(-20 676.54 584.37)"/>
<path d="M515.52 605.96 Q521.79 600.86 528.05 605.96 Q521.79 611.06 515.52 605.96Z" fill="rgb(230,0,0)" transform="rotate(-30 521.79 605.96)"/>
<path d="M545.57 605.96 Q552.98 601.37 560.38 605.96 Q552.98 610.55 545.57 605.96Z" fill="rgb(218,0,0)" transform="rotate(-10 552.98 605.96)"/>
<ellipse cx="522.98" cy="622.75" rx="5.13" ry="3.06" fill="rgb(230,0,0)" transform="rotate(0 522.98 622.75)"/>
<ellipse cx="680.73" cy="610.76" rx="2.85" ry="2.55" fill="rgb(161,0,0)" transform="rotate(0 680.73 610.76)"/>
<path d="M584.55 626.35 Q591.96 622.27 599.37 626.35 Q591.96 630.43 584.55 626.35Z" fill="rgb(138,0,0)" transform="rotate(80 591.96 626.35)"/>
<ellipse cx="646.55" cy="638.35" rx="2.85" ry="2.55" fill="rgb(161,0,0)" transform="rotate(0 646.55 638.35)"/>
<ellipse cx="606.24" cy="602.96" rx="12.02" ry="4.44" fill="rgb(110,0,0)" transform="rotate(43 606.24 602.96)"/>
<ellipse cx="606.24" cy="602.96" rx="3.85" ry="2.48" fill="rgb(66,0,0)" transform="rotate(43 606.24 602.96)"/>
<ellipse cx="487.96" cy="561.21" rx="13.22" ry="3.67" fill="rgb(73,0,0)" transform="rotate(72 487.96 561.21)"/>
<ellipse cx="575.65" cy="528.10" rx="10.03" ry="3.52" fill="rgb(78,0,0)" transform="rotate(-88 575.65 528.10)"/>
<ellipse cx="537.86" cy="629.35" rx="11.80" ry="2.45" fill="rgb(76,0,0)" transform="rotate(53 537.86 629.35)"/>
<ellipse cx="605.16" cy="509.99" rx="5.70" ry="4.28" fill="rgb(78,0,0)" transform="rotate(-52 605.16 509.99)"/>
<ellipse cx="677.86" cy="622.63" rx="8.03" ry="4.49" fill="rgb(101,0,0)" transform="rotate(7 677.86 622.63)"/>
<ellipse cx="677.86" cy="622.63" rx="2.57" ry="2.51" fill="rgb(61,0,0)" transform="rotate(7 677.86 622.63)"/>
<ellipse cx="522.98" cy="633.07" rx="11.23" ry="4.49" fill="rgb(83,0,0)" transform="rotate(71 522.98 633.07)"/>
<ellipse cx="522.98" cy="633.07" rx="3.59" ry="2.51" fill="rgb(50,0,0)" transform="rotate(71 522.98 633.07)"/>
<ellipse cx="554.17" cy="515.87" rx="6.84" ry="2.19" fill="rgb(96,0,0)" transform="rotate(-36 554.17 515.87)"/>
<ellipse cx="482.92" cy="593.24" rx="8.38" ry="2.80" fill="rgb(92,0,0)" transform="rotate(57 482.92 593.24)"/>
<ellipse cx="545.06" cy="563.49" rx="11.34" ry="2.19" fill="rgb(69,0,0)" transform="rotate(86 545.06 563.49)"/>
<ellipse cx="631.55" cy="618.56" rx="5.87" ry="4.03" fill="rgb(96,0,0)" transform="rotate(-24 631.55 618.56)"/>
<ellipse cx="484.00" cy="497.87" rx="7.12" ry="4.49" fill="rgb(103,0,0)" transform="rotate(-55 484.00 497.87)"/>
<ellipse cx="667.30" cy="633.19" rx="8.43" ry="2.96" fill="rgb(106,0,0)" transform="rotate(4 667.30 633.19)"/>
<ellipse cx="503.67" cy="603.92" rx="12.08" ry="4.23" fill="rgb(112,0,0)" transform="rotate(-83 503.67 603.92)"/>
<ellipse cx="503.67" cy="603.92" rx="3.87" ry="2.37" fill="rgb(67,0,0)" transform="rotate(-83 503.67 603.92)"/>
<ellipse cx="500.31" cy="542.26" rx="10.60" ry="4.38" fill="rgb(110,0,0)" transform="rotate(-29 500.31 542.26)"/>
<ellipse cx="500.31" cy="542.26" rx="3.39" ry="2.46" fill="rgb(66,0,0)" transform="rotate(-29 500.31 542.26)"/>
<ellipse cx="590.76" cy="538.06" rx="8.21" ry="2.50" fill="rgb(76,0,0)" transform="rotate(-76 590.76 538.06)"/>
<ellipse cx="619.43" cy="641.47" rx="7.01" ry="2.14" fill="rgb(94,0,0)" transform="rotate(88 619.43 641.47)"/>
<ellipse cx="563.05" cy="526.67" rx="10.43" ry="4.13" fill="rgb(87,0,0)" transform="rotate(-8 563.05 526.67)"/>
<ellipse cx="563.05" cy="526.67" rx="3.34" ry="2.31" fill="rgb(52,0,0)" transform="rotate(-8 563.05 526.67)"/>
<ellipse cx="549.38" cy="638.35" rx="7.41" ry="3.57" fill="rgb(80,0,0)" transform="rotate(0 549.38 638.35)"/>
<ellipse cx="506.19" cy="639.55" rx="5.70" ry="2.55" fill="rgb(80,0,0)" transform="rotate(0 506.19 639.55)"/>
<path d="M622.40 623.95 Q630.95 620.39 639.50 623.95 Q630.95 627.52 622.40 623.95Z" fill="rgb(138,0,0)" transform="rotate(-20 630.95 623.95)"/>
<ellipse cx="492.99" cy="549.58" rx="6.84" ry="3.06" fill="rgb(103,0,0)" transform="rotate(-30 492.99 549.58)"/>
</g>
<clipPath id="ci2"><rect x="705.9" y="489" width="208.60" height="155.90"/></clipPath>
<rect x="705.90" y="489.00" width="208.60" height="155.90" fill="#000"/>
<g clip-path="url(#ci2)" filter="url(#cb)">
<path d="M759.38 499.19 Q770.78 492.06 782.17 499.19 Q770.78 506.33 759.38 499.19Z" fill="rgb(130,0,0)" transform="rotate(80 770.78 499.19)"/>
<path d="M770.18 511.19 Q781.57 505.07 792.97 511.19 Q781.57 517.31 770.18 511.19Z" fill="rgb(119,0,0)" transform="rotate(60 781.57 511.19)"/>
<ellipse cx="737.19" cy="531.58" rx="7.41" ry="7.65" fill="rgb(108,0,0)" transform="rotate(0 737.19 531.58)"/>
<ellipse cx="723.99" cy="536.38" rx="6.27" ry="3.06" fill="rgb(119,0,0)" transform="rotate(-30 723.99 536.38)"/>
<ellipse cx="712.00" cy="551.98" rx="6.27" ry="4.08" fill="rgb(130,0,0)" transform="rotate(0 712.00 551.98)"/>
<ellipse cx="726.39" cy="561.57" rx="5.13" ry="3.57" fill="rgb(141,0,0)" transform="rotate(20 726.39 561.57)"/>
<ellipse cx="752.78" cy="558.57" rx="2.28" ry="2.29" fill="rgb(217,0,0)" transform="rotate(0 752.78 558.57)"/>
<ellipse cx="759.98" cy="526.79" rx="6.84" ry="3.06" fill="rgb(98,0,0)" transform="rotate(80 759.98 526.79)"/>
<ellipse cx="764.78" cy="542.38" rx="5.70" ry="6.12" fill="rgb(87,0,0)" transform="rotate(60 764.78 542.38)"/>
<ellipse cx="747.98" cy="574.77" rx="6.27" ry="3.57" fill="rgb(130,0,0)" transform="rotate(20 747.98 574.77)"/>
<ellipse cx="765.98" cy="571.17" rx="5.13" ry="4.08" fill="rgb(130,0,0)" transform="rotate(0 765.98 571.17)"/>
<ellipse cx="730.59" cy="575.97" rx="2.85" ry="2.29" fill="rgb(141,0,0)" transform="rotate(0 730.59 575.97)"/>
<ellipse cx="804.37" cy="548.38" rx="4.56" ry="5.10" fill="rgb(141,0,0)" transform="rotate(0 804.37 548.38)"/>
<path d="M787.30 521.99 Q793.57 517.91 799.84 521.99 Q793.57 526.07 787.30 521.99Z" fill="rgb(130,0,0)" transform="rotate(-50 793.57 521.99)"/>
<ellipse cx="813.96" cy="527.98" rx="3.42" ry="4.08" fill="rgb(108,0,0)" transform="rotate(0 813.96 527.98)"/>
<path d="M815.58 531.58 Q823.56 528.01 831.54 531.58 Q823.56 535.15 815.58 531.58Z" fill="rgb(152,0,0)" transform="rotate(60 823.56 531.58)"/>
<path d="M809.70 513.59 Q819.96 507.47 830.22 513.59 Q819.96 519.71 809.70 513.59Z" fill="rgb(119,0,0)" transform="rotate(50 819.96 513.59)"/>
<path d="M829.02 511.19 Q841.55 503.03 854.09 511.19 Q841.55 519.35 829.02 511.19Z" fill="rgb(119,0,0)" transform="rotate(40 841.55 511.19)"/>
<ellipse cx="841.55" cy="511.19" rx="4.00" ry="2.28" fill="rgb(72,0,0)" transform="rotate(40 841.55 511.19)"/>
<path d="M852.14 507.59 Q859.55 502.49 866.96 507.59 Q859.55 512.69 852.14 507.59Z" fill="rgb(163,0,0)" transform="rotate(10 859.55 507.59)"/>
<ellipse cx="843.95" cy="530.38" rx="6.27" ry="3.06" fill="rgb(119,0,0)" transform="rotate(0 843.95 530.38)"/>
<ellipse cx="865.55" cy="530.38" rx="6.27" ry="4.08" fill="rgb(98,0,0)" transform="rotate(30 865.55 530.38)"/>
<path d="M844.43 547.18 Q853.55 541.06 862.67 547.18 Q853.55 553.30 844.43 547.18Z" fill="rgb(108,0,0)" transform="rotate(10 853.55 547.18)"/>
<ellipse cx="884.74" cy="515.99" rx="8.55" ry="4.59" fill="rgb(108,0,0)" transform="rotate(0 884.74 515.99)"/>
<ellipse cx="884.74" cy="515.99" rx="2.74" ry="2.57" fill="rgb(65,0,0)" transform="rotate(0 884.74 515.99)"/>
<ellipse cx="896.74" cy="495.60" rx="7.98" ry="5.61" fill="rgb(108,0,0)" transform="rotate(0 896.74 495.60)"/>
<ellipse cx="885.94" cy="547.18" rx="5.70" ry="6.12" fill="rgb(98,0,0)" transform="rotate(60 885.94 547.18)"/>
<path d="M827.88 561.57 Q841.55 554.44 855.23 561.57 Q841.55 568.71 827.88 561.57Z" fill="rgb(130,0,0)" transform="rotate(-20 841.55 561.57)"/>
<ellipse cx="786.37" cy="554.38" rx="6.84" ry="3.57" fill="rgb(119,0,0)" transform="rotate(-40 786.37 554.38)"/>
<ellipse cx="819.96" cy="556.78" rx="4.56" ry="2.55" fill="rgb(130,0,0)" transform="rotate(-20 819.96 556.78)"/>
<path d="M801.31 574.77 Q811.56 570.69 821.82 574.77 Q811.56 578.85 801.31 574.77Z" fill="rgb(119,0,0)" transform="rotate(-20 811.56 574.77)"/>
<path d="M783.19 575.97 Q791.17 572.91 799.15 575.97 Q791.17 579.03 783.19 575.97Z" fill="rgb(108,0,0)" transform="rotate(-60 791.17 575.97)"/>
<path d="M802.87 585.57 Q819.96 575.37 837.06 585.57 Q819.96 595.76 802.87 585.57Z" fill="rgb(152,0,0)" transform="rotate(-25 819.96 585.57)"/>
<ellipse cx="819.96" cy="585.57" rx="4.00" ry="2.86" fill="rgb(91,0,0)" transform="rotate(-25 819.96 585.57)"/>
<path d="M790.57 591.56 Q801.97 584.43 813.36 591.56 Q801.97 598.70 790.57 591.56Z" fill="rgb(130,0,0)" transform="rotate(-30 801.97 591.56)"/>
<ellipse cx="831.96" cy="575.97" rx="6.84" ry="4.59" fill="rgb(108,0,0)" transform="rotate(0 831.96 575.97)"/>
<ellipse cx="872.74" cy="585.57" rx="10.26" ry="7.65" fill="rgb(98,0,0)" transform="rotate(-60 872.74 585.57)"/>
<ellipse cx="872.74" cy="585.57" rx="3.28" ry="3.00" fill="rgb(59,0,0)" transform="rotate(-60 872.74 585.57)"/>
<ellipse cx="906.33" cy="579.57" rx="6.27" ry="4.08" fill="rgb(87,0,0)" transform="rotate(0 906.33 579.57)"/>
<path d="M720.60 597.56 Q735.99 589.40 751.37 597.56 Q735.99 605.72 720.60 597.56Z" fill="rgb(130,0,0)" transform="rotate(20 735.99 597.56)"/>
<ellipse cx="735.99" cy="597.56" rx="4.00" ry="2.28" fill="rgb(78,0,0)" transform="rotate(20 735.99 597.56)"/>
<ellipse cx="763.58" cy="599.96" rx="4.56" ry="3.57" fill="rgb(195,0,0)" transform="rotate(0 763.58 599.96)"/>
<ellipse cx="756.38" cy="593.96" rx="4.56" ry="4.08" fill="rgb(108,0,0)" transform="rotate(0 756.38 593.96)"/>
<path d="M719.79 603.56 Q731.19 598.46 742.59 603.56 Q731.19 608.66 719.79 603.56Z" fill="rgb(119,0,0)" transform="rotate(30 731.19 603.56)"/>
<ellipse cx="771.98" cy="609.56" rx="9.12" ry="4.59" fill="rgb(108,0,0)" transform="rotate(0 771.98 609.56)"/>
<ellipse cx="771.98" cy="609.56" rx="2.92" ry="2.57" fill="rgb(65,0,0)" transform="rotate(0 771.98 609.56)"/>
<path d="M794.05 607.16 Q803.17 601.04 812.28 607.16 Q803.17 613.28 794.05 607.16Z" fill="rgb(119,0,0)" transform="rotate(-60 803.17 607.16)"/>
<ellipse cx="847.55" cy="601.16" rx="6.27" ry="5.10" fill="rgb(130,0,0)" transform="rotate(0 847.55 601.16)"/>
<path d="M823.71 611.96 Q837.96 605.84 852.20 611.96 Q837.96 618.08 823.71 611.96Z" fill="rgb(108,0,0)" transform="rotate(-40 837.96 611.96)"/>
<ellipse cx="879.94" cy="607.16" rx="9.12" ry="4.08" fill="rgb(87,0,0)" transform="rotate(10 879.94 607.16)"/>
<ellipse cx="879.94" cy="607.16" rx="2.92" ry="2.28" fill="rgb(52,0,0)" transform="rotate(10 879.94 607.16)"/>
<ellipse cx="720.39" cy="610.76" rx="6.84" ry="4.08" fill="rgb(98,0,0)" transform="rotate(-20 720.39 610.76)"/>
<path d="M708.19 631.15 Q715.60 626.05 723.00 631.15 Q715.60 636.25 708.19 631.15Z" fill="rgb(87,0,0)" transform="rotate(70 715.60 631.15)"/>
<ellipse cx="739.59" cy="622.75" rx="4.56" ry="2.55" fill="rgb(98,0,0)" transform="rotate(0 739.59 622.75)"/>
<ellipse cx="750.38" cy="623.95" rx="2.85" ry="2.55" fill="rgb(119,0,0)" transform="rotate(0 750.38 623.95)"/>
<path d="M756.11 625.15 Q762.38 622.09 768.65 625.15 Q762.38 628.21 756.11 625.15Z" fill="rgb(98,0,0)" transform="rotate(-60 762.38 625.15)"/>
<ellipse cx="837.96" cy="628.75" rx="5.70" ry="4.08" fill="rgb(76,0,0)" transform="rotate(0 837.96 628.75)"/>
<ellipse cx="863.15" cy="639.55" rx="5.70" ry="3.06" fill="rgb(98,0,0)" transform="rotate(0 863.15 639.55)"/>
<ellipse cx="807.97" cy="640.75" rx="5.13" ry="2.55" fill="rgb(98,0,0)" transform="rotate(0 807.97 640.75)"/>
<ellipse cx="713.20" cy="587.97" rx="5.13" ry="2.55" fill="rgb(98,0,0)" transform="rotate(-10 713.20 587.97)"/>
<ellipse cx="709.60" cy="573.57" rx="3.99" ry="2.04" fill="rgb(108,0,0)" transform="rotate(90 709.60 573.57)"/>
<ellipse cx="887.14" cy="508.79" rx="5.13" ry="3.06" fill="rgb(108,0,0)" transform="rotate(0 887.14 508.79)"/>
<ellipse cx="902.74" cy="512.39" rx="4.56" ry="2.04" fill="rgb(108,0,0)" transform="rotate(0 902.74 512.39)"/>
<ellipse cx="911.13" cy="554.38" rx="5.70" ry="2.04" fill="rgb(87,0,0)" transform="rotate(90 911.13 554.38)"/>
<ellipse cx="750.38" cy="503.99" rx="3.99" ry="4.08" fill="rgb(76,0,0)" transform="rotate(0 750.38 503.99)"/>
<ellipse cx="792.37" cy="494.40" rx="5.13" ry="3.06" fill="rgb(98,0,0)" transform="rotate(0 792.37 494.40)"/>
<ellipse cx="805.57" cy="501.59" rx="3.42" ry="4.08" fill="rgb(98,0,0)" transform="rotate(0 805.57 501.59)"/>
<ellipse cx="797.29" cy="575.37" rx="11.97" ry="2.86" fill="rgb(108,0,0)" transform="rotate(1 797.29 575.37)"/>
<ellipse cx="867.23" cy="562.65" rx="9.69" ry="2.19" fill="rgb(85,0,0)" transform="rotate(-10 867.23 562.65)"/>
<ellipse cx="825.72" cy="550.66" rx="8.49" ry="3.47" fill="rgb(111,0,0)" transform="rotate(27 825.72 550.66)"/>
<ellipse cx="719.07" cy="519.59" rx="6.89" ry="1.84" fill="rgb(100,0,0)" transform="rotate(-6 719.07 519.59)"/>
<ellipse cx="810.60" cy="587.61" rx="8.83" ry="3.31" fill="rgb(91,0,0)" transform="rotate(-8 810.60 587.61)"/>
<path d="M841.31 538.42 Q848.15 533.53 854.99 538.42 Q848.15 543.32 841.31 538.42Z" fill="rgb(117,0,0)" transform="rotate(-77 848.15 538.42)"/>
<ellipse cx="728.67" cy="534.82" rx="5.64" ry="1.84" fill="rgb(87,0,0)" transform="rotate(33 728.67 534.82)"/>
<path d="M792.68 638.95 Q800.77 635.07 808.86 638.95 Q800.77 642.82 792.68 638.95Z" fill="rgb(117,0,0)" transform="rotate(23 800.77 638.95)"/>
<ellipse cx="774.26" cy="537.82" rx="5.24" ry="2.70" fill="rgb(82,0,0)" transform="rotate(76 774.26 537.82)"/>
<ellipse cx="709.36" cy="561.09" rx="8.72" ry="3.36" fill="rgb(104,0,0)" transform="rotate(-56 709.36 561.09)"/>
<path d="M782.66 548.86 Q790.69 540.70 798.73 548.86 Q790.69 557.02 782.66 548.86Z" fill="rgb(124,0,0)" transform="rotate(-90 790.69 548.86)"/>
<ellipse cx="790.69" cy="548.86" rx="2.57" ry="2.28" fill="rgb(74,0,0)" transform="rotate(-90 790.69 548.86)"/>
<ellipse cx="905.97" cy="493.80" rx="6.50" ry="4.08" fill="rgb(106,0,0)" transform="rotate(18 905.97 493.80)"/>
<ellipse cx="904.17" cy="523.07" rx="7.07" ry="3.57" fill="rgb(91,0,0)" transform="rotate(-31 904.17 523.07)"/>
<ellipse cx="721.95" cy="522.35" rx="9.86" ry="1.84" fill="rgb(111,0,0)" transform="rotate(-24 721.95 522.35)"/>
<ellipse cx="898.18" cy="563.85" rx="9.40" ry="3.77" fill="rgb(85,0,0)" transform="rotate(-57 898.18 563.85)"/>
<path d="M863.55 528.46 Q870.11 521.53 876.66 528.46 Q870.11 535.40 863.55 528.46Z" fill="rgb(87,0,0)" transform="rotate(79 870.11 528.46)"/>
<ellipse cx="882.82" cy="581.97" rx="8.26" ry="2.04" fill="rgb(128,0,0)" transform="rotate(-83 882.82 581.97)"/>
<ellipse cx="854.51" cy="549.94" rx="8.26" ry="3.87" fill="rgb(104,0,0)" transform="rotate(-2 854.51 549.94)"/>
<ellipse cx="854.51" cy="549.94" rx="2.64" ry="2.17" fill="rgb(62,0,0)" transform="rotate(-2 854.51 549.94)"/>
<ellipse cx="732.39" cy="563.25" rx="9.97" ry="3.21" fill="rgb(87,0,0)" transform="rotate(-77 732.39 563.25)"/>
<ellipse cx="856.31" cy="501.23" rx="8.15" ry="2.35" fill="rgb(91,0,0)" transform="rotate(-82 856.31 501.23)"/>
<ellipse cx="725.55" cy="511.67" rx="8.49" ry="2.55" fill="rgb(104,0,0)" transform="rotate(42 725.55 511.67)"/>
<ellipse cx="824.64" cy="630.43" rx="8.66" ry="2.60" fill="rgb(78,0,0)" transform="rotate(-34 824.64 630.43)"/>
<ellipse cx="803.29" cy="601.16" rx="7.46" ry="4.08" fill="rgb(106,0,0)" transform="rotate(-76 803.29 601.16)"/>
<path d="M876.11 602.24 Q886.42 595.00 896.73 602.24 Q886.42 609.48 876.11 602.24Z" fill="rgb(95,0,0)" transform="rotate(75 886.42 602.24)"/>
<path d="M878.33 622.51 Q886.54 615.27 894.75 622.51 Q886.54 629.75 878.33 622.51Z" fill="rgb(106,0,0)" transform="rotate(65 886.54 622.51)"/>
<path d="M777.01 492.72 Q782.65 488.74 788.29 492.72 Q782.65 496.69 777.01 492.72Z" fill="rgb(89,0,0)" transform="rotate(-69 782.65 492.72)"/>
<ellipse cx="852.23" cy="549.46" rx="10.60" ry="3.11" fill="rgb(121,0,0)" transform="rotate(-11 852.23 549.46)"/>
<ellipse cx="810.48" cy="568.53" rx="7.41" ry="1.99" fill="rgb(128,0,0)" transform="rotate(-86 810.48 568.53)"/>
<ellipse cx="806.17" cy="583.65" rx="11.97" ry="2.40" fill="rgb(93,0,0)" transform="rotate(-88 806.17 583.65)"/>
<path d="M802.79 604.76 Q810.48 596.91 818.18 604.76 Q810.48 612.61 802.79 604.76Z" fill="rgb(89,0,0)" transform="rotate(0 810.48 604.76)"/>
<path d="M831.44 520.79 Q839.76 513.55 848.07 520.79 Q839.76 528.03 831.44 520.79Z" fill="rgb(124,0,0)" transform="rotate(75 839.76 520.79)"/>
<ellipse cx="750.86" cy="629.95" rx="6.67" ry="2.09" fill="rgb(124,0,0)" transform="rotate(-27 750.86 629.95)"/>
<ellipse cx="848.87" cy="634.39" rx="7.18" ry="2.19" fill="rgb(91,0,0)" transform="rotate(-9 848.87 634.39)"/>
<path d="M863.62 548.62 Q872.62 541.99 881.63 548.62 Q872.62 555.25 863.62 548.62Z" fill="rgb(121,0,0)" transform="rotate(39 872.62 548.62)"/>
<path d="M763.84 616.04 Q771.02 609.71 778.20 616.04 Q771.02 622.36 763.84 616.04Z" fill="rgb(91,0,0)" transform="rotate(32 771.02 616.04)"/>
<path d="M763.50 610.40 Q768.74 606.22 773.98 610.40 Q768.74 614.58 763.50 610.40Z" fill="rgb(78,0,0)" transform="rotate(-8 768.74 610.40)"/>
<path d="M748.99 512.15 Q754.46 505.73 759.93 512.15 Q754.46 518.57 748.99 512.15Z" fill="rgb(111,0,0)" transform="rotate(-10 754.46 512.15)"/>
<path d="M891.45 594.20 Q898.06 588.49 904.67 594.20 Q898.06 599.91 891.45 594.20Z" fill="rgb(76,0,0)" transform="rotate(-58 898.06 594.20)"/>
<ellipse cx="813.72" cy="496.31" rx="6.78" ry="3.57" fill="rgb(128,0,0)" transform="rotate(7 813.72 496.31)"/>
<ellipse cx="785.53" cy="610.52" rx="11.85" ry="1.99" fill="rgb(115,0,0)" transform="rotate(78 785.53 610.52)"/>
</g>
<clipPath id="ci3"><rect x="931" y="489" width="208.00" height="155.90"/></clipPath>
<rect x="931.00" y="489.00" width="208.00" height="155.90" fill="#000"/>
<g clip-path="url(#ci3)" filter="url(#cb)">
<path d="M926.80 518.39 Q960.99 514.31 995.18 518.39 Q960.99 522.47 926.80 518.39Z" fill="rgb(230,0,0)" transform="rotate(-40 960.99 518.39)"/>
<path d="M929.50 537.58 Q946.59 533.50 963.69 537.58 Q946.59 541.66 929.50 537.58Z" fill="rgb(217,0,0)" transform="rotate(-30 946.59 537.58)"/>
<path d="M953.49 531.58 Q970.59 522.41 987.68 531.58 Q970.59 540.76 953.49 531.58Z" fill="rgb(255,0,0)" transform="rotate(-50 970.59 531.58)"/>
<ellipse cx="970.59" cy="531.58" rx="4.00" ry="2.57" fill="rgb(153,0,0)" transform="rotate(-50 970.59 531.58)"/>
<path d="M942.09 557.98 Q970.59 546.76 999.08 557.98 Q970.59 569.19 942.09 557.98Z" fill="rgb(242,0,0)" transform="rotate(-55 970.59 557.98)"/>
<ellipse cx="970.59" cy="557.98" rx="4.00" ry="3.00" fill="rgb(145,0,0)" transform="rotate(-55 970.59 557.98)"/>
<path d="M931.90 575.97 Q948.99 571.89 966.09 575.97 Q948.99 580.05 931.90 575.97Z" fill="rgb(204,0,0)" transform="rotate(-60 948.99 575.97)"/>
<ellipse cx="992.18" cy="518.39" rx="7.41" ry="5.10" fill="rgb(255,0,0)" transform="rotate(0 992.18 518.39)"/>
<ellipse cx="1004.17" cy="524.39" rx="7.41" ry="5.10" fill="rgb(255,0,0)" transform="rotate(-20 1004.17 524.39)"/>
<path d="M991.88 501.59 Q1008.97 497.51 1026.07 501.59 Q1008.97 505.67 991.88 501.59Z" fill="rgb(217,0,0)" transform="rotate(-55 1008.97 501.59)"/>
<path d="M1005.97 506.39 Q1017.37 501.29 1028.77 506.39 Q1017.37 511.49 1005.97 506.39Z" fill="rgb(230,0,0)" transform="rotate(-75 1017.37 506.39)"/>
<path d="M1018.42 503.99 Q1026.97 497.87 1035.51 503.99 Q1026.97 510.11 1018.42 503.99Z" fill="rgb(217,0,0)" transform="rotate(-80 1026.97 503.99)"/>
<path d="M1023.82 525.59 Q1043.76 516.41 1063.71 525.59 Q1043.76 534.76 1023.82 525.59Z" fill="rgb(230,0,0)" transform="rotate(70 1043.76 525.59)"/>
<ellipse cx="1043.76" cy="525.59" rx="4.00" ry="2.57" fill="rgb(138,0,0)" transform="rotate(70 1043.76 525.59)"/>
<ellipse cx="1052.16" cy="509.99" rx="7.41" ry="5.10" fill="rgb(255,0,0)" transform="rotate(0 1052.16 509.99)"/>
<ellipse cx="1059.36" cy="515.99" rx="10.26" ry="5.10" fill="rgb(230,0,0)" transform="rotate(-10 1059.36 515.99)"/>
<ellipse cx="1059.36" cy="515.99" rx="3.28" ry="2.86" fill="rgb(138,0,0)" transform="rotate(-10 1059.36 515.99)"/>
<ellipse cx="1068.95" cy="492.00" rx="8.55" ry="4.59" fill="rgb(255,0,0)" transform="rotate(0 1068.95 492.00)"/>
<ellipse cx="1068.95" cy="492.00" rx="2.74" ry="2.57" fill="rgb(153,0,0)" transform="rotate(0 1068.95 492.00)"/>
<path d="M1073.39 507.59 Q1089.35 497.39 1105.30 507.59 Q1089.35 517.79 1073.39 507.59Z" fill="rgb(255,0,0)" transform="rotate(80 1089.35 507.59)"/>
<ellipse cx="1089.35" cy="507.59" rx="4.00" ry="2.86" fill="rgb(153,0,0)" transform="rotate(80 1089.35 507.59)"/>
<path d="M1087.79 513.59 Q1103.74 506.45 1119.70 513.59 Q1103.74 520.73 1087.79 513.59Z" fill="rgb(217,0,0)" transform="rotate(75 1103.74 513.59)"/>
<path d="M1097.89 503.99 Q1112.14 494.82 1126.39 503.99 Q1112.14 513.17 1097.89 503.99Z" fill="rgb(230,0,0)" transform="rotate(60 1112.14 503.99)"/>
<ellipse cx="1112.14" cy="503.99" rx="4.00" ry="2.57" fill="rgb(138,0,0)" transform="rotate(60 1112.14 503.99)"/>
<path d="M1112.62 497.99 Q1121.74 489.84 1130.85 497.99 Q1121.74 506.15 1112.62 497.99Z" fill="rgb(242,0,0)" transform="rotate(80 1121.74 497.99)"/>
<ellipse cx="1121.74" cy="497.99" rx="2.92" ry="2.28" fill="rgb(145,0,0)" transform="rotate(80 1121.74 497.99)"/>
<path d="M1117.84 509.99 Q1134.93 503.87 1152.03 509.99 Q1134.93 516.11 1117.84 509.99Z" fill="rgb(230,0,0)" transform="rotate(85 1134.93 509.99)"/>
<ellipse cx="1092.95" cy="539.98" rx="8.55" ry="6.12" fill="rgb(255,0,0)" transform="rotate(0 1092.95 539.98)"/>
<ellipse cx="1092.95" cy="539.98" rx="2.74" ry="3.00" fill="rgb(153,0,0)" transform="rotate(0 1092.95 539.98)"/>
<ellipse cx="1114.54" cy="537.58" rx="5.70" ry="6.12" fill="rgb(230,0,0)" transform="rotate(60 1114.54 537.58)"/>
<ellipse cx="1128.93" cy="542.38" rx="3.42" ry="3.06" fill="rgb(255,0,0)" transform="rotate(0 1128.93 542.38)"/>
<ellipse cx="1073.75" cy="538.78" rx="7.41" ry="4.59" fill="rgb(230,0,0)" transform="rotate(0 1073.75 538.78)"/>
<path d="M1044.96 551.98 Q1067.75 547.90 1090.55 551.98 Q1067.75 556.06 1044.96 551.98Z" fill="rgb(217,0,0)" transform="rotate(85 1067.75 551.98)"/>
<ellipse cx="1058.16" cy="554.38" rx="11.40" ry="5.61" fill="rgb(204,0,0)" transform="rotate(80 1058.16 554.38)"/>
<ellipse cx="1058.16" cy="554.38" rx="3.65" ry="3.00" fill="rgb(122,0,0)" transform="rotate(80 1058.16 554.38)"/>
<path d="M1013.47 537.58 Q1030.57 529.42 1047.66 537.58 Q1030.57 545.74 1013.47 537.58Z" fill="rgb(230,0,0)" transform="rotate(60 1030.57 537.58)"/>
<ellipse cx="1030.57" cy="537.58" rx="4.00" ry="2.28" fill="rgb(138,0,0)" transform="rotate(60 1030.57 537.58)"/>
<path d="M1023.07 551.98 Q1040.16 545.86 1057.26 551.98 Q1040.16 558.10 1023.07 551.98Z" fill="rgb(217,0,0)" transform="rotate(55 1040.16 551.98)"/>
<path d="M997.58 547.18 Q1008.97 541.06 1020.37 547.18 Q1008.97 553.30 997.58 547.18Z" fill="rgb(230,0,0)" transform="rotate(-70 1008.97 547.18)"/>
<ellipse cx="1001.78" cy="544.78" rx="7.41" ry="4.08" fill="rgb(230,0,0)" transform="rotate(-40 1001.78 544.78)"/>
<ellipse cx="988.58" cy="563.97" rx="11.40" ry="5.61" fill="rgb(204,0,0)" transform="rotate(80 988.58 563.97)"/>
<ellipse cx="988.58" cy="563.97" rx="3.65" ry="3.00" fill="rgb(122,0,0)" transform="rotate(80 988.58 563.97)"/>
<ellipse cx="1007.77" cy="581.97" rx="10.26" ry="5.61" fill="rgb(242,0,0)" transform="rotate(70 1007.77 581.97)"/>
<ellipse cx="1007.77" cy="581.97" rx="3.28" ry="3.00" fill="rgb(145,0,0)" transform="rotate(70 1007.77 581.97)"/>
<path d="M977.03 587.97 Q996.98 581.85 1016.92 587.97 Q996.98 594.08 977.03 587.97Z" fill="rgb(230,0,0)" transform="rotate(80 996.98 587.97)"/>
<path d="M978.83 587.97 Q987.38 582.87 995.93 587.97 Q987.38 593.06 978.83 587.97Z" fill="rgb(217,0,0)" transform="rotate(-60 987.38 587.97)"/>
<path d="M1006.72 566.37 Q1020.97 562.29 1035.21 566.37 Q1020.97 570.45 1006.72 566.37Z" fill="rgb(217,0,0)" transform="rotate(60 1020.97 566.37)"/>
<path d="M1021.57 575.97 Q1032.97 571.89 1044.36 575.97 Q1032.97 580.05 1021.57 575.97Z" fill="rgb(204,0,0)" transform="rotate(55 1032.97 575.97)"/>
<ellipse cx="954.99" cy="602.36" rx="10.26" ry="6.12" fill="rgb(255,0,0)" transform="rotate(-10 954.99 602.36)"/>
<ellipse cx="954.99" cy="602.36" rx="3.28" ry="3.00" fill="rgb(153,0,0)" transform="rotate(-10 954.99 602.36)"/>
<path d="M992.93 605.96 Q1018.57 601.88 1044.21 605.96 Q1018.57 610.04 992.93 605.96Z" fill="rgb(217,0,0)" transform="rotate(60 1018.57 605.96)"/>
<ellipse cx="1032.97" cy="601.16" rx="8.55" ry="4.59" fill="rgb(230,0,0)" transform="rotate(70 1032.97 601.16)"/>
<ellipse cx="1032.97" cy="601.16" rx="2.74" ry="2.57" fill="rgb(138,0,0)" transform="rotate(70 1032.97 601.16)"/>
<path d="M1042.71 599.96 Q1056.96 588.75 1071.20 599.96 Q1056.96 611.18 1042.71 599.96Z" fill="rgb(217,0,0)" transform="rotate(65 1056.96 599.96)"/>
<ellipse cx="1056.96" cy="599.96" rx="4.00" ry="3.00" fill="rgb(130,0,0)" transform="rotate(65 1056.96 599.96)"/>
<ellipse cx="1068.95" cy="593.96" rx="11.40" ry="6.12" fill="rgb(242,0,0)" transform="rotate(60 1068.95 593.96)"/>
<ellipse cx="1068.95" cy="593.96" rx="3.65" ry="3.00" fill="rgb(145,0,0)" transform="rotate(60 1068.95 593.96)"/>
<path d="M1039.56 623.95 Q1050.96 617.84 1062.36 623.95 Q1050.96 630.07 1039.56 623.95Z" fill="rgb(217,0,0)" transform="rotate(75 1050.96 623.95)"/>
<path d="M1056.30 629.95 Q1066.55 624.85 1076.81 629.95 Q1066.55 635.05 1056.30 629.95Z" fill="rgb(230,0,0)" transform="rotate(80 1066.55 629.95)"/>
<path d="M1079.00 593.96 Q1098.94 582.75 1118.89 593.96 Q1098.94 605.18 1079.00 593.96Z" fill="rgb(230,0,0)" transform="rotate(80 1098.94 593.96)"/>
<ellipse cx="1098.94" cy="593.96" rx="4.00" ry="3.00" fill="rgb(138,0,0)" transform="rotate(80 1098.94 593.96)"/>
<path d="M1094.30 585.57 Q1108.54 574.35 1122.79 585.57 Q1108.54 596.78 1094.30 585.57Z" fill="rgb(230,0,0)" transform="rotate(70 1108.54 585.57)"/>
<ellipse cx="1108.54" cy="585.57" rx="4.00" ry="3.00" fill="rgb(138,0,0)" transform="rotate(70 1108.54 585.57)"/>
<ellipse cx="1120.54" cy="581.97" rx="11.40" ry="6.12" fill="rgb(255,0,0)" transform="rotate(80 1120.54 581.97)"/>
<ellipse cx="1120.54" cy="581.97" rx="3.65" ry="3.00" fill="rgb(153,0,0)" transform="rotate(80 1120.54 581.97)"/>
<ellipse cx="1097.74" cy="571.17" rx="3.42" ry="3.06" fill="rgb(255,0,0)" transform="rotate(0 1097.74 571.17)"/>
<path d="M1078.40 575.97 Q1086.95 572.91 1095.50 575.97 Q1086.95 579.03 1078.40 575.97Z" fill="rgb(230,0,0)" transform="rotate(80 1086.95 575.97)"/>
<ellipse cx="1110.94" cy="562.77" rx="4.56" ry="2.04" fill="rgb(230,0,0)" transform="rotate(0 1110.94 562.77)"/>
<path d="M1129.29 561.57 Q1136.13 557.50 1142.97 561.57 Q1136.13 565.65 1129.29 561.57Z" fill="rgb(230,0,0)" transform="rotate(-70 1136.13 561.57)"/>
<path d="M973.58 629.95 Q984.98 625.87 996.38 629.95 Q984.98 634.03 973.58 629.95Z" fill="rgb(153,0,0)" transform="rotate(-60 984.98 629.95)"/>
<ellipse cx="996.98" cy="617.96" rx="5.70" ry="4.08" fill="rgb(204,0,0)" transform="rotate(0 996.98 617.96)"/>
<path d="M963.75 623.95 Q970.59 619.88 977.42 623.95 Q970.59 628.03 963.75 623.95Z" fill="rgb(153,0,0)" transform="rotate(-30 970.59 623.95)"/>
<path d="M1012.42 635.95 Q1020.97 629.83 1029.52 635.95 Q1020.97 642.07 1012.42 635.95Z" fill="rgb(178,0,0)" transform="rotate(80 1020.97 635.95)"/>
<ellipse cx="1100.14" cy="638.35" rx="8.55" ry="4.08" fill="rgb(230,0,0)" transform="rotate(30 1100.14 638.35)"/>
<ellipse cx="1100.14" cy="638.35" rx="2.74" ry="2.28" fill="rgb(138,0,0)" transform="rotate(30 1100.14 638.35)"/>
<ellipse cx="934.60" cy="535.18" rx="4.56" ry="4.08" fill="rgb(255,0,0)" transform="rotate(0 934.60 535.18)"/>
<ellipse cx="933.40" cy="575.97" rx="3.42" ry="2.04" fill="rgb(230,0,0)" transform="rotate(90 933.40 575.97)"/>
<ellipse cx="960.99" cy="495.60" rx="5.70" ry="3.06" fill="rgb(230,0,0)" transform="rotate(0 960.99 495.60)"/>
<ellipse cx="976.58" cy="497.99" rx="5.70" ry="3.06" fill="rgb(230,0,0)" transform="rotate(30 976.58 497.99)"/>
<ellipse cx="938.20" cy="490.80" rx="4.56" ry="2.04" fill="rgb(230,0,0)" transform="rotate(-10 938.20 490.80)"/>
<path d="M1032.82 635.95 Q1041.36 631.87 1049.91 635.95 Q1041.36 640.03 1032.82 635.95Z" fill="rgb(178,0,0)" transform="rotate(80 1041.36 635.95)"/>
<path d="M1076.57 611.96 Q1084.55 605.84 1092.53 611.96 Q1084.55 618.08 1076.57 611.96Z" fill="rgb(178,0,0)" transform="rotate(80 1084.55 611.96)"/>
<ellipse cx="1121.74" cy="629.95" rx="8.55" ry="3.06" fill="rgb(128,0,0)" transform="rotate(-30 1121.74 629.95)"/>
<path d="M925.15 557.98 Q939.40 551.86 953.64 557.98 Q939.40 564.09 925.15 557.98Z" fill="rgb(230,0,0)" transform="rotate(-50 939.40 557.98)"/>
<path d="M943.59 549.58 Q954.99 543.46 966.39 549.58 Q954.99 555.70 943.59 549.58Z" fill="rgb(230,0,0)" transform="rotate(-55 954.99 549.58)"/>
<ellipse cx="948.99" cy="609.56" rx="8.55" ry="5.10" fill="rgb(230,0,0)" transform="rotate(0 948.99 609.56)"/>
<ellipse cx="948.99" cy="609.56" rx="2.74" ry="2.86" fill="rgb(138,0,0)" transform="rotate(0 948.99 609.56)"/>
<path d="M970.44 611.96 Q978.98 607.88 987.53 611.96 Q978.98 616.04 970.44 611.96Z" fill="rgb(178,0,0)" transform="rotate(-60 978.98 611.96)"/>
<path d="M994.43 629.95 Q1002.98 624.85 1011.52 629.95 Q1002.98 635.05 994.43 629.95Z" fill="rgb(204,0,0)" transform="rotate(70 1002.98 629.95)"/>
<path d="M997.58 611.96 Q1008.97 606.86 1020.37 611.96 Q1008.97 617.06 997.58 611.96Z" fill="rgb(217,0,0)" transform="rotate(65 1008.97 611.96)"/>
<path d="M1036.41 611.96 Q1044.96 605.84 1053.51 611.96 Q1044.96 618.08 1036.41 611.96Z" fill="rgb(204,0,0)" transform="rotate(70 1044.96 611.96)"/>
<path d="M1070.00 563.97 Q1078.55 559.89 1087.10 563.97 Q1078.55 568.05 1070.00 563.97Z" fill="rgb(204,0,0)" transform="rotate(80 1078.55 563.97)"/>
<path d="M1066.40 617.96 Q1074.95 611.84 1083.50 617.96 Q1074.95 624.07 1066.40 617.96Z" fill="rgb(204,0,0)" transform="rotate(75 1074.95 617.96)"/>
<path d="M1110.79 611.96 Q1119.34 605.84 1127.89 611.96 Q1119.34 618.08 1110.79 611.96Z" fill="rgb(178,0,0)" transform="rotate(80 1119.34 611.96)"/>
<path d="M1120.39 527.98 Q1128.93 521.87 1137.48 527.98 Q1128.93 534.10 1120.39 527.98Z" fill="rgb(230,0,0)" transform="rotate(80 1128.93 527.98)"/>
<ellipse cx="1098.94" cy="527.98" rx="6.84" ry="3.57" fill="rgb(230,0,0)" transform="rotate(70 1098.94 527.98)"/>
<path d="M1038.12 497.99 Q1044.96 491.88 1051.80 497.99 Q1044.96 504.11 1038.12 497.99Z" fill="rgb(217,0,0)" transform="rotate(-70 1044.96 497.99)"/>
<path d="M1022.02 515.99 Q1030.57 511.91 1039.11 515.99 Q1030.57 520.07 1022.02 515.99Z" fill="rgb(217,0,0)" transform="rotate(-75 1030.57 515.99)"/>
<path d="M978.83 547.18 Q987.38 542.08 995.93 547.18 Q987.38 552.28 978.83 547.18Z" fill="rgb(230,0,0)" transform="rotate(-60 987.38 547.18)"/>
</g>
<clipPath id="ci4"><rect x="1158.1" y="489" width="208.60" height="155.90"/></clipPath>
<rect x="1158.10" y="489.00" width="208.60" height="155.90" fill="#000"/>
<g clip-path="url(#ci4)" filter="url(#cb)">
<path d="M1166.25 496.79 Q1174.79 492.72 1183.34 496.79 Q1174.79 500.87 1166.25 496.79Z" fill="rgb(242,0,0)" transform="rotate(-60 1174.79 496.79)"/>
<ellipse cx="1160.40" cy="515.99" rx="6.84" ry="3.57" fill="rgb(242,0,0)" transform="rotate(90 1160.40 515.99)"/>
<ellipse cx="1178.39" cy="523.19" rx="9.69" ry="4.33" fill="rgb(242,0,0)" transform="rotate(-65 1178.39 523.19)"/>
<ellipse cx="1178.39" cy="523.19" rx="3.10" ry="2.43" fill="rgb(145,0,0)" transform="rotate(-65 1178.39 523.19)"/>
<path d="M1174.88 521.99 Q1187.99 517.91 1201.09 521.99 Q1187.99 526.07 1174.88 521.99Z" fill="rgb(218,0,0)" transform="rotate(-75 1187.99 521.99)"/>
<ellipse cx="1197.59" cy="499.19" rx="6.84" ry="4.08" fill="rgb(218,0,0)" transform="rotate(-40 1197.59 499.19)"/>
<path d="M1195.67 507.59 Q1204.78 501.47 1213.90 507.59 Q1204.78 513.71 1195.67 507.59Z" fill="rgb(206,0,0)" transform="rotate(-70 1204.78 507.59)"/>
<path d="M1206.97 507.59 Q1214.38 503.51 1221.79 507.59 Q1214.38 511.67 1206.97 507.59Z" fill="rgb(218,0,0)" transform="rotate(-45 1214.38 507.59)"/>
<ellipse cx="1204.78" cy="529.18" rx="6.84" ry="4.08" fill="rgb(206,0,0)" transform="rotate(-30 1204.78 529.18)"/>
<ellipse cx="1245.57" cy="499.19" rx="13.11" ry="6.12" fill="rgb(170,0,0)" transform="rotate(-20 1245.57 499.19)"/>
<ellipse cx="1245.57" cy="499.19" rx="4.00" ry="3.00" fill="rgb(102,0,0)" transform="rotate(-20 1245.57 499.19)"/>
<path d="M1217.98 517.19 Q1240.77 512.09 1263.56 517.19 Q1240.77 522.29 1217.98 517.19Z" fill="rgb(194,0,0)" transform="rotate(-50 1240.77 517.19)"/>
<path d="M1274.90 507.59 Q1285.16 501.47 1295.41 507.59 Q1285.16 513.71 1274.90 507.59Z" fill="rgb(206,0,0)" transform="rotate(80 1285.16 507.59)"/>
<ellipse cx="1238.37" cy="535.18" rx="5.13" ry="3.06" fill="rgb(230,0,0)" transform="rotate(-40 1238.37 535.18)"/>
<ellipse cx="1250.37" cy="542.38" rx="5.13" ry="3.57" fill="rgb(242,0,0)" transform="rotate(20 1250.37 542.38)"/>
<path d="M1244.82 539.98 Q1264.76 528.76 1284.71 539.98 Q1264.76 551.20 1244.82 539.98Z" fill="rgb(206,0,0)" transform="rotate(-65 1264.76 539.98)"/>
<ellipse cx="1264.76" cy="539.98" rx="4.00" ry="3.00" fill="rgb(124,0,0)" transform="rotate(-65 1264.76 539.98)"/>
<path d="M1279.13 533.98 Q1289.96 529.90 1300.78 533.98 Q1289.96 538.06 1279.13 533.98Z" fill="rgb(230,0,0)" transform="rotate(-65 1289.96 533.98)"/>
<ellipse cx="1294.75" cy="541.78" rx="3.99" ry="2.04" fill="rgb(218,0,0)" transform="rotate(-50 1294.75 541.78)"/>
<ellipse cx="1324.74" cy="514.79" rx="11.40" ry="7.14" fill="rgb(194,0,0)" transform="rotate(-20 1324.74 514.79)"/>
<ellipse cx="1324.74" cy="514.79" rx="3.65" ry="3.00" fill="rgb(116,0,0)" transform="rotate(-20 1324.74 514.79)"/>
<path d="M1327.74 519.59 Q1339.14 515.51 1350.54 519.59 Q1339.14 523.67 1327.74 519.59Z" fill="rgb(194,0,0)" transform="rotate(30 1339.14 519.59)"/>
<ellipse cx="1309.15" cy="520.79" rx="3.99" ry="3.57" fill="rgb(242,0,0)" transform="rotate(0 1309.15 520.79)"/>
<ellipse cx="1316.35" cy="521.99" rx="3.99" ry="3.06" fill="rgb(242,0,0)" transform="rotate(0 1316.35 521.99)"/>
<ellipse cx="1342.74" cy="533.38" rx="5.70" ry="2.55" fill="rgb(230,0,0)" transform="rotate(0 1342.74 533.38)"/>
<ellipse cx="1357.13" cy="503.99" rx="6.84" ry="4.59" fill="rgb(242,0,0)" transform="rotate(-20 1357.13 503.99)"/>
<ellipse cx="1341.54" cy="492.60" rx="3.42" ry="2.55" fill="rgb(242,0,0)" transform="rotate(0 1341.54 492.60)"/>
<ellipse cx="1307.95" cy="551.98" rx="14.25" ry="9.18" fill="rgb(97,0,0)" transform="rotate(-20 1307.95 551.98)"/>
<ellipse cx="1307.95" cy="551.98" rx="4.00" ry="3.00" fill="rgb(58,0,0)" transform="rotate(-20 1307.95 551.98)"/>
<ellipse cx="1169.39" cy="552.58" rx="6.27" ry="5.61" fill="rgb(242,0,0)" transform="rotate(0 1169.39 552.58)"/>
<ellipse cx="1178.99" cy="548.38" rx="5.13" ry="4.59" fill="rgb(242,0,0)" transform="rotate(0 1178.99 548.38)"/>
<ellipse cx="1162.80" cy="550.78" rx="4.56" ry="2.55" fill="rgb(242,0,0)" transform="rotate(90 1162.80 550.78)"/>
<path d="M1180.25 556.78 Q1192.79 548.62 1205.32 556.78 Q1192.79 564.93 1180.25 556.78Z" fill="rgb(242,0,0)" transform="rotate(-70 1192.79 556.78)"/>
<ellipse cx="1192.79" cy="556.78" rx="4.00" ry="2.28" fill="rgb(145,0,0)" transform="rotate(-70 1192.79 556.78)"/>
<ellipse cx="1208.38" cy="542.38" rx="2.85" ry="2.55" fill="rgb(242,0,0)" transform="rotate(0 1208.38 542.38)"/>
<ellipse cx="1205.98" cy="554.38" rx="5.70" ry="3.06" fill="rgb(145,0,0)" transform="rotate(60 1205.98 554.38)"/>
<ellipse cx="1178.39" cy="566.37" rx="6.84" ry="3.06" fill="rgb(230,0,0)" transform="rotate(-40 1178.39 566.37)"/>
<ellipse cx="1161.00" cy="571.17" rx="5.70" ry="3.06" fill="rgb(194,0,0)" transform="rotate(80 1161.00 571.17)"/>
<path d="M1215.43 556.78 Q1223.98 553.72 1232.52 556.78 Q1223.98 559.83 1215.43 556.78Z" fill="rgb(218,0,0)" transform="rotate(-10 1223.98 556.78)"/>
<path d="M1196.09 557.98 Q1213.18 556.45 1230.27 557.98 Q1213.18 559.50 1196.09 557.98Z" fill="rgb(170,0,0)" transform="rotate(75 1213.18 557.98)"/>
<ellipse cx="1217.98" cy="579.57" rx="6.84" ry="4.08" fill="rgb(170,0,0)" transform="rotate(0 1217.98 579.57)"/>
<ellipse cx="1231.17" cy="569.97" rx="5.70" ry="3.06" fill="rgb(170,0,0)" transform="rotate(30 1231.17 569.97)"/>
<path d="M1195.55 568.77 Q1202.38 564.69 1209.22 568.77 Q1202.38 572.85 1195.55 568.77Z" fill="rgb(194,0,0)" transform="rotate(0 1202.38 568.77)"/>
<ellipse cx="1287.56" cy="573.57" rx="11.40" ry="6.12" fill="rgb(218,0,0)" transform="rotate(10 1287.56 573.57)"/>
<ellipse cx="1287.56" cy="573.57" rx="3.65" ry="3.00" fill="rgb(131,0,0)" transform="rotate(10 1287.56 573.57)"/>
<ellipse cx="1301.95" cy="581.97" rx="7.98" ry="4.08" fill="rgb(206,0,0)" transform="rotate(0 1301.95 581.97)"/>
<ellipse cx="1346.34" cy="572.37" rx="11.40" ry="5.10" fill="rgb(218,0,0)" transform="rotate(-20 1346.34 572.37)"/>
<ellipse cx="1346.34" cy="572.37" rx="3.65" ry="2.86" fill="rgb(131,0,0)" transform="rotate(-20 1346.34 572.37)"/>
<ellipse cx="1358.33" cy="566.37" rx="5.70" ry="3.06" fill="rgb(218,0,0)" transform="rotate(-30 1358.33 566.37)"/>
<path d="M1277.66 590.36 Q1294.75 584.25 1311.85 590.36 Q1294.75 596.48 1277.66 590.36Z" fill="rgb(218,0,0)" transform="rotate(15 1294.75 590.36)"/>
<ellipse cx="1277.96" cy="587.97" rx="6.84" ry="2.55" fill="rgb(218,0,0)" transform="rotate(20 1277.96 587.97)"/>
<ellipse cx="1259.97" cy="572.37" rx="2.28" ry="2.04" fill="rgb(242,0,0)" transform="rotate(0 1259.97 572.37)"/>
<path d="M1300.45 599.96 Q1317.55 593.84 1334.64 599.96 Q1317.55 606.08 1300.45 599.96Z" fill="rgb(218,0,0)" transform="rotate(-30 1317.55 599.96)"/>
<path d="M1311.70 599.96 Q1325.94 597.92 1340.19 599.96 Q1325.94 602.00 1311.70 599.96Z" fill="rgb(194,0,0)" transform="rotate(-20 1325.94 599.96)"/>
<ellipse cx="1345.14" cy="587.97" rx="2.28" ry="2.04" fill="rgb(242,0,0)" transform="rotate(0 1345.14 587.97)"/>
<ellipse cx="1228.78" cy="598.76" rx="14.25" ry="10.20" fill="rgb(170,0,0)" transform="rotate(-10 1228.78 598.76)"/>
<ellipse cx="1228.78" cy="598.76" rx="4.00" ry="3.00" fill="rgb(102,0,0)" transform="rotate(-10 1228.78 598.76)"/>
<ellipse cx="1245.57" cy="599.96" rx="4.56" ry="3.06" fill="rgb(206,0,0)" transform="rotate(0 1245.57 599.96)"/>
<ellipse cx="1257.57" cy="599.96" rx="4.56" ry="2.55" fill="rgb(194,0,0)" transform="rotate(0 1257.57 599.96)"/>
<path d="M1178.21 607.16 Q1197.59 594.41 1216.96 607.16 Q1197.59 619.91 1178.21 607.16Z" fill="rgb(242,0,0)" transform="rotate(80 1197.59 607.16)"/>
<ellipse cx="1197.59" cy="607.16" rx="4.00" ry="3.00" fill="rgb(145,0,0)" transform="rotate(80 1197.59 607.16)"/>
<ellipse cx="1173.59" cy="591.56" rx="7.41" ry="3.06" fill="rgb(218,0,0)" transform="rotate(80 1173.59 591.56)"/>
<path d="M1153.05 598.76 Q1161.60 593.15 1170.14 598.76 Q1161.60 604.37 1153.05 598.76Z" fill="rgb(218,0,0)" transform="rotate(-70 1161.60 598.76)"/>
<ellipse cx="1168.79" cy="604.76" rx="3.99" ry="3.06" fill="rgb(218,0,0)" transform="rotate(0 1168.79 604.76)"/>
<path d="M1167.33 626.35 Q1173.59 622.27 1179.86 626.35 Q1173.59 630.43 1167.33 626.35Z" fill="rgb(194,0,0)" transform="rotate(70 1173.59 626.35)"/>
<ellipse cx="1184.99" cy="621.55" rx="2.28" ry="2.04" fill="rgb(242,0,0)" transform="rotate(0 1184.99 621.55)"/>
<path d="M1249.71 614.36 Q1259.97 610.28 1270.22 614.36 Q1259.97 618.44 1249.71 614.36Z" fill="rgb(230,0,0)" transform="rotate(-40 1259.97 614.36)"/>
<ellipse cx="1239.57" cy="617.96" rx="8.55" ry="3.06" fill="rgb(218,0,0)" transform="rotate(10 1239.57 617.96)"/>
<path d="M1278.56 611.96 Q1289.96 607.88 1301.35 611.96 Q1289.96 616.04 1278.56 611.96Z" fill="rgb(218,0,0)" transform="rotate(-30 1289.96 611.96)"/>
<path d="M1261.02 604.76 Q1269.56 601.70 1278.11 604.76 Q1269.56 607.82 1261.02 604.76Z" fill="rgb(218,0,0)" transform="rotate(-40 1269.56 604.76)"/>
<ellipse cx="1255.17" cy="631.15" rx="14.25" ry="3.06" fill="rgb(145,0,0)" transform="rotate(-20 1255.17 631.15)"/>
<ellipse cx="1275.56" cy="628.75" rx="5.70" ry="2.04" fill="rgb(170,0,0)" transform="rotate(0 1275.56 628.75)"/>
<path d="M1293.97 632.35 Q1301.95 628.27 1309.93 632.35 Q1301.95 636.43 1293.97 632.35Z" fill="rgb(194,0,0)" transform="rotate(20 1301.95 632.35)"/>
<ellipse cx="1331.94" cy="627.55" rx="11.40" ry="3.06" fill="rgb(145,0,0)" transform="rotate(10 1331.94 627.55)"/>
<ellipse cx="1223.98" cy="643.15" rx="5.70" ry="2.04" fill="rgb(170,0,0)" transform="rotate(0 1223.98 643.15)"/>
<ellipse cx="1199.98" cy="643.15" rx="6.84" ry="2.04" fill="rgb(145,0,0)" transform="rotate(0 1199.98 643.15)"/>
<ellipse cx="1321.15" cy="493.20" rx="8.55" ry="3.57" fill="rgb(206,0,0)" transform="rotate(-30 1321.15 493.20)"/>
<ellipse cx="1291.16" cy="493.20" rx="7.41" ry="3.06" fill="rgb(194,0,0)" transform="rotate(0 1291.16 493.20)"/>
<ellipse cx="1275.56" cy="490.80" rx="3.42" ry="2.04" fill="rgb(218,0,0)" transform="rotate(0 1275.56 490.80)"/>
<ellipse cx="1161.60" cy="637.15" rx="3.42" ry="2.04" fill="rgb(170,0,0)" transform="rotate(0 1161.60 637.15)"/>
</g>
<text x="637.22" y="624.00" font-size="15.91" fill="#fff" textLength="40.51" lengthAdjust="spacingAndGlyphs">50 µm</text>
<line x1="635.10" y1="632.40" x2="678.00" y2="632.40" stroke="#fff" stroke-width="1.5" stroke-linecap="butt"/>
<text x="864.21" y="625.20" font-size="15.91" fill="#fff" textLength="41.13" lengthAdjust="spacingAndGlyphs">50 µm</text>
<line x1="862.90" y1="633.60" x2="905.70" y2="633.60" stroke="#fff" stroke-width="1.5" stroke-linecap="butt"/>
<text x="1086.11" y="625.70" font-size="15.91" fill="#fff" textLength="41.55" lengthAdjust="spacingAndGlyphs">50 µm</text>
<line x1="1085.30" y1="634.10" x2="1128.10" y2="634.10" stroke="#fff" stroke-width="1.5" stroke-linecap="butt"/>
<text x="1310.71" y="625.70" font-size="15.91" fill="#fff" textLength="41.03" lengthAdjust="spacingAndGlyphs">50 µm</text>
<line x1="1310.20" y1="634.10" x2="1352.50" y2="634.10" stroke="#fff" stroke-width="1.5" stroke-linecap="butt"/>
<text x="544.52" y="465.80" font-size="25.10" fill="#000" textLength="75.96" lengthAdjust="spacingAndGlyphs">control</text>
<text x="790.51" y="465.80" font-size="25.10" fill="#000" textLength="43.33" lengthAdjust="spacingAndGlyphs">sKL</text>
<text x="1029.68" y="465.80" font-size="25.10" fill="#000" textLength="23.91" lengthAdjust="spacingAndGlyphs">Pi</text>
<text x="1226.92" y="465.80" font-size="25.10" fill="#000" textLength="80.63" lengthAdjust="spacingAndGlyphs">Pi+sKL</text>
</svg>
</body></html>
